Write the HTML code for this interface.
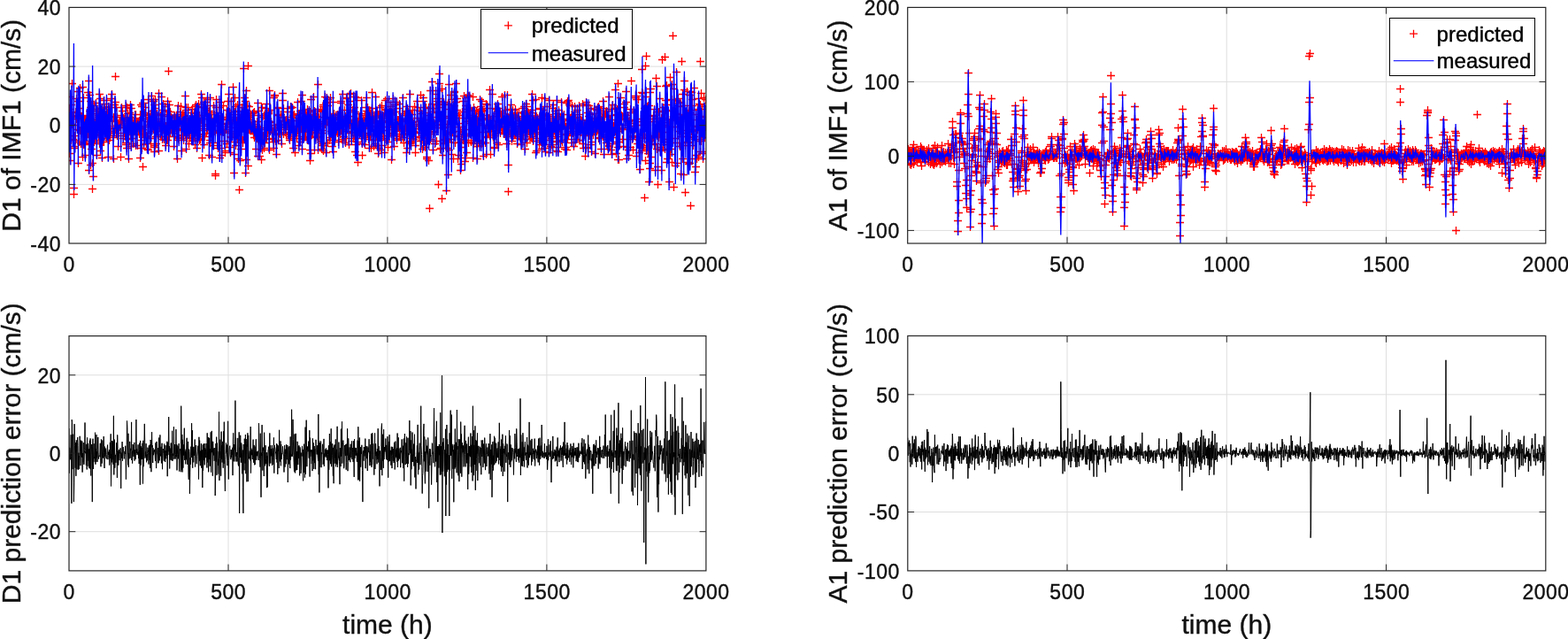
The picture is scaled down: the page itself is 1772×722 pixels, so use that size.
<!DOCTYPE html>
<html><head><meta charset="utf-8"><title>figure</title><style>html,body{margin:0;padding:0;background:#fff;}svg{display:block;}</style></head><body>
<svg width="1772" height="722" viewBox="0 0 1772 722" font-family='"Liberation Sans", Arial, Helvetica, sans-serif'>
<rect width="1772" height="722" fill="#fff"/>
<defs><clipPath id="cTL"><rect x="78" y="8.4" width="719.9" height="266.6"/></clipPath><clipPath id="cTR"><rect x="1025.7" y="8.4" width="721.1" height="266.6"/></clipPath><clipPath id="cBL"><rect x="78" y="379.6" width="719.9" height="265.3"/></clipPath><clipPath id="cBR"><rect x="1025.8" y="379.5" width="721" height="265.4"/></clipPath></defs>
<path d="M258 8.4V275M437.9 8.4V275M617.9 8.4V275M78 208.4H797.9M78 141.7H797.9M78 75.1H797.9" stroke="#dedede" stroke-width="1" fill="none"/>
<g clip-path="url(#cTL)">
<path d="M74 123.5h9m-4.5-4.5v9M74 173.5h9m-4.5-4.5v9M74 127.5h9m-4.5-4.5v9M75 131.5h9m-4.5-4.5v9M75 109.5h9m-4.5-4.5v9M75 181.5h9m-4.5-4.5v9M76 130.5h9m-4.5-4.5v9M76 158.5h9m-4.5-4.5v9M76 118.5h9m-4.5-4.5v9M77 94.5h9m-4.5-4.5v9M77 132.5h9m-4.5-4.5v9M77 140.5h9m-4.5-4.5v9M78 157.5h9m-4.5-4.5v9M78 131.5h9m-4.5-4.5v9M79 131.5h9m-4.5-4.5v9M79 219.5h9m-4.5-4.5v9M79 212.5h9m-4.5-4.5v9M80 153.5h9m-4.5-4.5v9M80 165.5h9m-4.5-4.5v9M80 167.5h9m-4.5-4.5v9M81 158.5h9m-4.5-4.5v9M81 126.5h9m-4.5-4.5v9M81 141.5h9m-4.5-4.5v9M82 111.5h9m-4.5-4.5v9M82 134.5h9m-4.5-4.5v9M82 111.5h9m-4.5-4.5v9M83 146.5h9m-4.5-4.5v9M83 127.5h9m-4.5-4.5v9M84 114.5h9m-4.5-4.5v9M84 184.5h9m-4.5-4.5v9M84 103.5h9m-4.5-4.5v9M85 160.5h9m-4.5-4.5v9M85 130.5h9m-4.5-4.5v9M85 128.5h9m-4.5-4.5v9M86 99.5h9m-4.5-4.5v9M86 122.5h9m-4.5-4.5v9M86 147.5h9m-4.5-4.5v9M87 162.5h9m-4.5-4.5v9M87 133.5h9m-4.5-4.5v9M88 131.5h9m-4.5-4.5v9M88 146.5h9m-4.5-4.5v9M88 147.5h9m-4.5-4.5v9M89 177.5h9m-4.5-4.5v9M89 98.5h9m-4.5-4.5v9M89 162.5h9m-4.5-4.5v9M90 110.5h9m-4.5-4.5v9M90 150.5h9m-4.5-4.5v9M90 163.5h9m-4.5-4.5v9M91 163.5h9m-4.5-4.5v9M91 136.5h9m-4.5-4.5v9M91 161.5h9m-4.5-4.5v9M92 175.5h9m-4.5-4.5v9M92 136.5h9m-4.5-4.5v9M93 135.5h9m-4.5-4.5v9M93 159.5h9m-4.5-4.5v9M93 150.5h9m-4.5-4.5v9M94 130.5h9m-4.5-4.5v9M94 152.5h9m-4.5-4.5v9M94 146.5h9m-4.5-4.5v9M95 136.5h9m-4.5-4.5v9M95 104.5h9m-4.5-4.5v9M95 151.5h9m-4.5-4.5v9M96 91.5h9m-4.5-4.5v9M96 192.5h9m-4.5-4.5v9M97 125.5h9m-4.5-4.5v9M97 107.5h9m-4.5-4.5v9M97 162.5h9m-4.5-4.5v9M98 114.5h9m-4.5-4.5v9M98 186.5h9m-4.5-4.5v9M98 121.5h9m-4.5-4.5v9M99 135.5h9m-4.5-4.5v9M99 118.5h9m-4.5-4.5v9M99 168.5h9m-4.5-4.5v9M100 184.5h9m-4.5-4.5v9M100 213.5h9m-4.5-4.5v9M100 144.5h9m-4.5-4.5v9M101 199.5h9m-4.5-4.5v9M101 134.5h9m-4.5-4.5v9M102 119.5h9m-4.5-4.5v9M102 160.5h9m-4.5-4.5v9M102 151.5h9m-4.5-4.5v9M103 140.5h9m-4.5-4.5v9M103 143.5h9m-4.5-4.5v9M103 158.5h9m-4.5-4.5v9M104 116.5h9m-4.5-4.5v9M104 123.5h9m-4.5-4.5v9M104 128.5h9m-4.5-4.5v9M105 175.5h9m-4.5-4.5v9M105 136.5h9m-4.5-4.5v9M106 125.5h9m-4.5-4.5v9M106 143.5h9m-4.5-4.5v9M106 140.5h9m-4.5-4.5v9M107 153.5h9m-4.5-4.5v9M107 132.5h9m-4.5-4.5v9M107 130.5h9m-4.5-4.5v9M108 106.5h9m-4.5-4.5v9M108 152.5h9m-4.5-4.5v9M108 162.5h9m-4.5-4.5v9M109 111.5h9m-4.5-4.5v9M109 170.5h9m-4.5-4.5v9M109 126.5h9m-4.5-4.5v9M110 160.5h9m-4.5-4.5v9M110 145.5h9m-4.5-4.5v9M111 123.5h9m-4.5-4.5v9M111 178.5h9m-4.5-4.5v9M111 122.5h9m-4.5-4.5v9M112 139.5h9m-4.5-4.5v9M112 160.5h9m-4.5-4.5v9M112 131.5h9m-4.5-4.5v9M113 117.5h9m-4.5-4.5v9M113 113.5h9m-4.5-4.5v9M113 160.5h9m-4.5-4.5v9M114 121.5h9m-4.5-4.5v9M114 143.5h9m-4.5-4.5v9M115 137.5h9m-4.5-4.5v9M115 151.5h9m-4.5-4.5v9M115 129.5h9m-4.5-4.5v9M116 135.5h9m-4.5-4.5v9M116 113.5h9m-4.5-4.5v9M116 156.5h9m-4.5-4.5v9M117 144.5h9m-4.5-4.5v9M117 128.5h9m-4.5-4.5v9M117 134.5h9m-4.5-4.5v9M118 177.5h9m-4.5-4.5v9M118 123.5h9m-4.5-4.5v9M118 120.5h9m-4.5-4.5v9M119 132.5h9m-4.5-4.5v9M119 158.5h9m-4.5-4.5v9M120 155.5h9m-4.5-4.5v9M120 121.5h9m-4.5-4.5v9M120 153.5h9m-4.5-4.5v9M121 111.5h9m-4.5-4.5v9M121 148.5h9m-4.5-4.5v9M121 131.5h9m-4.5-4.5v9M122 111.5h9m-4.5-4.5v9M122 106.5h9m-4.5-4.5v9M122 136.5h9m-4.5-4.5v9M123 142.5h9m-4.5-4.5v9M123 150.5h9m-4.5-4.5v9M124 179.5h9m-4.5-4.5v9M124 132.5h9m-4.5-4.5v9M124 155.5h9m-4.5-4.5v9M125 148.5h9m-4.5-4.5v9M125 144.5h9m-4.5-4.5v9M125 118.5h9m-4.5-4.5v9M126 115.5h9m-4.5-4.5v9M126 145.5h9m-4.5-4.5v9M126 86.5h9m-4.5-4.5v9M127 137.5h9m-4.5-4.5v9M127 150.5h9m-4.5-4.5v9M127 121.5h9m-4.5-4.5v9M128 153.5h9m-4.5-4.5v9M128 132.5h9m-4.5-4.5v9M129 150.5h9m-4.5-4.5v9M129 139.5h9m-4.5-4.5v9M129 165.5h9m-4.5-4.5v9M130 141.5h9m-4.5-4.5v9M130 144.5h9m-4.5-4.5v9M130 143.5h9m-4.5-4.5v9M131 143.5h9m-4.5-4.5v9M131 139.5h9m-4.5-4.5v9M131 143.5h9m-4.5-4.5v9M132 141.5h9m-4.5-4.5v9M132 177.5h9m-4.5-4.5v9M133 121.5h9m-4.5-4.5v9M133 130.5h9m-4.5-4.5v9M133 136.5h9m-4.5-4.5v9M134 125.5h9m-4.5-4.5v9M134 134.5h9m-4.5-4.5v9M134 132.5h9m-4.5-4.5v9M135 156.5h9m-4.5-4.5v9M135 133.5h9m-4.5-4.5v9M135 143.5h9m-4.5-4.5v9M136 135.5h9m-4.5-4.5v9M136 150.5h9m-4.5-4.5v9M136 141.5h9m-4.5-4.5v9M137 143.5h9m-4.5-4.5v9M137 153.5h9m-4.5-4.5v9M138 119.5h9m-4.5-4.5v9M138 161.5h9m-4.5-4.5v9M138 163.5h9m-4.5-4.5v9M139 167.5h9m-4.5-4.5v9M139 139.5h9m-4.5-4.5v9M139 121.5h9m-4.5-4.5v9M140 157.5h9m-4.5-4.5v9M140 137.5h9m-4.5-4.5v9M140 128.5h9m-4.5-4.5v9M141 179.5h9m-4.5-4.5v9M141 144.5h9m-4.5-4.5v9M142 145.5h9m-4.5-4.5v9M142 127.5h9m-4.5-4.5v9M142 132.5h9m-4.5-4.5v9M143 152.5h9m-4.5-4.5v9M143 118.5h9m-4.5-4.5v9M143 149.5h9m-4.5-4.5v9M144 165.5h9m-4.5-4.5v9M144 143.5h9m-4.5-4.5v9M144 122.5h9m-4.5-4.5v9M145 156.5h9m-4.5-4.5v9M145 151.5h9m-4.5-4.5v9M145 135.5h9m-4.5-4.5v9M146 139.5h9m-4.5-4.5v9M146 162.5h9m-4.5-4.5v9M147 144.5h9m-4.5-4.5v9M147 139.5h9m-4.5-4.5v9M147 147.5h9m-4.5-4.5v9M148 133.5h9m-4.5-4.5v9M148 148.5h9m-4.5-4.5v9M148 129.5h9m-4.5-4.5v9M149 164.5h9m-4.5-4.5v9M149 139.5h9m-4.5-4.5v9M149 129.5h9m-4.5-4.5v9M150 152.5h9m-4.5-4.5v9M150 137.5h9m-4.5-4.5v9M151 164.5h9m-4.5-4.5v9M151 138.5h9m-4.5-4.5v9M151 137.5h9m-4.5-4.5v9M152 137.5h9m-4.5-4.5v9M152 147.5h9m-4.5-4.5v9M152 143.5h9m-4.5-4.5v9M153 151.5h9m-4.5-4.5v9M153 136.5h9m-4.5-4.5v9M153 147.5h9m-4.5-4.5v9M154 144.5h9m-4.5-4.5v9M154 129.5h9m-4.5-4.5v9M154 178.5h9m-4.5-4.5v9M155 158.5h9m-4.5-4.5v9M155 118.5h9m-4.5-4.5v9M156 167.5h9m-4.5-4.5v9M156 120.5h9m-4.5-4.5v9M156 144.5h9m-4.5-4.5v9M157 188.5h9m-4.5-4.5v9M157 146.5h9m-4.5-4.5v9M157 116.5h9m-4.5-4.5v9M158 116.5h9m-4.5-4.5v9M158 163.5h9m-4.5-4.5v9M158 152.5h9m-4.5-4.5v9M159 127.5h9m-4.5-4.5v9M159 155.5h9m-4.5-4.5v9M160 129.5h9m-4.5-4.5v9M160 150.5h9m-4.5-4.5v9M160 121.5h9m-4.5-4.5v9M161 153.5h9m-4.5-4.5v9M161 162.5h9m-4.5-4.5v9M161 154.5h9m-4.5-4.5v9M162 155.5h9m-4.5-4.5v9M162 168.5h9m-4.5-4.5v9M162 137.5h9m-4.5-4.5v9M163 134.5h9m-4.5-4.5v9M163 169.5h9m-4.5-4.5v9M163 112.5h9m-4.5-4.5v9M164 132.5h9m-4.5-4.5v9M164 130.5h9m-4.5-4.5v9M165 143.5h9m-4.5-4.5v9M165 156.5h9m-4.5-4.5v9M165 141.5h9m-4.5-4.5v9M166 128.5h9m-4.5-4.5v9M166 134.5h9m-4.5-4.5v9M166 162.5h9m-4.5-4.5v9M167 108.5h9m-4.5-4.5v9M167 125.5h9m-4.5-4.5v9M167 148.5h9m-4.5-4.5v9M168 142.5h9m-4.5-4.5v9M168 129.5h9m-4.5-4.5v9M169 114.5h9m-4.5-4.5v9M169 131.5h9m-4.5-4.5v9M169 146.5h9m-4.5-4.5v9M170 118.5h9m-4.5-4.5v9M170 171.5h9m-4.5-4.5v9M170 166.5h9m-4.5-4.5v9M171 122.5h9m-4.5-4.5v9M171 164.5h9m-4.5-4.5v9M171 112.5h9m-4.5-4.5v9M172 154.5h9m-4.5-4.5v9M172 162.5h9m-4.5-4.5v9M172 129.5h9m-4.5-4.5v9M173 136.5h9m-4.5-4.5v9M173 128.5h9m-4.5-4.5v9M174 152.5h9m-4.5-4.5v9M174 141.5h9m-4.5-4.5v9M174 148.5h9m-4.5-4.5v9M175 170.5h9m-4.5-4.5v9M175 105.5h9m-4.5-4.5v9M175 130.5h9m-4.5-4.5v9M176 143.5h9m-4.5-4.5v9M176 140.5h9m-4.5-4.5v9M176 141.5h9m-4.5-4.5v9M177 154.5h9m-4.5-4.5v9M177 130.5h9m-4.5-4.5v9M178 134.5h9m-4.5-4.5v9M178 154.5h9m-4.5-4.5v9M178 109.5h9m-4.5-4.5v9M179 140.5h9m-4.5-4.5v9M179 145.5h9m-4.5-4.5v9M179 157.5h9m-4.5-4.5v9M180 117.5h9m-4.5-4.5v9M180 124.5h9m-4.5-4.5v9M180 143.5h9m-4.5-4.5v9M181 148.5h9m-4.5-4.5v9M181 149.5h9m-4.5-4.5v9M181 157.5h9m-4.5-4.5v9M182 120.5h9m-4.5-4.5v9M182 143.5h9m-4.5-4.5v9M183 164.5h9m-4.5-4.5v9M183 150.5h9m-4.5-4.5v9M183 142.5h9m-4.5-4.5v9M184 158.5h9m-4.5-4.5v9M184 131.5h9m-4.5-4.5v9M184 129.5h9m-4.5-4.5v9M185 158.5h9m-4.5-4.5v9M185 114.5h9m-4.5-4.5v9M185 125.5h9m-4.5-4.5v9M186 126.5h9m-4.5-4.5v9M186 80.5h9m-4.5-4.5v9M187 154.5h9m-4.5-4.5v9M187 118.5h9m-4.5-4.5v9M187 141.5h9m-4.5-4.5v9M188 126.5h9m-4.5-4.5v9M188 149.5h9m-4.5-4.5v9M188 142.5h9m-4.5-4.5v9M189 142.5h9m-4.5-4.5v9M189 132.5h9m-4.5-4.5v9M189 144.5h9m-4.5-4.5v9M190 136.5h9m-4.5-4.5v9M190 145.5h9m-4.5-4.5v9M190 133.5h9m-4.5-4.5v9M191 150.5h9m-4.5-4.5v9M191 146.5h9m-4.5-4.5v9M192 136.5h9m-4.5-4.5v9M192 140.5h9m-4.5-4.5v9M192 165.5h9m-4.5-4.5v9M193 130.5h9m-4.5-4.5v9M193 139.5h9m-4.5-4.5v9M193 154.5h9m-4.5-4.5v9M194 144.5h9m-4.5-4.5v9M194 136.5h9m-4.5-4.5v9M194 138.5h9m-4.5-4.5v9M195 131.5h9m-4.5-4.5v9M195 147.5h9m-4.5-4.5v9M196 179.5h9m-4.5-4.5v9M196 138.5h9m-4.5-4.5v9M196 129.5h9m-4.5-4.5v9M197 119.5h9m-4.5-4.5v9M197 155.5h9m-4.5-4.5v9M197 156.5h9m-4.5-4.5v9M198 158.5h9m-4.5-4.5v9M198 138.5h9m-4.5-4.5v9M198 145.5h9m-4.5-4.5v9M199 138.5h9m-4.5-4.5v9M199 126.5h9m-4.5-4.5v9M199 126.5h9m-4.5-4.5v9M200 146.5h9m-4.5-4.5v9M200 120.5h9m-4.5-4.5v9M201 170.5h9m-4.5-4.5v9M201 145.5h9m-4.5-4.5v9M201 131.5h9m-4.5-4.5v9M202 153.5h9m-4.5-4.5v9M202 129.5h9m-4.5-4.5v9M202 152.5h9m-4.5-4.5v9M203 137.5h9m-4.5-4.5v9M203 158.5h9m-4.5-4.5v9M203 131.5h9m-4.5-4.5v9M204 130.5h9m-4.5-4.5v9M204 135.5h9m-4.5-4.5v9M205 151.5h9m-4.5-4.5v9M205 108.5h9m-4.5-4.5v9M205 143.5h9m-4.5-4.5v9M206 121.5h9m-4.5-4.5v9M206 168.5h9m-4.5-4.5v9M206 124.5h9m-4.5-4.5v9M207 138.5h9m-4.5-4.5v9M207 156.5h9m-4.5-4.5v9M207 150.5h9m-4.5-4.5v9M208 149.5h9m-4.5-4.5v9M208 121.5h9m-4.5-4.5v9M208 144.5h9m-4.5-4.5v9M209 162.5h9m-4.5-4.5v9M209 150.5h9m-4.5-4.5v9M210 138.5h9m-4.5-4.5v9M210 143.5h9m-4.5-4.5v9M210 155.5h9m-4.5-4.5v9M211 133.5h9m-4.5-4.5v9M211 136.5h9m-4.5-4.5v9M211 147.5h9m-4.5-4.5v9M212 127.5h9m-4.5-4.5v9M212 151.5h9m-4.5-4.5v9M212 151.5h9m-4.5-4.5v9M213 123.5h9m-4.5-4.5v9M213 139.5h9m-4.5-4.5v9M214 158.5h9m-4.5-4.5v9M214 159.5h9m-4.5-4.5v9M214 134.5h9m-4.5-4.5v9M215 151.5h9m-4.5-4.5v9M215 128.5h9m-4.5-4.5v9M215 153.5h9m-4.5-4.5v9M216 120.5h9m-4.5-4.5v9M216 163.5h9m-4.5-4.5v9M216 143.5h9m-4.5-4.5v9M217 137.5h9m-4.5-4.5v9M217 118.5h9m-4.5-4.5v9M217 149.5h9m-4.5-4.5v9M218 158.5h9m-4.5-4.5v9M218 167.5h9m-4.5-4.5v9M219 120.5h9m-4.5-4.5v9M219 120.5h9m-4.5-4.5v9M219 156.5h9m-4.5-4.5v9M220 147.5h9m-4.5-4.5v9M220 130.5h9m-4.5-4.5v9M220 117.5h9m-4.5-4.5v9M221 158.5h9m-4.5-4.5v9M221 130.5h9m-4.5-4.5v9M221 151.5h9m-4.5-4.5v9M222 157.5h9m-4.5-4.5v9M222 139.5h9m-4.5-4.5v9M223 133.5h9m-4.5-4.5v9M223 106.5h9m-4.5-4.5v9M223 135.5h9m-4.5-4.5v9M224 110.5h9m-4.5-4.5v9M224 142.5h9m-4.5-4.5v9M224 178.5h9m-4.5-4.5v9M225 142.5h9m-4.5-4.5v9M225 152.5h9m-4.5-4.5v9M225 121.5h9m-4.5-4.5v9M226 145.5h9m-4.5-4.5v9M226 163.5h9m-4.5-4.5v9M226 115.5h9m-4.5-4.5v9M227 154.5h9m-4.5-4.5v9M227 134.5h9m-4.5-4.5v9M228 122.5h9m-4.5-4.5v9M228 115.5h9m-4.5-4.5v9M228 127.5h9m-4.5-4.5v9M229 124.5h9m-4.5-4.5v9M229 150.5h9m-4.5-4.5v9M229 127.5h9m-4.5-4.5v9M230 119.5h9m-4.5-4.5v9M230 112.5h9m-4.5-4.5v9M230 147.5h9m-4.5-4.5v9M231 140.5h9m-4.5-4.5v9M231 140.5h9m-4.5-4.5v9M232 127.5h9m-4.5-4.5v9M232 175.5h9m-4.5-4.5v9M232 125.5h9m-4.5-4.5v9M233 158.5h9m-4.5-4.5v9M233 110.5h9m-4.5-4.5v9M233 161.5h9m-4.5-4.5v9M234 129.5h9m-4.5-4.5v9M234 136.5h9m-4.5-4.5v9M234 142.5h9m-4.5-4.5v9M235 147.5h9m-4.5-4.5v9M235 177.5h9m-4.5-4.5v9M235 133.5h9m-4.5-4.5v9M236 150.5h9m-4.5-4.5v9M236 161.5h9m-4.5-4.5v9M237 135.5h9m-4.5-4.5v9M237 164.5h9m-4.5-4.5v9M237 119.5h9m-4.5-4.5v9M238 148.5h9m-4.5-4.5v9M238 147.5h9m-4.5-4.5v9M238 129.5h9m-4.5-4.5v9M239 198.5h9m-4.5-4.5v9M239 149.5h9m-4.5-4.5v9M239 196.5h9m-4.5-4.5v9M240 121.5h9m-4.5-4.5v9M240 112.5h9m-4.5-4.5v9M241 127.5h9m-4.5-4.5v9M241 137.5h9m-4.5-4.5v9M241 164.5h9m-4.5-4.5v9M242 134.5h9m-4.5-4.5v9M242 132.5h9m-4.5-4.5v9M242 167.5h9m-4.5-4.5v9M243 142.5h9m-4.5-4.5v9M243 138.5h9m-4.5-4.5v9M243 121.5h9m-4.5-4.5v9M244 178.5h9m-4.5-4.5v9M244 167.5h9m-4.5-4.5v9M244 134.5h9m-4.5-4.5v9M245 148.5h9m-4.5-4.5v9M245 115.5h9m-4.5-4.5v9M246 95.5h9m-4.5-4.5v9M246 134.5h9m-4.5-4.5v9M246 175.5h9m-4.5-4.5v9M247 132.5h9m-4.5-4.5v9M247 147.5h9m-4.5-4.5v9M247 147.5h9m-4.5-4.5v9M248 134.5h9m-4.5-4.5v9M248 119.5h9m-4.5-4.5v9M248 149.5h9m-4.5-4.5v9M249 149.5h9m-4.5-4.5v9M249 159.5h9m-4.5-4.5v9M250 170.5h9m-4.5-4.5v9M250 172.5h9m-4.5-4.5v9M250 143.5h9m-4.5-4.5v9M251 139.5h9m-4.5-4.5v9M251 132.5h9m-4.5-4.5v9M251 146.5h9m-4.5-4.5v9M252 140.5h9m-4.5-4.5v9M252 124.5h9m-4.5-4.5v9M252 162.5h9m-4.5-4.5v9M253 135.5h9m-4.5-4.5v9M253 114.5h9m-4.5-4.5v9M253 140.5h9m-4.5-4.5v9M254 134.5h9m-4.5-4.5v9M254 106.5h9m-4.5-4.5v9M255 166.5h9m-4.5-4.5v9M255 148.5h9m-4.5-4.5v9M255 126.5h9m-4.5-4.5v9M256 154.5h9m-4.5-4.5v9M256 172.5h9m-4.5-4.5v9M256 160.5h9m-4.5-4.5v9M257 114.5h9m-4.5-4.5v9M257 150.5h9m-4.5-4.5v9M257 155.5h9m-4.5-4.5v9M258 139.5h9m-4.5-4.5v9M258 154.5h9m-4.5-4.5v9M259 129.5h9m-4.5-4.5v9M259 132.5h9m-4.5-4.5v9M259 98.5h9m-4.5-4.5v9M260 126.5h9m-4.5-4.5v9M260 174.5h9m-4.5-4.5v9M260 195.5h9m-4.5-4.5v9M261 126.5h9m-4.5-4.5v9M261 160.5h9m-4.5-4.5v9M261 110.5h9m-4.5-4.5v9M262 152.5h9m-4.5-4.5v9M262 120.5h9m-4.5-4.5v9M262 164.5h9m-4.5-4.5v9M263 144.5h9m-4.5-4.5v9M263 137.5h9m-4.5-4.5v9M264 157.5h9m-4.5-4.5v9M264 135.5h9m-4.5-4.5v9M264 118.5h9m-4.5-4.5v9M265 134.5h9m-4.5-4.5v9M265 179.5h9m-4.5-4.5v9M265 141.5h9m-4.5-4.5v9M266 214.5h9m-4.5-4.5v9M266 118.5h9m-4.5-4.5v9M266 125.5h9m-4.5-4.5v9M267 181.5h9m-4.5-4.5v9M267 133.5h9m-4.5-4.5v9M268 147.5h9m-4.5-4.5v9M268 130.5h9m-4.5-4.5v9M268 168.5h9m-4.5-4.5v9M269 121.5h9m-4.5-4.5v9M269 135.5h9m-4.5-4.5v9M269 157.5h9m-4.5-4.5v9M270 125.5h9m-4.5-4.5v9M270 158.5h9m-4.5-4.5v9M270 161.5h9m-4.5-4.5v9M271 77.5h9m-4.5-4.5v9M271 157.5h9m-4.5-4.5v9M271 140.5h9m-4.5-4.5v9M272 110.5h9m-4.5-4.5v9M272 157.5h9m-4.5-4.5v9M273 114.5h9m-4.5-4.5v9M273 131.5h9m-4.5-4.5v9M273 195.5h9m-4.5-4.5v9M274 102.5h9m-4.5-4.5v9M274 124.5h9m-4.5-4.5v9M274 180.5h9m-4.5-4.5v9M275 134.5h9m-4.5-4.5v9M275 125.5h9m-4.5-4.5v9M275 119.5h9m-4.5-4.5v9M276 187.5h9m-4.5-4.5v9M276 74.5h9m-4.5-4.5v9M277 135.5h9m-4.5-4.5v9M277 146.5h9m-4.5-4.5v9M277 120.5h9m-4.5-4.5v9M278 132.5h9m-4.5-4.5v9M278 145.5h9m-4.5-4.5v9M278 138.5h9m-4.5-4.5v9M279 130.5h9m-4.5-4.5v9M279 145.5h9m-4.5-4.5v9M279 147.5h9m-4.5-4.5v9M280 144.5h9m-4.5-4.5v9M280 141.5h9m-4.5-4.5v9M280 146.5h9m-4.5-4.5v9M281 128.5h9m-4.5-4.5v9M281 145.5h9m-4.5-4.5v9M282 127.5h9m-4.5-4.5v9M282 150.5h9m-4.5-4.5v9M282 151.5h9m-4.5-4.5v9M283 126.5h9m-4.5-4.5v9M283 155.5h9m-4.5-4.5v9M283 137.5h9m-4.5-4.5v9M284 140.5h9m-4.5-4.5v9M284 143.5h9m-4.5-4.5v9M284 150.5h9m-4.5-4.5v9M285 168.5h9m-4.5-4.5v9M285 146.5h9m-4.5-4.5v9M286 144.5h9m-4.5-4.5v9M286 156.5h9m-4.5-4.5v9M286 137.5h9m-4.5-4.5v9M287 157.5h9m-4.5-4.5v9M287 116.5h9m-4.5-4.5v9M287 176.5h9m-4.5-4.5v9M288 130.5h9m-4.5-4.5v9M288 148.5h9m-4.5-4.5v9M288 125.5h9m-4.5-4.5v9M289 144.5h9m-4.5-4.5v9M289 176.5h9m-4.5-4.5v9M289 159.5h9m-4.5-4.5v9M290 152.5h9m-4.5-4.5v9M290 146.5h9m-4.5-4.5v9M291 180.5h9m-4.5-4.5v9M291 121.5h9m-4.5-4.5v9M291 161.5h9m-4.5-4.5v9M292 121.5h9m-4.5-4.5v9M292 132.5h9m-4.5-4.5v9M292 169.5h9m-4.5-4.5v9M293 158.5h9m-4.5-4.5v9M293 155.5h9m-4.5-4.5v9M293 153.5h9m-4.5-4.5v9M294 167.5h9m-4.5-4.5v9M294 130.5h9m-4.5-4.5v9M295 161.5h9m-4.5-4.5v9M295 156.5h9m-4.5-4.5v9M295 128.5h9m-4.5-4.5v9M296 149.5h9m-4.5-4.5v9M296 122.5h9m-4.5-4.5v9M296 157.5h9m-4.5-4.5v9M297 157.5h9m-4.5-4.5v9M297 117.5h9m-4.5-4.5v9M297 134.5h9m-4.5-4.5v9M298 150.5h9m-4.5-4.5v9M298 148.5h9m-4.5-4.5v9M298 138.5h9m-4.5-4.5v9M299 128.5h9m-4.5-4.5v9M299 126.5h9m-4.5-4.5v9M300 169.5h9m-4.5-4.5v9M300 169.5h9m-4.5-4.5v9M300 102.5h9m-4.5-4.5v9M301 141.5h9m-4.5-4.5v9M301 148.5h9m-4.5-4.5v9M301 124.5h9m-4.5-4.5v9M302 145.5h9m-4.5-4.5v9M302 138.5h9m-4.5-4.5v9M302 137.5h9m-4.5-4.5v9M303 146.5h9m-4.5-4.5v9M303 156.5h9m-4.5-4.5v9M304 148.5h9m-4.5-4.5v9M304 157.5h9m-4.5-4.5v9M304 150.5h9m-4.5-4.5v9M305 167.5h9m-4.5-4.5v9M305 110.5h9m-4.5-4.5v9M305 160.5h9m-4.5-4.5v9M306 107.5h9m-4.5-4.5v9M306 108.5h9m-4.5-4.5v9M306 147.5h9m-4.5-4.5v9M307 144.5h9m-4.5-4.5v9M307 159.5h9m-4.5-4.5v9M307 147.5h9m-4.5-4.5v9M308 174.5h9m-4.5-4.5v9M308 152.5h9m-4.5-4.5v9M309 121.5h9m-4.5-4.5v9M309 140.5h9m-4.5-4.5v9M309 122.5h9m-4.5-4.5v9M310 144.5h9m-4.5-4.5v9M310 130.5h9m-4.5-4.5v9M310 158.5h9m-4.5-4.5v9M311 129.5h9m-4.5-4.5v9M311 129.5h9m-4.5-4.5v9M311 150.5h9m-4.5-4.5v9M312 141.5h9m-4.5-4.5v9M312 151.5h9m-4.5-4.5v9M313 129.5h9m-4.5-4.5v9M313 143.5h9m-4.5-4.5v9M313 141.5h9m-4.5-4.5v9M314 162.5h9m-4.5-4.5v9M314 140.5h9m-4.5-4.5v9M314 144.5h9m-4.5-4.5v9M315 113.5h9m-4.5-4.5v9M315 105.5h9m-4.5-4.5v9M315 132.5h9m-4.5-4.5v9M316 122.5h9m-4.5-4.5v9M316 151.5h9m-4.5-4.5v9M316 136.5h9m-4.5-4.5v9M317 143.5h9m-4.5-4.5v9M317 141.5h9m-4.5-4.5v9M318 137.5h9m-4.5-4.5v9M318 149.5h9m-4.5-4.5v9M318 137.5h9m-4.5-4.5v9M319 152.5h9m-4.5-4.5v9M319 135.5h9m-4.5-4.5v9M319 146.5h9m-4.5-4.5v9M320 141.5h9m-4.5-4.5v9M320 137.5h9m-4.5-4.5v9M320 126.5h9m-4.5-4.5v9M321 126.5h9m-4.5-4.5v9M321 140.5h9m-4.5-4.5v9M322 152.5h9m-4.5-4.5v9M322 138.5h9m-4.5-4.5v9M322 150.5h9m-4.5-4.5v9M323 156.5h9m-4.5-4.5v9M323 140.5h9m-4.5-4.5v9M323 158.5h9m-4.5-4.5v9M324 122.5h9m-4.5-4.5v9M324 154.5h9m-4.5-4.5v9M324 120.5h9m-4.5-4.5v9M325 121.5h9m-4.5-4.5v9M325 136.5h9m-4.5-4.5v9M325 136.5h9m-4.5-4.5v9M326 132.5h9m-4.5-4.5v9M326 121.5h9m-4.5-4.5v9M327 154.5h9m-4.5-4.5v9M327 130.5h9m-4.5-4.5v9M327 167.5h9m-4.5-4.5v9M328 147.5h9m-4.5-4.5v9M328 146.5h9m-4.5-4.5v9M328 129.5h9m-4.5-4.5v9M329 147.5h9m-4.5-4.5v9M329 172.5h9m-4.5-4.5v9M329 146.5h9m-4.5-4.5v9M330 145.5h9m-4.5-4.5v9M330 136.5h9m-4.5-4.5v9M331 156.5h9m-4.5-4.5v9M331 145.5h9m-4.5-4.5v9M331 153.5h9m-4.5-4.5v9M332 133.5h9m-4.5-4.5v9M332 115.5h9m-4.5-4.5v9M332 147.5h9m-4.5-4.5v9M333 128.5h9m-4.5-4.5v9M333 143.5h9m-4.5-4.5v9M333 164.5h9m-4.5-4.5v9M334 146.5h9m-4.5-4.5v9M334 134.5h9m-4.5-4.5v9M334 128.5h9m-4.5-4.5v9M335 160.5h9m-4.5-4.5v9M335 125.5h9m-4.5-4.5v9M336 114.5h9m-4.5-4.5v9M336 145.5h9m-4.5-4.5v9M336 141.5h9m-4.5-4.5v9M337 140.5h9m-4.5-4.5v9M337 168.5h9m-4.5-4.5v9M337 107.5h9m-4.5-4.5v9M338 156.5h9m-4.5-4.5v9M338 132.5h9m-4.5-4.5v9M338 157.5h9m-4.5-4.5v9M339 124.5h9m-4.5-4.5v9M339 154.5h9m-4.5-4.5v9M340 149.5h9m-4.5-4.5v9M340 127.5h9m-4.5-4.5v9M340 146.5h9m-4.5-4.5v9M341 139.5h9m-4.5-4.5v9M341 154.5h9m-4.5-4.5v9M341 127.5h9m-4.5-4.5v9M342 134.5h9m-4.5-4.5v9M342 131.5h9m-4.5-4.5v9M342 145.5h9m-4.5-4.5v9M343 158.5h9m-4.5-4.5v9M343 123.5h9m-4.5-4.5v9M343 155.5h9m-4.5-4.5v9M344 126.5h9m-4.5-4.5v9M344 156.5h9m-4.5-4.5v9M345 154.5h9m-4.5-4.5v9M345 124.5h9m-4.5-4.5v9M345 146.5h9m-4.5-4.5v9M346 181.5h9m-4.5-4.5v9M346 126.5h9m-4.5-4.5v9M346 169.5h9m-4.5-4.5v9M347 173.5h9m-4.5-4.5v9M347 112.5h9m-4.5-4.5v9M347 144.5h9m-4.5-4.5v9M348 135.5h9m-4.5-4.5v9M348 150.5h9m-4.5-4.5v9M349 147.5h9m-4.5-4.5v9M349 131.5h9m-4.5-4.5v9M349 149.5h9m-4.5-4.5v9M350 109.5h9m-4.5-4.5v9M350 130.5h9m-4.5-4.5v9M350 130.5h9m-4.5-4.5v9M351 150.5h9m-4.5-4.5v9M351 169.5h9m-4.5-4.5v9M351 125.5h9m-4.5-4.5v9M352 150.5h9m-4.5-4.5v9M352 129.5h9m-4.5-4.5v9M352 155.5h9m-4.5-4.5v9M353 131.5h9m-4.5-4.5v9M353 135.5h9m-4.5-4.5v9M354 139.5h9m-4.5-4.5v9M354 154.5h9m-4.5-4.5v9M354 131.5h9m-4.5-4.5v9M355 95.5h9m-4.5-4.5v9M355 169.5h9m-4.5-4.5v9M355 123.5h9m-4.5-4.5v9M356 155.5h9m-4.5-4.5v9M356 132.5h9m-4.5-4.5v9M356 147.5h9m-4.5-4.5v9M357 142.5h9m-4.5-4.5v9M357 140.5h9m-4.5-4.5v9M358 160.5h9m-4.5-4.5v9M358 125.5h9m-4.5-4.5v9M358 126.5h9m-4.5-4.5v9M359 168.5h9m-4.5-4.5v9M359 164.5h9m-4.5-4.5v9M359 150.5h9m-4.5-4.5v9M360 147.5h9m-4.5-4.5v9M360 124.5h9m-4.5-4.5v9M360 162.5h9m-4.5-4.5v9M361 170.5h9m-4.5-4.5v9M361 118.5h9m-4.5-4.5v9M361 120.5h9m-4.5-4.5v9M362 164.5h9m-4.5-4.5v9M362 137.5h9m-4.5-4.5v9M363 109.5h9m-4.5-4.5v9M363 140.5h9m-4.5-4.5v9M363 139.5h9m-4.5-4.5v9M364 116.5h9m-4.5-4.5v9M364 141.5h9m-4.5-4.5v9M364 172.5h9m-4.5-4.5v9M365 110.5h9m-4.5-4.5v9M365 116.5h9m-4.5-4.5v9M365 135.5h9m-4.5-4.5v9M366 112.5h9m-4.5-4.5v9M366 119.5h9m-4.5-4.5v9M366 161.5h9m-4.5-4.5v9M367 137.5h9m-4.5-4.5v9M367 138.5h9m-4.5-4.5v9M368 158.5h9m-4.5-4.5v9M368 115.5h9m-4.5-4.5v9M368 155.5h9m-4.5-4.5v9M369 110.5h9m-4.5-4.5v9M369 135.5h9m-4.5-4.5v9M369 155.5h9m-4.5-4.5v9M370 139.5h9m-4.5-4.5v9M370 148.5h9m-4.5-4.5v9M370 133.5h9m-4.5-4.5v9M371 153.5h9m-4.5-4.5v9M371 165.5h9m-4.5-4.5v9M372 145.5h9m-4.5-4.5v9M372 115.5h9m-4.5-4.5v9M372 171.5h9m-4.5-4.5v9M373 147.5h9m-4.5-4.5v9M373 134.5h9m-4.5-4.5v9M373 128.5h9m-4.5-4.5v9M374 158.5h9m-4.5-4.5v9M374 135.5h9m-4.5-4.5v9M374 139.5h9m-4.5-4.5v9M375 152.5h9m-4.5-4.5v9M375 133.5h9m-4.5-4.5v9M375 132.5h9m-4.5-4.5v9M376 148.5h9m-4.5-4.5v9M376 146.5h9m-4.5-4.5v9M377 130.5h9m-4.5-4.5v9M377 150.5h9m-4.5-4.5v9M377 129.5h9m-4.5-4.5v9M378 144.5h9m-4.5-4.5v9M378 130.5h9m-4.5-4.5v9M378 160.5h9m-4.5-4.5v9M379 130.5h9m-4.5-4.5v9M379 126.5h9m-4.5-4.5v9M379 147.5h9m-4.5-4.5v9M380 149.5h9m-4.5-4.5v9M380 151.5h9m-4.5-4.5v9M381 116.5h9m-4.5-4.5v9M381 114.5h9m-4.5-4.5v9M381 146.5h9m-4.5-4.5v9M382 139.5h9m-4.5-4.5v9M382 131.5h9m-4.5-4.5v9M382 157.5h9m-4.5-4.5v9M383 106.5h9m-4.5-4.5v9M383 159.5h9m-4.5-4.5v9M383 138.5h9m-4.5-4.5v9M384 154.5h9m-4.5-4.5v9M384 142.5h9m-4.5-4.5v9M384 136.5h9m-4.5-4.5v9M385 124.5h9m-4.5-4.5v9M385 131.5h9m-4.5-4.5v9M386 161.5h9m-4.5-4.5v9M386 131.5h9m-4.5-4.5v9M386 133.5h9m-4.5-4.5v9M387 148.5h9m-4.5-4.5v9M387 156.5h9m-4.5-4.5v9M387 110.5h9m-4.5-4.5v9M388 111.5h9m-4.5-4.5v9M388 141.5h9m-4.5-4.5v9M388 141.5h9m-4.5-4.5v9M389 118.5h9m-4.5-4.5v9M389 131.5h9m-4.5-4.5v9M390 136.5h9m-4.5-4.5v9M390 163.5h9m-4.5-4.5v9M390 135.5h9m-4.5-4.5v9M391 106.5h9m-4.5-4.5v9M391 141.5h9m-4.5-4.5v9M391 114.5h9m-4.5-4.5v9M392 105.5h9m-4.5-4.5v9M392 136.5h9m-4.5-4.5v9M392 150.5h9m-4.5-4.5v9M393 159.5h9m-4.5-4.5v9M393 140.5h9m-4.5-4.5v9M393 141.5h9m-4.5-4.5v9M394 149.5h9m-4.5-4.5v9M394 124.5h9m-4.5-4.5v9M395 156.5h9m-4.5-4.5v9M395 124.5h9m-4.5-4.5v9M395 109.5h9m-4.5-4.5v9M396 121.5h9m-4.5-4.5v9M396 141.5h9m-4.5-4.5v9M396 153.5h9m-4.5-4.5v9M397 126.5h9m-4.5-4.5v9M397 171.5h9m-4.5-4.5v9M397 109.5h9m-4.5-4.5v9M398 150.5h9m-4.5-4.5v9M398 163.5h9m-4.5-4.5v9M399 175.5h9m-4.5-4.5v9M399 110.5h9m-4.5-4.5v9M399 160.5h9m-4.5-4.5v9M400 146.5h9m-4.5-4.5v9M400 183.5h9m-4.5-4.5v9M400 138.5h9m-4.5-4.5v9M401 146.5h9m-4.5-4.5v9M401 133.5h9m-4.5-4.5v9M401 149.5h9m-4.5-4.5v9M402 149.5h9m-4.5-4.5v9M402 137.5h9m-4.5-4.5v9M402 144.5h9m-4.5-4.5v9M403 150.5h9m-4.5-4.5v9M403 128.5h9m-4.5-4.5v9M404 144.5h9m-4.5-4.5v9M404 156.5h9m-4.5-4.5v9M404 113.5h9m-4.5-4.5v9M405 162.5h9m-4.5-4.5v9M405 139.5h9m-4.5-4.5v9M405 175.5h9m-4.5-4.5v9M406 139.5h9m-4.5-4.5v9M406 135.5h9m-4.5-4.5v9M406 150.5h9m-4.5-4.5v9M407 136.5h9m-4.5-4.5v9M407 153.5h9m-4.5-4.5v9M408 163.5h9m-4.5-4.5v9M408 155.5h9m-4.5-4.5v9M408 130.5h9m-4.5-4.5v9M409 142.5h9m-4.5-4.5v9M409 155.5h9m-4.5-4.5v9M409 121.5h9m-4.5-4.5v9M410 110.5h9m-4.5-4.5v9M410 125.5h9m-4.5-4.5v9M410 141.5h9m-4.5-4.5v9M411 142.5h9m-4.5-4.5v9M411 151.5h9m-4.5-4.5v9M411 121.5h9m-4.5-4.5v9M412 131.5h9m-4.5-4.5v9M412 157.5h9m-4.5-4.5v9M413 124.5h9m-4.5-4.5v9M413 167.5h9m-4.5-4.5v9M413 132.5h9m-4.5-4.5v9M414 130.5h9m-4.5-4.5v9M414 153.5h9m-4.5-4.5v9M414 130.5h9m-4.5-4.5v9M415 151.5h9m-4.5-4.5v9M415 128.5h9m-4.5-4.5v9M415 167.5h9m-4.5-4.5v9M416 122.5h9m-4.5-4.5v9M416 104.5h9m-4.5-4.5v9M417 142.5h9m-4.5-4.5v9M417 130.5h9m-4.5-4.5v9M417 158.5h9m-4.5-4.5v9M418 135.5h9m-4.5-4.5v9M418 165.5h9m-4.5-4.5v9M418 158.5h9m-4.5-4.5v9M419 146.5h9m-4.5-4.5v9M419 142.5h9m-4.5-4.5v9M419 133.5h9m-4.5-4.5v9M420 162.5h9m-4.5-4.5v9M420 109.5h9m-4.5-4.5v9M420 137.5h9m-4.5-4.5v9M421 153.5h9m-4.5-4.5v9M421 143.5h9m-4.5-4.5v9M422 126.5h9m-4.5-4.5v9M422 164.5h9m-4.5-4.5v9M422 149.5h9m-4.5-4.5v9M423 129.5h9m-4.5-4.5v9M423 143.5h9m-4.5-4.5v9M423 173.5h9m-4.5-4.5v9M424 129.5h9m-4.5-4.5v9M424 154.5h9m-4.5-4.5v9M424 167.5h9m-4.5-4.5v9M425 121.5h9m-4.5-4.5v9M425 142.5h9m-4.5-4.5v9M426 131.5h9m-4.5-4.5v9M426 169.5h9m-4.5-4.5v9M426 136.5h9m-4.5-4.5v9M427 119.5h9m-4.5-4.5v9M427 164.5h9m-4.5-4.5v9M427 156.5h9m-4.5-4.5v9M428 138.5h9m-4.5-4.5v9M428 130.5h9m-4.5-4.5v9M428 147.5h9m-4.5-4.5v9M429 153.5h9m-4.5-4.5v9M429 131.5h9m-4.5-4.5v9M429 143.5h9m-4.5-4.5v9M430 127.5h9m-4.5-4.5v9M430 172.5h9m-4.5-4.5v9M431 123.5h9m-4.5-4.5v9M431 124.5h9m-4.5-4.5v9M431 113.5h9m-4.5-4.5v9M432 129.5h9m-4.5-4.5v9M432 133.5h9m-4.5-4.5v9M432 158.5h9m-4.5-4.5v9M433 136.5h9m-4.5-4.5v9M433 111.5h9m-4.5-4.5v9M433 127.5h9m-4.5-4.5v9M434 160.5h9m-4.5-4.5v9M434 166.5h9m-4.5-4.5v9M435 124.5h9m-4.5-4.5v9M435 137.5h9m-4.5-4.5v9M435 115.5h9m-4.5-4.5v9M436 150.5h9m-4.5-4.5v9M436 141.5h9m-4.5-4.5v9M436 126.5h9m-4.5-4.5v9M437 124.5h9m-4.5-4.5v9M437 140.5h9m-4.5-4.5v9M437 120.5h9m-4.5-4.5v9M438 151.5h9m-4.5-4.5v9M438 126.5h9m-4.5-4.5v9M438 180.5h9m-4.5-4.5v9M439 141.5h9m-4.5-4.5v9M439 128.5h9m-4.5-4.5v9M440 111.5h9m-4.5-4.5v9M440 151.5h9m-4.5-4.5v9M440 153.5h9m-4.5-4.5v9M441 165.5h9m-4.5-4.5v9M441 146.5h9m-4.5-4.5v9M441 126.5h9m-4.5-4.5v9M442 118.5h9m-4.5-4.5v9M442 126.5h9m-4.5-4.5v9M442 147.5h9m-4.5-4.5v9M443 153.5h9m-4.5-4.5v9M443 151.5h9m-4.5-4.5v9M444 115.5h9m-4.5-4.5v9M444 156.5h9m-4.5-4.5v9M444 158.5h9m-4.5-4.5v9M445 135.5h9m-4.5-4.5v9M445 141.5h9m-4.5-4.5v9M445 138.5h9m-4.5-4.5v9M446 135.5h9m-4.5-4.5v9M446 142.5h9m-4.5-4.5v9M446 140.5h9m-4.5-4.5v9M447 148.5h9m-4.5-4.5v9M447 122.5h9m-4.5-4.5v9M447 117.5h9m-4.5-4.5v9M448 143.5h9m-4.5-4.5v9M448 134.5h9m-4.5-4.5v9M449 154.5h9m-4.5-4.5v9M449 157.5h9m-4.5-4.5v9M449 144.5h9m-4.5-4.5v9M450 128.5h9m-4.5-4.5v9M450 134.5h9m-4.5-4.5v9M450 151.5h9m-4.5-4.5v9M451 110.5h9m-4.5-4.5v9M451 152.5h9m-4.5-4.5v9M451 155.5h9m-4.5-4.5v9M452 147.5h9m-4.5-4.5v9M452 161.5h9m-4.5-4.5v9M453 130.5h9m-4.5-4.5v9M453 150.5h9m-4.5-4.5v9M453 136.5h9m-4.5-4.5v9M454 135.5h9m-4.5-4.5v9M454 142.5h9m-4.5-4.5v9M454 126.5h9m-4.5-4.5v9M455 120.5h9m-4.5-4.5v9M455 172.5h9m-4.5-4.5v9M455 137.5h9m-4.5-4.5v9M456 167.5h9m-4.5-4.5v9M456 125.5h9m-4.5-4.5v9M456 148.5h9m-4.5-4.5v9M457 143.5h9m-4.5-4.5v9M457 126.5h9m-4.5-4.5v9M458 151.5h9m-4.5-4.5v9M458 135.5h9m-4.5-4.5v9M458 160.5h9m-4.5-4.5v9M459 106.5h9m-4.5-4.5v9M459 162.5h9m-4.5-4.5v9M459 135.5h9m-4.5-4.5v9M460 138.5h9m-4.5-4.5v9M460 161.5h9m-4.5-4.5v9M460 159.5h9m-4.5-4.5v9M461 129.5h9m-4.5-4.5v9M461 156.5h9m-4.5-4.5v9M462 124.5h9m-4.5-4.5v9M462 142.5h9m-4.5-4.5v9M462 138.5h9m-4.5-4.5v9M463 157.5h9m-4.5-4.5v9M463 148.5h9m-4.5-4.5v9M463 140.5h9m-4.5-4.5v9M464 149.5h9m-4.5-4.5v9M464 120.5h9m-4.5-4.5v9M464 150.5h9m-4.5-4.5v9M465 154.5h9m-4.5-4.5v9M465 164.5h9m-4.5-4.5v9M465 172.5h9m-4.5-4.5v9M466 145.5h9m-4.5-4.5v9M466 145.5h9m-4.5-4.5v9M467 133.5h9m-4.5-4.5v9M467 114.5h9m-4.5-4.5v9M467 114.5h9m-4.5-4.5v9M468 121.5h9m-4.5-4.5v9M468 142.5h9m-4.5-4.5v9M468 137.5h9m-4.5-4.5v9M469 150.5h9m-4.5-4.5v9M469 155.5h9m-4.5-4.5v9M469 145.5h9m-4.5-4.5v9M470 125.5h9m-4.5-4.5v9M470 133.5h9m-4.5-4.5v9M471 135.5h9m-4.5-4.5v9M471 159.5h9m-4.5-4.5v9M471 107.5h9m-4.5-4.5v9M472 159.5h9m-4.5-4.5v9M472 128.5h9m-4.5-4.5v9M472 142.5h9m-4.5-4.5v9M473 168.5h9m-4.5-4.5v9M473 153.5h9m-4.5-4.5v9M473 155.5h9m-4.5-4.5v9M474 114.5h9m-4.5-4.5v9M474 159.5h9m-4.5-4.5v9M474 110.5h9m-4.5-4.5v9M475 152.5h9m-4.5-4.5v9M475 156.5h9m-4.5-4.5v9M476 166.5h9m-4.5-4.5v9M476 127.5h9m-4.5-4.5v9M476 152.5h9m-4.5-4.5v9M477 149.5h9m-4.5-4.5v9M477 121.5h9m-4.5-4.5v9M477 161.5h9m-4.5-4.5v9M478 179.5h9m-4.5-4.5v9M478 177.5h9m-4.5-4.5v9M478 142.5h9m-4.5-4.5v9M479 135.5h9m-4.5-4.5v9M479 155.5h9m-4.5-4.5v9M480 122.5h9m-4.5-4.5v9M480 140.5h9m-4.5-4.5v9M480 181.5h9m-4.5-4.5v9M481 235.5h9m-4.5-4.5v9M481 159.5h9m-4.5-4.5v9M481 130.5h9m-4.5-4.5v9M482 102.5h9m-4.5-4.5v9M482 145.5h9m-4.5-4.5v9M482 157.5h9m-4.5-4.5v9M483 132.5h9m-4.5-4.5v9M483 151.5h9m-4.5-4.5v9M483 148.5h9m-4.5-4.5v9M484 92.5h9m-4.5-4.5v9M484 117.5h9m-4.5-4.5v9M485 102.5h9m-4.5-4.5v9M485 169.5h9m-4.5-4.5v9M485 126.5h9m-4.5-4.5v9M486 148.5h9m-4.5-4.5v9M486 122.5h9m-4.5-4.5v9M486 138.5h9m-4.5-4.5v9M487 149.5h9m-4.5-4.5v9M487 142.5h9m-4.5-4.5v9M487 162.5h9m-4.5-4.5v9M488 127.5h9m-4.5-4.5v9M488 106.5h9m-4.5-4.5v9M489 137.5h9m-4.5-4.5v9M489 118.5h9m-4.5-4.5v9M489 159.5h9m-4.5-4.5v9M490 144.5h9m-4.5-4.5v9M490 114.5h9m-4.5-4.5v9M490 111.5h9m-4.5-4.5v9M491 208.5h9m-4.5-4.5v9M491 136.5h9m-4.5-4.5v9M491 141.5h9m-4.5-4.5v9M492 102.5h9m-4.5-4.5v9M492 94.5h9m-4.5-4.5v9M492 83.5h9m-4.5-4.5v9M493 168.5h9m-4.5-4.5v9M493 121.5h9m-4.5-4.5v9M494 134.5h9m-4.5-4.5v9M494 167.5h9m-4.5-4.5v9M494 140.5h9m-4.5-4.5v9M495 224.5h9m-4.5-4.5v9M495 100.5h9m-4.5-4.5v9M495 133.5h9m-4.5-4.5v9M496 175.5h9m-4.5-4.5v9M496 117.5h9m-4.5-4.5v9M496 131.5h9m-4.5-4.5v9M497 162.5h9m-4.5-4.5v9M497 115.5h9m-4.5-4.5v9M498 144.5h9m-4.5-4.5v9M498 158.5h9m-4.5-4.5v9M498 118.5h9m-4.5-4.5v9M499 161.5h9m-4.5-4.5v9M499 157.5h9m-4.5-4.5v9M499 123.5h9m-4.5-4.5v9M500 158.5h9m-4.5-4.5v9M500 215.5h9m-4.5-4.5v9M500 151.5h9m-4.5-4.5v9M501 167.5h9m-4.5-4.5v9M501 143.5h9m-4.5-4.5v9M501 140.5h9m-4.5-4.5v9M502 117.5h9m-4.5-4.5v9M502 197.5h9m-4.5-4.5v9M503 169.5h9m-4.5-4.5v9M503 95.5h9m-4.5-4.5v9M503 160.5h9m-4.5-4.5v9M504 118.5h9m-4.5-4.5v9M504 133.5h9m-4.5-4.5v9M504 149.5h9m-4.5-4.5v9M505 107.5h9m-4.5-4.5v9M505 157.5h9m-4.5-4.5v9M505 131.5h9m-4.5-4.5v9M506 174.5h9m-4.5-4.5v9M506 112.5h9m-4.5-4.5v9M507 133.5h9m-4.5-4.5v9M507 149.5h9m-4.5-4.5v9M507 134.5h9m-4.5-4.5v9M508 128.5h9m-4.5-4.5v9M508 118.5h9m-4.5-4.5v9M508 179.5h9m-4.5-4.5v9M509 104.5h9m-4.5-4.5v9M509 119.5h9m-4.5-4.5v9M509 103.5h9m-4.5-4.5v9M510 148.5h9m-4.5-4.5v9M510 161.5h9m-4.5-4.5v9M510 153.5h9m-4.5-4.5v9M511 115.5h9m-4.5-4.5v9M511 94.5h9m-4.5-4.5v9M512 124.5h9m-4.5-4.5v9M512 128.5h9m-4.5-4.5v9M512 111.5h9m-4.5-4.5v9M513 154.5h9m-4.5-4.5v9M513 154.5h9m-4.5-4.5v9M513 179.5h9m-4.5-4.5v9M514 139.5h9m-4.5-4.5v9M514 130.5h9m-4.5-4.5v9M514 175.5h9m-4.5-4.5v9M515 133.5h9m-4.5-4.5v9M515 143.5h9m-4.5-4.5v9M516 160.5h9m-4.5-4.5v9M516 192.5h9m-4.5-4.5v9M516 148.5h9m-4.5-4.5v9M517 185.5h9m-4.5-4.5v9M517 166.5h9m-4.5-4.5v9M517 157.5h9m-4.5-4.5v9M518 151.5h9m-4.5-4.5v9M518 126.5h9m-4.5-4.5v9M518 149.5h9m-4.5-4.5v9M519 114.5h9m-4.5-4.5v9M519 152.5h9m-4.5-4.5v9M519 158.5h9m-4.5-4.5v9M520 158.5h9m-4.5-4.5v9M520 108.5h9m-4.5-4.5v9M521 161.5h9m-4.5-4.5v9M521 182.5h9m-4.5-4.5v9M521 146.5h9m-4.5-4.5v9M522 178.5h9m-4.5-4.5v9M522 110.5h9m-4.5-4.5v9M522 119.5h9m-4.5-4.5v9M523 172.5h9m-4.5-4.5v9M523 153.5h9m-4.5-4.5v9M523 137.5h9m-4.5-4.5v9M524 123.5h9m-4.5-4.5v9M524 107.5h9m-4.5-4.5v9M525 133.5h9m-4.5-4.5v9M525 108.5h9m-4.5-4.5v9M525 161.5h9m-4.5-4.5v9M526 139.5h9m-4.5-4.5v9M526 137.5h9m-4.5-4.5v9M526 109.5h9m-4.5-4.5v9M527 151.5h9m-4.5-4.5v9M527 122.5h9m-4.5-4.5v9M527 130.5h9m-4.5-4.5v9M528 158.5h9m-4.5-4.5v9M528 136.5h9m-4.5-4.5v9M528 160.5h9m-4.5-4.5v9M529 125.5h9m-4.5-4.5v9M529 147.5h9m-4.5-4.5v9M530 136.5h9m-4.5-4.5v9M530 109.5h9m-4.5-4.5v9M530 178.5h9m-4.5-4.5v9M531 141.5h9m-4.5-4.5v9M531 162.5h9m-4.5-4.5v9M531 121.5h9m-4.5-4.5v9M532 124.5h9m-4.5-4.5v9M532 158.5h9m-4.5-4.5v9M532 151.5h9m-4.5-4.5v9M533 142.5h9m-4.5-4.5v9M533 128.5h9m-4.5-4.5v9M534 162.5h9m-4.5-4.5v9M534 138.5h9m-4.5-4.5v9M534 125.5h9m-4.5-4.5v9M535 179.5h9m-4.5-4.5v9M535 136.5h9m-4.5-4.5v9M535 165.5h9m-4.5-4.5v9M536 158.5h9m-4.5-4.5v9M536 131.5h9m-4.5-4.5v9M536 139.5h9m-4.5-4.5v9M537 159.5h9m-4.5-4.5v9M537 149.5h9m-4.5-4.5v9M537 126.5h9m-4.5-4.5v9M538 164.5h9m-4.5-4.5v9M538 112.5h9m-4.5-4.5v9M539 123.5h9m-4.5-4.5v9M539 120.5h9m-4.5-4.5v9M539 126.5h9m-4.5-4.5v9M540 162.5h9m-4.5-4.5v9M540 114.5h9m-4.5-4.5v9M540 125.5h9m-4.5-4.5v9M541 161.5h9m-4.5-4.5v9M541 124.5h9m-4.5-4.5v9M541 160.5h9m-4.5-4.5v9M542 176.5h9m-4.5-4.5v9M542 134.5h9m-4.5-4.5v9M543 130.5h9m-4.5-4.5v9M543 141.5h9m-4.5-4.5v9M543 135.5h9m-4.5-4.5v9M544 145.5h9m-4.5-4.5v9M544 155.5h9m-4.5-4.5v9M544 161.5h9m-4.5-4.5v9M545 154.5h9m-4.5-4.5v9M545 117.5h9m-4.5-4.5v9M545 174.5h9m-4.5-4.5v9M546 122.5h9m-4.5-4.5v9M546 141.5h9m-4.5-4.5v9M546 118.5h9m-4.5-4.5v9M547 122.5h9m-4.5-4.5v9M547 149.5h9m-4.5-4.5v9M548 133.5h9m-4.5-4.5v9M548 142.5h9m-4.5-4.5v9M548 148.5h9m-4.5-4.5v9M549 153.5h9m-4.5-4.5v9M549 153.5h9m-4.5-4.5v9M549 101.5h9m-4.5-4.5v9M550 174.5h9m-4.5-4.5v9M550 135.5h9m-4.5-4.5v9M550 141.5h9m-4.5-4.5v9M551 144.5h9m-4.5-4.5v9M551 143.5h9m-4.5-4.5v9M552 142.5h9m-4.5-4.5v9M552 106.5h9m-4.5-4.5v9M552 142.5h9m-4.5-4.5v9M553 151.5h9m-4.5-4.5v9M553 136.5h9m-4.5-4.5v9M553 155.5h9m-4.5-4.5v9M554 131.5h9m-4.5-4.5v9M554 166.5h9m-4.5-4.5v9M554 167.5h9m-4.5-4.5v9M555 141.5h9m-4.5-4.5v9M555 153.5h9m-4.5-4.5v9M555 122.5h9m-4.5-4.5v9M556 123.5h9m-4.5-4.5v9M556 128.5h9m-4.5-4.5v9M557 161.5h9m-4.5-4.5v9M557 142.5h9m-4.5-4.5v9M557 123.5h9m-4.5-4.5v9M558 117.5h9m-4.5-4.5v9M558 125.5h9m-4.5-4.5v9M558 147.5h9m-4.5-4.5v9M559 163.5h9m-4.5-4.5v9M559 122.5h9m-4.5-4.5v9M559 141.5h9m-4.5-4.5v9M560 140.5h9m-4.5-4.5v9M560 142.5h9m-4.5-4.5v9M561 126.5h9m-4.5-4.5v9M561 150.5h9m-4.5-4.5v9M561 142.5h9m-4.5-4.5v9M562 142.5h9m-4.5-4.5v9M562 140.5h9m-4.5-4.5v9M562 131.5h9m-4.5-4.5v9M563 143.5h9m-4.5-4.5v9M563 144.5h9m-4.5-4.5v9M563 109.5h9m-4.5-4.5v9M564 146.5h9m-4.5-4.5v9M564 128.5h9m-4.5-4.5v9M564 135.5h9m-4.5-4.5v9M565 151.5h9m-4.5-4.5v9M565 149.5h9m-4.5-4.5v9M566 133.5h9m-4.5-4.5v9M566 107.5h9m-4.5-4.5v9M566 151.5h9m-4.5-4.5v9M567 124.5h9m-4.5-4.5v9M567 150.5h9m-4.5-4.5v9M567 140.5h9m-4.5-4.5v9M568 138.5h9m-4.5-4.5v9M568 132.5h9m-4.5-4.5v9M568 162.5h9m-4.5-4.5v9M569 107.5h9m-4.5-4.5v9M569 154.5h9m-4.5-4.5v9M570 216.5h9m-4.5-4.5v9M570 132.5h9m-4.5-4.5v9M570 186.5h9m-4.5-4.5v9M571 148.5h9m-4.5-4.5v9M571 135.5h9m-4.5-4.5v9M571 140.5h9m-4.5-4.5v9M572 129.5h9m-4.5-4.5v9M572 123.5h9m-4.5-4.5v9M572 150.5h9m-4.5-4.5v9M573 152.5h9m-4.5-4.5v9M573 118.5h9m-4.5-4.5v9M573 151.5h9m-4.5-4.5v9M574 159.5h9m-4.5-4.5v9M574 144.5h9m-4.5-4.5v9M575 124.5h9m-4.5-4.5v9M575 130.5h9m-4.5-4.5v9M575 154.5h9m-4.5-4.5v9M576 132.5h9m-4.5-4.5v9M576 142.5h9m-4.5-4.5v9M576 149.5h9m-4.5-4.5v9M577 149.5h9m-4.5-4.5v9M577 151.5h9m-4.5-4.5v9M577 130.5h9m-4.5-4.5v9M578 123.5h9m-4.5-4.5v9M578 152.5h9m-4.5-4.5v9M579 150.5h9m-4.5-4.5v9M579 139.5h9m-4.5-4.5v9M579 132.5h9m-4.5-4.5v9M580 127.5h9m-4.5-4.5v9M580 156.5h9m-4.5-4.5v9M580 162.5h9m-4.5-4.5v9M581 154.5h9m-4.5-4.5v9M581 151.5h9m-4.5-4.5v9M581 133.5h9m-4.5-4.5v9M582 127.5h9m-4.5-4.5v9M582 145.5h9m-4.5-4.5v9M582 136.5h9m-4.5-4.5v9M583 154.5h9m-4.5-4.5v9M583 135.5h9m-4.5-4.5v9M584 142.5h9m-4.5-4.5v9M584 143.5h9m-4.5-4.5v9M584 152.5h9m-4.5-4.5v9M585 163.5h9m-4.5-4.5v9M585 152.5h9m-4.5-4.5v9M585 131.5h9m-4.5-4.5v9M586 147.5h9m-4.5-4.5v9M586 122.5h9m-4.5-4.5v9M586 157.5h9m-4.5-4.5v9M587 133.5h9m-4.5-4.5v9M587 152.5h9m-4.5-4.5v9M588 128.5h9m-4.5-4.5v9M588 126.5h9m-4.5-4.5v9M588 120.5h9m-4.5-4.5v9M589 168.5h9m-4.5-4.5v9M589 128.5h9m-4.5-4.5v9M589 157.5h9m-4.5-4.5v9M590 157.5h9m-4.5-4.5v9M590 138.5h9m-4.5-4.5v9M590 117.5h9m-4.5-4.5v9M591 149.5h9m-4.5-4.5v9M591 120.5h9m-4.5-4.5v9M591 161.5h9m-4.5-4.5v9M592 126.5h9m-4.5-4.5v9M592 143.5h9m-4.5-4.5v9M593 127.5h9m-4.5-4.5v9M593 148.5h9m-4.5-4.5v9M593 130.5h9m-4.5-4.5v9M594 131.5h9m-4.5-4.5v9M594 151.5h9m-4.5-4.5v9M594 151.5h9m-4.5-4.5v9M595 127.5h9m-4.5-4.5v9M595 154.5h9m-4.5-4.5v9M595 134.5h9m-4.5-4.5v9M596 139.5h9m-4.5-4.5v9M596 154.5h9m-4.5-4.5v9M597 106.5h9m-4.5-4.5v9M597 156.5h9m-4.5-4.5v9M597 124.5h9m-4.5-4.5v9M598 113.5h9m-4.5-4.5v9M598 137.5h9m-4.5-4.5v9M598 159.5h9m-4.5-4.5v9M599 134.5h9m-4.5-4.5v9M599 147.5h9m-4.5-4.5v9M599 143.5h9m-4.5-4.5v9M600 131.5h9m-4.5-4.5v9M600 145.5h9m-4.5-4.5v9M600 149.5h9m-4.5-4.5v9M601 112.5h9m-4.5-4.5v9M601 172.5h9m-4.5-4.5v9M602 131.5h9m-4.5-4.5v9M602 140.5h9m-4.5-4.5v9M602 170.5h9m-4.5-4.5v9M603 151.5h9m-4.5-4.5v9M603 133.5h9m-4.5-4.5v9M603 133.5h9m-4.5-4.5v9M604 139.5h9m-4.5-4.5v9M604 137.5h9m-4.5-4.5v9M604 142.5h9m-4.5-4.5v9M605 133.5h9m-4.5-4.5v9M605 163.5h9m-4.5-4.5v9M606 123.5h9m-4.5-4.5v9M606 158.5h9m-4.5-4.5v9M606 122.5h9m-4.5-4.5v9M607 146.5h9m-4.5-4.5v9M607 156.5h9m-4.5-4.5v9M607 160.5h9m-4.5-4.5v9M608 110.5h9m-4.5-4.5v9M608 168.5h9m-4.5-4.5v9M608 133.5h9m-4.5-4.5v9M609 151.5h9m-4.5-4.5v9M609 128.5h9m-4.5-4.5v9M609 161.5h9m-4.5-4.5v9M610 124.5h9m-4.5-4.5v9M610 163.5h9m-4.5-4.5v9M611 167.5h9m-4.5-4.5v9M611 120.5h9m-4.5-4.5v9M611 111.5h9m-4.5-4.5v9M612 154.5h9m-4.5-4.5v9M612 171.5h9m-4.5-4.5v9M612 151.5h9m-4.5-4.5v9M613 152.5h9m-4.5-4.5v9M613 130.5h9m-4.5-4.5v9M613 158.5h9m-4.5-4.5v9M614 120.5h9m-4.5-4.5v9M614 135.5h9m-4.5-4.5v9M615 131.5h9m-4.5-4.5v9M615 148.5h9m-4.5-4.5v9M615 150.5h9m-4.5-4.5v9M616 129.5h9m-4.5-4.5v9M616 172.5h9m-4.5-4.5v9M616 113.5h9m-4.5-4.5v9M617 150.5h9m-4.5-4.5v9M617 133.5h9m-4.5-4.5v9M617 137.5h9m-4.5-4.5v9M618 165.5h9m-4.5-4.5v9M618 145.5h9m-4.5-4.5v9M618 147.5h9m-4.5-4.5v9M619 163.5h9m-4.5-4.5v9M619 156.5h9m-4.5-4.5v9M620 160.5h9m-4.5-4.5v9M620 122.5h9m-4.5-4.5v9M620 166.5h9m-4.5-4.5v9M621 118.5h9m-4.5-4.5v9M621 150.5h9m-4.5-4.5v9M621 145.5h9m-4.5-4.5v9M622 144.5h9m-4.5-4.5v9M622 135.5h9m-4.5-4.5v9M622 147.5h9m-4.5-4.5v9M623 151.5h9m-4.5-4.5v9M623 125.5h9m-4.5-4.5v9M624 151.5h9m-4.5-4.5v9M624 132.5h9m-4.5-4.5v9M624 170.5h9m-4.5-4.5v9M625 128.5h9m-4.5-4.5v9M625 113.5h9m-4.5-4.5v9M625 159.5h9m-4.5-4.5v9M626 131.5h9m-4.5-4.5v9M626 154.5h9m-4.5-4.5v9M626 171.5h9m-4.5-4.5v9M627 166.5h9m-4.5-4.5v9M627 124.5h9m-4.5-4.5v9M627 132.5h9m-4.5-4.5v9M628 145.5h9m-4.5-4.5v9M628 144.5h9m-4.5-4.5v9M629 140.5h9m-4.5-4.5v9M629 160.5h9m-4.5-4.5v9M629 132.5h9m-4.5-4.5v9M630 143.5h9m-4.5-4.5v9M630 158.5h9m-4.5-4.5v9M630 115.5h9m-4.5-4.5v9M631 158.5h9m-4.5-4.5v9M631 129.5h9m-4.5-4.5v9M631 160.5h9m-4.5-4.5v9M632 134.5h9m-4.5-4.5v9M632 142.5h9m-4.5-4.5v9M633 129.5h9m-4.5-4.5v9M633 139.5h9m-4.5-4.5v9M633 134.5h9m-4.5-4.5v9M634 152.5h9m-4.5-4.5v9M634 141.5h9m-4.5-4.5v9M634 168.5h9m-4.5-4.5v9M635 143.5h9m-4.5-4.5v9M635 151.5h9m-4.5-4.5v9M635 166.5h9m-4.5-4.5v9M636 169.5h9m-4.5-4.5v9M636 152.5h9m-4.5-4.5v9M636 116.5h9m-4.5-4.5v9M637 157.5h9m-4.5-4.5v9M637 114.5h9m-4.5-4.5v9M638 136.5h9m-4.5-4.5v9M638 153.5h9m-4.5-4.5v9M638 113.5h9m-4.5-4.5v9M639 118.5h9m-4.5-4.5v9M639 141.5h9m-4.5-4.5v9M639 135.5h9m-4.5-4.5v9M640 148.5h9m-4.5-4.5v9M640 145.5h9m-4.5-4.5v9M640 133.5h9m-4.5-4.5v9M641 132.5h9m-4.5-4.5v9M641 145.5h9m-4.5-4.5v9M642 161.5h9m-4.5-4.5v9M642 145.5h9m-4.5-4.5v9M642 119.5h9m-4.5-4.5v9M643 150.5h9m-4.5-4.5v9M643 141.5h9m-4.5-4.5v9M643 133.5h9m-4.5-4.5v9M644 143.5h9m-4.5-4.5v9M644 165.5h9m-4.5-4.5v9M644 133.5h9m-4.5-4.5v9M645 126.5h9m-4.5-4.5v9M645 140.5h9m-4.5-4.5v9M645 120.5h9m-4.5-4.5v9M646 160.5h9m-4.5-4.5v9M646 133.5h9m-4.5-4.5v9M647 150.5h9m-4.5-4.5v9M647 144.5h9m-4.5-4.5v9M647 157.5h9m-4.5-4.5v9M648 140.5h9m-4.5-4.5v9M648 124.5h9m-4.5-4.5v9M648 132.5h9m-4.5-4.5v9M649 152.5h9m-4.5-4.5v9M649 145.5h9m-4.5-4.5v9M649 148.5h9m-4.5-4.5v9M650 138.5h9m-4.5-4.5v9M650 129.5h9m-4.5-4.5v9M650 119.5h9m-4.5-4.5v9M651 158.5h9m-4.5-4.5v9M651 144.5h9m-4.5-4.5v9M652 135.5h9m-4.5-4.5v9M652 149.5h9m-4.5-4.5v9M652 149.5h9m-4.5-4.5v9M653 139.5h9m-4.5-4.5v9M653 136.5h9m-4.5-4.5v9M653 138.5h9m-4.5-4.5v9M654 162.5h9m-4.5-4.5v9M654 135.5h9m-4.5-4.5v9M654 117.5h9m-4.5-4.5v9M655 167.5h9m-4.5-4.5v9M655 145.5h9m-4.5-4.5v9M656 152.5h9m-4.5-4.5v9M656 145.5h9m-4.5-4.5v9M656 139.5h9m-4.5-4.5v9M657 140.5h9m-4.5-4.5v9M657 145.5h9m-4.5-4.5v9M657 176.5h9m-4.5-4.5v9M658 167.5h9m-4.5-4.5v9M658 118.5h9m-4.5-4.5v9M658 115.5h9m-4.5-4.5v9M659 119.5h9m-4.5-4.5v9M659 149.5h9m-4.5-4.5v9M659 136.5h9m-4.5-4.5v9M660 127.5h9m-4.5-4.5v9M660 166.5h9m-4.5-4.5v9M661 119.5h9m-4.5-4.5v9M661 152.5h9m-4.5-4.5v9M661 131.5h9m-4.5-4.5v9M662 143.5h9m-4.5-4.5v9M662 129.5h9m-4.5-4.5v9M662 153.5h9m-4.5-4.5v9M663 144.5h9m-4.5-4.5v9M663 163.5h9m-4.5-4.5v9M663 122.5h9m-4.5-4.5v9M664 160.5h9m-4.5-4.5v9M664 171.5h9m-4.5-4.5v9M665 137.5h9m-4.5-4.5v9M665 143.5h9m-4.5-4.5v9M665 140.5h9m-4.5-4.5v9M666 152.5h9m-4.5-4.5v9M666 142.5h9m-4.5-4.5v9M666 141.5h9m-4.5-4.5v9M667 147.5h9m-4.5-4.5v9M667 128.5h9m-4.5-4.5v9M667 123.5h9m-4.5-4.5v9M668 134.5h9m-4.5-4.5v9M668 136.5h9m-4.5-4.5v9M668 173.5h9m-4.5-4.5v9M669 144.5h9m-4.5-4.5v9M669 133.5h9m-4.5-4.5v9M670 124.5h9m-4.5-4.5v9M670 146.5h9m-4.5-4.5v9M670 148.5h9m-4.5-4.5v9M671 134.5h9m-4.5-4.5v9M671 141.5h9m-4.5-4.5v9M671 121.5h9m-4.5-4.5v9M672 150.5h9m-4.5-4.5v9M672 120.5h9m-4.5-4.5v9M672 156.5h9m-4.5-4.5v9M673 124.5h9m-4.5-4.5v9M673 155.5h9m-4.5-4.5v9M674 132.5h9m-4.5-4.5v9M674 149.5h9m-4.5-4.5v9M674 126.5h9m-4.5-4.5v9M675 141.5h9m-4.5-4.5v9M675 168.5h9m-4.5-4.5v9M675 137.5h9m-4.5-4.5v9M676 152.5h9m-4.5-4.5v9M676 132.5h9m-4.5-4.5v9M676 141.5h9m-4.5-4.5v9M677 154.5h9m-4.5-4.5v9M677 128.5h9m-4.5-4.5v9M677 114.5h9m-4.5-4.5v9M678 122.5h9m-4.5-4.5v9M678 174.5h9m-4.5-4.5v9M679 141.5h9m-4.5-4.5v9M679 131.5h9m-4.5-4.5v9M679 145.5h9m-4.5-4.5v9M680 126.5h9m-4.5-4.5v9M680 155.5h9m-4.5-4.5v9M680 155.5h9m-4.5-4.5v9M681 157.5h9m-4.5-4.5v9M681 125.5h9m-4.5-4.5v9M681 161.5h9m-4.5-4.5v9M682 132.5h9m-4.5-4.5v9M682 131.5h9m-4.5-4.5v9M683 141.5h9m-4.5-4.5v9M683 168.5h9m-4.5-4.5v9M683 145.5h9m-4.5-4.5v9M684 109.5h9m-4.5-4.5v9M684 165.5h9m-4.5-4.5v9M684 164.5h9m-4.5-4.5v9M685 140.5h9m-4.5-4.5v9M685 135.5h9m-4.5-4.5v9M685 139.5h9m-4.5-4.5v9M686 169.5h9m-4.5-4.5v9M686 123.5h9m-4.5-4.5v9M686 130.5h9m-4.5-4.5v9M687 155.5h9m-4.5-4.5v9M687 174.5h9m-4.5-4.5v9M688 118.5h9m-4.5-4.5v9M688 146.5h9m-4.5-4.5v9M688 162.5h9m-4.5-4.5v9M689 151.5h9m-4.5-4.5v9M689 148.5h9m-4.5-4.5v9M689 142.5h9m-4.5-4.5v9M690 139.5h9m-4.5-4.5v9M690 145.5h9m-4.5-4.5v9M690 122.5h9m-4.5-4.5v9M691 148.5h9m-4.5-4.5v9M691 101.5h9m-4.5-4.5v9M692 138.5h9m-4.5-4.5v9M692 173.5h9m-4.5-4.5v9M692 160.5h9m-4.5-4.5v9M693 129.5h9m-4.5-4.5v9M693 123.5h9m-4.5-4.5v9M693 140.5h9m-4.5-4.5v9M694 166.5h9m-4.5-4.5v9M694 180.5h9m-4.5-4.5v9M694 94.5h9m-4.5-4.5v9M695 180.5h9m-4.5-4.5v9M695 141.5h9m-4.5-4.5v9M695 121.5h9m-4.5-4.5v9M696 160.5h9m-4.5-4.5v9M696 148.5h9m-4.5-4.5v9M697 110.5h9m-4.5-4.5v9M697 128.5h9m-4.5-4.5v9M697 135.5h9m-4.5-4.5v9M698 134.5h9m-4.5-4.5v9M698 130.5h9m-4.5-4.5v9M698 145.5h9m-4.5-4.5v9M699 157.5h9m-4.5-4.5v9M699 131.5h9m-4.5-4.5v9M699 146.5h9m-4.5-4.5v9M700 144.5h9m-4.5-4.5v9M700 165.5h9m-4.5-4.5v9M701 121.5h9m-4.5-4.5v9M701 117.5h9m-4.5-4.5v9M701 133.5h9m-4.5-4.5v9M702 129.5h9m-4.5-4.5v9M702 141.5h9m-4.5-4.5v9M702 134.5h9m-4.5-4.5v9M703 115.5h9m-4.5-4.5v9M703 133.5h9m-4.5-4.5v9M703 103.5h9m-4.5-4.5v9M704 179.5h9m-4.5-4.5v9M704 166.5h9m-4.5-4.5v9M704 134.5h9m-4.5-4.5v9M705 166.5h9m-4.5-4.5v9M705 130.5h9m-4.5-4.5v9M706 137.5h9m-4.5-4.5v9M706 175.5h9m-4.5-4.5v9M706 169.5h9m-4.5-4.5v9M707 139.5h9m-4.5-4.5v9M707 139.5h9m-4.5-4.5v9M707 136.5h9m-4.5-4.5v9M708 127.5h9m-4.5-4.5v9M708 166.5h9m-4.5-4.5v9M708 123.5h9m-4.5-4.5v9M709 91.5h9m-4.5-4.5v9M709 145.5h9m-4.5-4.5v9M710 153.5h9m-4.5-4.5v9M710 157.5h9m-4.5-4.5v9M710 154.5h9m-4.5-4.5v9M711 169.5h9m-4.5-4.5v9M711 155.5h9m-4.5-4.5v9M711 148.5h9m-4.5-4.5v9M712 125.5h9m-4.5-4.5v9M712 148.5h9m-4.5-4.5v9M712 142.5h9m-4.5-4.5v9M713 146.5h9m-4.5-4.5v9M713 135.5h9m-4.5-4.5v9M713 142.5h9m-4.5-4.5v9M714 108.5h9m-4.5-4.5v9M714 110.5h9m-4.5-4.5v9M715 108.5h9m-4.5-4.5v9M715 176.5h9m-4.5-4.5v9M715 112.5h9m-4.5-4.5v9M716 162.5h9m-4.5-4.5v9M716 162.5h9m-4.5-4.5v9M716 162.5h9m-4.5-4.5v9M717 112.5h9m-4.5-4.5v9M717 141.5h9m-4.5-4.5v9M717 155.5h9m-4.5-4.5v9M718 172.5h9m-4.5-4.5v9M718 158.5h9m-4.5-4.5v9M719 191.5h9m-4.5-4.5v9M719 151.5h9m-4.5-4.5v9M719 165.5h9m-4.5-4.5v9M720 134.5h9m-4.5-4.5v9M720 137.5h9m-4.5-4.5v9M720 163.5h9m-4.5-4.5v9M721 104.5h9m-4.5-4.5v9M721 170.5h9m-4.5-4.5v9M721 78.5h9m-4.5-4.5v9M722 155.5h9m-4.5-4.5v9M722 166.5h9m-4.5-4.5v9M722 105.5h9m-4.5-4.5v9M723 151.5h9m-4.5-4.5v9M723 166.5h9m-4.5-4.5v9M724 122.5h9m-4.5-4.5v9M724 223.5h9m-4.5-4.5v9M724 156.5h9m-4.5-4.5v9M725 109.5h9m-4.5-4.5v9M725 74.5h9m-4.5-4.5v9M725 181.5h9m-4.5-4.5v9M726 63.5h9m-4.5-4.5v9M726 168.5h9m-4.5-4.5v9M726 170.5h9m-4.5-4.5v9M727 120.5h9m-4.5-4.5v9M727 153.5h9m-4.5-4.5v9M728 173.5h9m-4.5-4.5v9M728 119.5h9m-4.5-4.5v9M728 164.5h9m-4.5-4.5v9M729 160.5h9m-4.5-4.5v9M729 119.5h9m-4.5-4.5v9M729 205.5h9m-4.5-4.5v9M730 184.5h9m-4.5-4.5v9M730 104.5h9m-4.5-4.5v9M730 190.5h9m-4.5-4.5v9M731 100.5h9m-4.5-4.5v9M731 156.5h9m-4.5-4.5v9M731 177.5h9m-4.5-4.5v9M732 158.5h9m-4.5-4.5v9M732 157.5h9m-4.5-4.5v9M733 153.5h9m-4.5-4.5v9M733 137.5h9m-4.5-4.5v9M733 155.5h9m-4.5-4.5v9M734 134.5h9m-4.5-4.5v9M734 155.5h9m-4.5-4.5v9M734 130.5h9m-4.5-4.5v9M735 163.5h9m-4.5-4.5v9M735 123.5h9m-4.5-4.5v9M735 131.5h9m-4.5-4.5v9M736 162.5h9m-4.5-4.5v9M736 192.5h9m-4.5-4.5v9M737 133.5h9m-4.5-4.5v9M737 147.5h9m-4.5-4.5v9M737 88.5h9m-4.5-4.5v9M738 97.5h9m-4.5-4.5v9M738 168.5h9m-4.5-4.5v9M738 144.5h9m-4.5-4.5v9M739 208.5h9m-4.5-4.5v9M739 188.5h9m-4.5-4.5v9M739 154.5h9m-4.5-4.5v9M740 145.5h9m-4.5-4.5v9M740 155.5h9m-4.5-4.5v9M740 126.5h9m-4.5-4.5v9M741 150.5h9m-4.5-4.5v9M741 111.5h9m-4.5-4.5v9M742 166.5h9m-4.5-4.5v9M742 170.5h9m-4.5-4.5v9M742 169.5h9m-4.5-4.5v9M743 133.5h9m-4.5-4.5v9M743 135.5h9m-4.5-4.5v9M743 192.5h9m-4.5-4.5v9M744 125.5h9m-4.5-4.5v9M744 67.5h9m-4.5-4.5v9M744 141.5h9m-4.5-4.5v9M745 121.5h9m-4.5-4.5v9M745 163.5h9m-4.5-4.5v9M746 125.5h9m-4.5-4.5v9M746 133.5h9m-4.5-4.5v9M746 141.5h9m-4.5-4.5v9M747 168.5h9m-4.5-4.5v9M747 160.5h9m-4.5-4.5v9M747 64.5h9m-4.5-4.5v9M748 97.5h9m-4.5-4.5v9M748 113.5h9m-4.5-4.5v9M748 124.5h9m-4.5-4.5v9M749 157.5h9m-4.5-4.5v9M749 183.5h9m-4.5-4.5v9M749 96.5h9m-4.5-4.5v9M750 118.5h9m-4.5-4.5v9M750 179.5h9m-4.5-4.5v9M751 143.5h9m-4.5-4.5v9M751 135.5h9m-4.5-4.5v9M751 169.5h9m-4.5-4.5v9M752 205.5h9m-4.5-4.5v9M752 138.5h9m-4.5-4.5v9M752 149.5h9m-4.5-4.5v9M753 135.5h9m-4.5-4.5v9M753 174.5h9m-4.5-4.5v9M753 87.5h9m-4.5-4.5v9M754 168.5h9m-4.5-4.5v9M754 161.5h9m-4.5-4.5v9M755 95.5h9m-4.5-4.5v9M755 183.5h9m-4.5-4.5v9M755 112.5h9m-4.5-4.5v9M756 125.5h9m-4.5-4.5v9M756 40.5h9m-4.5-4.5v9M756 135.5h9m-4.5-4.5v9M757 132.5h9m-4.5-4.5v9M757 211.5h9m-4.5-4.5v9M757 100.5h9m-4.5-4.5v9M758 132.5h9m-4.5-4.5v9M758 156.5h9m-4.5-4.5v9M758 143.5h9m-4.5-4.5v9M759 187.5h9m-4.5-4.5v9M759 128.5h9m-4.5-4.5v9M760 129.5h9m-4.5-4.5v9M760 134.5h9m-4.5-4.5v9M760 81.5h9m-4.5-4.5v9M761 113.5h9m-4.5-4.5v9M761 184.5h9m-4.5-4.5v9M761 114.5h9m-4.5-4.5v9M762 111.5h9m-4.5-4.5v9M762 116.5h9m-4.5-4.5v9M762 132.5h9m-4.5-4.5v9M763 161.5h9m-4.5-4.5v9M763 137.5h9m-4.5-4.5v9M764 165.5h9m-4.5-4.5v9M764 115.5h9m-4.5-4.5v9M764 148.5h9m-4.5-4.5v9M765 150.5h9m-4.5-4.5v9M765 120.5h9m-4.5-4.5v9M765 196.5h9m-4.5-4.5v9M766 69.5h9m-4.5-4.5v9M766 133.5h9m-4.5-4.5v9M766 154.5h9m-4.5-4.5v9M767 147.5h9m-4.5-4.5v9M767 106.5h9m-4.5-4.5v9M767 179.5h9m-4.5-4.5v9M768 129.5h9m-4.5-4.5v9M768 197.5h9m-4.5-4.5v9M769 101.5h9m-4.5-4.5v9M769 91.5h9m-4.5-4.5v9M769 119.5h9m-4.5-4.5v9M770 133.5h9m-4.5-4.5v9M770 217.5h9m-4.5-4.5v9M770 164.5h9m-4.5-4.5v9M771 131.5h9m-4.5-4.5v9M771 154.5h9m-4.5-4.5v9M771 126.5h9m-4.5-4.5v9M772 132.5h9m-4.5-4.5v9M772 103.5h9m-4.5-4.5v9M773 183.5h9m-4.5-4.5v9M773 161.5h9m-4.5-4.5v9M773 160.5h9m-4.5-4.5v9M774 125.5h9m-4.5-4.5v9M774 185.5h9m-4.5-4.5v9M774 142.5h9m-4.5-4.5v9M775 124.5h9m-4.5-4.5v9M775 107.5h9m-4.5-4.5v9M775 184.5h9m-4.5-4.5v9M776 232.5h9m-4.5-4.5v9M776 103.5h9m-4.5-4.5v9M776 127.5h9m-4.5-4.5v9M777 104.5h9m-4.5-4.5v9M777 148.5h9m-4.5-4.5v9M778 112.5h9m-4.5-4.5v9M778 179.5h9m-4.5-4.5v9M778 119.5h9m-4.5-4.5v9M779 155.5h9m-4.5-4.5v9M779 164.5h9m-4.5-4.5v9M779 142.5h9m-4.5-4.5v9M780 154.5h9m-4.5-4.5v9M780 99.5h9m-4.5-4.5v9M780 146.5h9m-4.5-4.5v9M781 157.5h9m-4.5-4.5v9M781 194.5h9m-4.5-4.5v9M782 188.5h9m-4.5-4.5v9M782 175.5h9m-4.5-4.5v9M782 129.5h9m-4.5-4.5v9M783 135.5h9m-4.5-4.5v9M783 179.5h9m-4.5-4.5v9M783 147.5h9m-4.5-4.5v9M784 146.5h9m-4.5-4.5v9M784 123.5h9m-4.5-4.5v9M784 124.5h9m-4.5-4.5v9M785 143.5h9m-4.5-4.5v9M785 111.5h9m-4.5-4.5v9M785 177.5h9m-4.5-4.5v9M786 117.5h9m-4.5-4.5v9M786 157.5h9m-4.5-4.5v9M787 69.5h9m-4.5-4.5v9M787 118.5h9m-4.5-4.5v9M787 171.5h9m-4.5-4.5v9M788 105.5h9m-4.5-4.5v9M788 131.5h9m-4.5-4.5v9M788 159.5h9m-4.5-4.5v9M789 142.5h9m-4.5-4.5v9M789 123.5h9m-4.5-4.5v9M789 138.5h9m-4.5-4.5v9M790 173.5h9m-4.5-4.5v9M790 179.5h9m-4.5-4.5v9M791 132.5h9m-4.5-4.5v9M791 171.5h9m-4.5-4.5v9M791 110.5h9m-4.5-4.5v9M792 137.5h9m-4.5-4.5v9M792 120.5h9m-4.5-4.5v9M792 155.5h9m-4.5-4.5v9M793 143.5h9m-4.5-4.5v9M793 112.5h9m-4.5-4.5v9" stroke="#f00" stroke-width="1.3" fill="none"/>
<polyline points="78,129.4 78.4,172.2 78.7,126.8 79.1,130.6 79.4,101.5 79.8,186.4 80.2,134.5 80.5,161.1 80.9,96.6 81.2,98.1 81.6,142 82,135.3 82.3,166 82.7,136.9 83,131 83.4,49.1 83.8,215 84.1,166.2 84.5,172.5 84.8,172.1 85.2,156.5 85.6,127.1 85.9,133 86.3,110.8 86.6,134.7 87,100.1 87.4,150.8 87.7,130.7 88.1,112 88.4,185.9 88.8,96.8 89.2,158.6 89.5,127.8 89.9,126 90.2,98.3 90.6,119.7 91,144.8 91.3,164.5 91.7,136.3 92,129.5 92.4,146.5 92.8,152.3 93.1,177.3 93.5,90.9 93.8,163 94.2,108.5 94.6,155.6 94.9,163 95.3,166.8 95.6,137.3 96,176.1 96.4,182.8 96.7,135.5 97.1,134.8 97.4,158.6 97.8,155.6 98.2,122.8 98.5,159.6 98.9,142.5 99.2,139.3 99.6,99.9 100,150.1 100.3,84.6 100.7,196.6 101,124.5 101.4,106.4 101.8,160.9 102.1,114.6 102.5,188.5 102.8,110.1 103.2,134.4 103.6,118.1 103.9,174.3 104.3,174.7 104.6,74.1 105,150.5 105.4,204.4 105.7,131.3 106.1,118.5 106.4,161.7 106.8,151.6 107.2,136.9 107.5,151.1 107.9,157.7 108.2,113.3 108.6,117.6 109,133.3 109.3,179.4 109.7,135.6 110,119.4 110.4,145.7 110.8,146.4 111.1,156.4 111.5,129.1 111.8,127.2 112.2,99.7 112.6,153.6 112.9,165.7 113.3,110.2 113.6,173.8 114,119.1 114.4,169.1 114.7,149.6 115.1,117.3 115.4,181.8 115.8,123.3 116.2,141.7 116.5,162 116.9,128 117.2,119.1 117.6,109.2 118,159 118.3,120.4 118.7,143 119,137.5 119.4,155.5 119.8,125.8 120.1,132.2 120.5,106.8 120.8,158.8 121.2,146.7 121.6,129.1 121.9,131.6 122.3,182.7 122.6,121.1 123,115.7 123.4,131.7 123.7,157.2 124.1,155.4 124.4,122.2 124.8,153.3 125.2,112.7 125.5,137.6 125.9,128.9 126.2,102.7 126.6,104.6 127,133.5 127.3,147.4 127.7,151.3 128,182.4 128.4,144 128.8,150.4 129.1,154.7 129.5,149.6 129.8,109 130.2,109 130.6,145.9 130.9,139.8 131.3,136.6 131.6,155.9 132,121.5 132.4,146.6 132.7,137.4 133.1,151.5 133.4,140.4 133.8,166.1 134.2,142 134.5,146.9 134.9,141.1 135.2,143.7 135.6,140.1 136,145.5 136.3,142.2 136.7,171.4 137,118.1 137.4,126.5 137.8,136.1 138.1,127.1 138.5,130.5 138.8,131 139.2,161.1 139.6,133 139.9,144 140.3,132.5 140.6,151 141,141.9 141.4,143 141.7,158.6 142.1,112.8 142.4,155.7 142.8,166 143.2,175.6 143.5,150.1 143.9,127.5 144.2,161 144.6,132.2 145,133.1 145.3,181.5 145.7,145 146,144.1 146.4,129.4 146.8,134.5 147.1,152.3 147.5,116.4 147.8,152.2 148.2,171.1 148.6,154.7 148.9,117.1 149.3,159.4 149.6,150.2 150,137.5 150.3,141.7 150.7,166.2 151.1,143.9 151.4,138.1 151.8,152.5 152.1,129.2 152.5,151.2 152.9,125.8 153.2,166.7 153.6,143.6 153.9,139.2 154.3,154.4 154.7,138.8 155,168.3 155.4,138.8 155.7,136.4 156.1,139.7 156.5,146.7 156.8,144.9 157.2,149.5 157.5,137.1 157.9,151.9 158.3,133.9 158.6,131.3 159,181.1 159.3,163.5 159.7,112.2 160.1,174.2 160.4,115.3 160.8,146.6 161.1,87.7 161.5,136.6 161.9,116.3 162.2,107.6 162.6,166.5 162.9,156.4 163.3,135.9 163.7,162.4 164,125.1 164.4,152.8 164.7,116.6 165.1,158.5 165.5,163.3 165.8,156.7 166.2,155.3 166.5,173.5 166.9,139.4 167.3,135.3 167.6,174.3 168,104 168.3,133.6 168.7,128.4 169.1,141.3 169.4,162.2 169.8,136.4 170.1,130.6 170.5,137.2 170.9,159.9 171.2,104.2 171.6,130.1 171.9,152 172.3,145.2 172.7,123.4 173,111.4 173.4,129.1 173.7,147.5 174.1,115 174.5,177.7 174.8,172 175.2,118.9 175.5,165.7 175.9,111.5 176.3,156.4 176.6,160.9 177,131.8 177.3,136 177.7,125.9 178.1,153.6 178.4,138.4 178.8,152 179.1,172.7 179.5,104.3 179.9,132.2 180.2,140.7 180.6,140 180.9,148.5 181.3,156.2 181.7,128.1 182,135.7 182.4,153.5 182.7,104.2 183.1,144.3 183.5,140 183.8,160.6 184.2,115.3 184.5,121.9 184.9,143.6 185.3,147.5 185.6,153.9 186,159.1 186.3,117.4 186.7,140.3 187.1,171 187.4,152.5 187.8,141.3 188.1,162 188.5,129.4 188.9,131.4 189.2,153.8 189.6,113 189.9,122.3 190.3,126.5 190.7,172.1 191,157.1 191.4,117 191.7,136.6 192.1,125.7 192.5,152 192.8,139.9 193.2,146.3 193.5,130.4 193.9,143 194.3,133.1 194.6,154.5 195,129 195.3,152.1 195.7,146.1 196.1,135.5 196.4,149.3 196.8,168 197.1,127.3 197.5,142.1 197.9,155.1 198.2,142.8 198.6,135.4 198.9,146.7 199.3,128.5 199.7,151.2 200,180.8 200.4,137.6 200.7,130.2 201.1,118.2 201.5,155.8 201.8,158.9 202.2,165.2 202.5,131.9 202.9,144.8 203.3,138.8 203.6,124.7 204,125.5 204.3,141.2 204.7,133.2 205.1,178.3 205.4,140.1 205.8,136.1 206.1,149.5 206.5,131.8 206.9,149.8 207.2,139.9 207.6,161.1 207.9,131.1 208.3,137.3 208.7,132.1 209,153.7 209.4,102.8 209.7,139.7 210.1,118.8 210.5,171.5 210.8,125.7 211.2,143.4 211.5,155.4 211.9,148.6 212.3,151.2 212.6,122 213,137.5 213.3,157.1 213.7,154 214.1,137.3 214.4,130 214.8,151.8 215.1,130.9 215.5,132.3 215.9,150.4 216.2,123.1 216.6,163.6 216.9,152 217.3,128.3 217.7,134.2 218,164.2 218.4,162.8 218.7,130.4 219.1,155.4 219.5,126.4 219.8,154.8 220.2,122.1 220.5,163.1 220.9,142.4 221.3,139.1 221.6,117.6 222,148.9 222.3,157.4 222.7,170.8 223.1,116.2 223.4,117.1 223.8,161.8 224.1,149.7 224.5,119.6 224.9,119.5 225.2,159.3 225.6,132.8 225.9,153.5 226.3,156.2 226.7,140.5 227,131 227.4,103.5 227.7,129.2 228.1,106.3 228.5,143.9 228.8,172.4 229.2,145.5 229.5,148 229.9,114.4 230.3,149.5 230.6,165.2 231,113.8 231.3,152.9 231.7,135.2 232.1,120.2 232.4,112.6 232.8,122.9 233.1,125.3 233.5,148.9 233.9,120.2 234.2,122.3 234.6,103.9 234.9,147 235.3,145.8 235.7,133.9 236,127.7 236.4,178.8 236.7,128 237.1,157.3 237.5,106.2 237.8,161.3 238.2,134.3 238.5,128.9 238.9,147.5 239.3,156.4 239.6,184.4 240,133.6 240.3,144.6 240.7,168.8 241.1,133.7 241.4,169.5 241.8,117.7 242.1,146.5 242.5,146 242.9,128.9 243.2,161.2 243.6,143.9 243.9,148.5 244.3,115.4 244.7,112.6 245,117.9 245.4,140.5 245.7,168.6 246.1,133.3 246.5,126.7 246.8,169.9 247.2,135.4 247.5,152.3 247.9,108.1 248.3,183 248.6,173.1 249,138 249.3,151 249.7,102.9 250.1,95.3 250.4,130.8 250.8,184.1 251.1,128 251.5,152.5 251.9,152.7 252.2,127.7 252.6,123.8 252.9,146.9 253.3,161.5 253.7,164.8 254,169 254.4,165 254.7,142 255.1,139.2 255.5,135 255.8,147 256.2,143.2 256.5,122.1 256.9,161.3 257.3,132 257.6,121.3 258,137.1 258.3,123.9 258.7,98 259.1,172.5 259.4,152.3 259.8,126.8 260.1,156.2 260.5,175.8 260.9,161.3 261.2,111.3 261.6,150.1 261.9,159.3 262.3,138.6 262.7,158.7 263,119.7 263.4,136 263.7,97.9 264.1,121.3 264.5,183.6 264.8,202.4 265.2,125 265.5,165.1 265.9,123.9 266.3,153.1 266.6,122.3 267,165.6 267.3,145.6 267.7,136.9 268.1,157.2 268.4,134 268.8,119.3 269.1,129.1 269.5,181.2 269.9,140.6 270.2,106.9 270.6,93 270.9,125.1 271.3,187.5 271.7,138.3 272,149.2 272.4,125.3 272.7,176.5 273.1,120.5 273.5,133.4 273.8,153.7 274.2,123.4 274.5,149.8 274.9,143.6 275.3,69.4 275.6,158.9 276,134.3 276.3,110.3 276.7,162.2 277.1,106.4 277.4,135.8 277.8,198.4 278.1,100.4 278.5,124.4 278.9,177 279.2,136.2 279.6,124.9 279.9,122.7 280.3,186.3 280.7,124.1 281,133.7 281.4,145.7 281.7,115.3 282.1,131.3 282.5,147.3 282.8,135.7 283.2,138.2 283.5,139 283.9,150.4 284.3,144.1 284.6,141.7 285,149.2 285.3,124.5 285.7,147.4 286.1,129.6 286.4,149.9 286.8,150.5 287.1,127 287.5,154.2 287.9,139.3 288.2,135.9 288.6,144.2 288.9,152.5 289.3,177.8 289.7,145 290,146.1 290.4,158.1 290.7,137.1 291.1,160.1 291.5,112.3 291.8,180.7 292.2,126.4 292.5,160.4 292.9,127.6 293.3,145.4 293.6,180.8 294,157.9 294.3,161.1 294.7,144.8 295,172.3 295.4,118.4 295.8,163.6 296.1,127.6 296.5,130.5 296.8,168.6 297.2,163.6 297.6,159.2 297.9,157.6 298.3,163.8 298.6,136.1 299,166.4 299.4,155.1 299.7,127.1 300.1,153.4 300.4,117.7 300.8,156.4 301.2,160.4 301.5,101.1 301.9,132.5 302.2,140.4 302.6,148.3 303,139.5 303.3,127.2 303.7,126.3 304,170.6 304.4,170 304.8,102.5 305.1,137.9 305.5,152.6 305.8,118 306.2,147.9 306.6,136.9 306.9,136.7 307.3,150.6 307.6,154.8 308,151.6 308.4,160.2 308.7,150.5 309.1,168 309.4,110.3 309.8,156.8 310.2,104.5 310.5,105.1 310.9,150.3 311.2,145.7 311.6,162 312,148.1 312.3,178 312.7,157.9 313,114.4 313.4,143.1 313.8,112 314.1,147.5 314.5,129 314.8,163 315.2,122.7 315.6,135.2 315.9,152.9 316.3,140.8 316.6,150.3 317,131.4 317.4,139.9 317.7,144.4 318.1,164.5 318.4,140 318.8,144.9 319.2,108.7 319.5,101.1 319.9,131.5 320.2,119 320.6,152.6 321,128.6 321.3,143.5 321.7,144.1 322,131.4 322.4,150.7 322.8,138.1 323.1,151.1 323.5,137.2 323.8,147.3 324.2,139.7 324.6,137.3 324.9,126.4 325.3,113.7 325.6,134.8 326,156.9 326.4,134.3 326.7,150.5 327.1,161.4 327.4,141.4 327.8,156.4 328.2,125 328.5,154.2 328.9,117 329.2,117 329.6,151 330,138 330.3,130 330.7,118.5 331,168.6 331.4,133 331.8,171.7 332.1,145.2 332.5,140.6 332.8,134.2 333.2,155.6 333.6,170.5 333.9,145.5 334.3,153.3 334.6,130.2 335,154.1 335.4,147.1 335.7,149.4 336.1,136.5 336.4,113.1 336.8,144.2 337.2,129.1 337.5,142.1 337.9,171.3 338.2,149.3 338.6,125.3 339,127.8 339.3,165.2 339.7,120.5 340,102.6 340.4,140.7 340.8,141.6 341.1,139.7 341.5,175.3 341.8,103.1 342.2,159 342.6,121.4 342.9,161.9 343.3,114.2 343.6,160.3 344,151.4 344.4,115.9 344.7,142.2 345.1,148.5 345.4,149.5 345.8,128.4 346.2,145.4 346.5,130.4 346.9,141 347.2,162.1 347.6,122.3 348,158.9 348.3,124.4 348.7,163.3 349,155.1 349.4,120.3 349.8,156 350.1,180.4 350.5,128.8 350.8,172.9 351.2,180.5 351.6,107.7 351.9,146.3 352.3,130.8 352.6,152.9 353,142.5 353.4,135.2 353.7,148 354.1,105.9 354.4,132.5 354.8,123.1 355.2,154.5 355.5,171.1 355.9,124.1 356.2,150.3 356.6,122.3 357,162.8 357.3,131.1 357.7,135.7 358,138.4 358.4,156.5 358.8,132.7 359.1,87.1 359.5,171.6 359.8,134.5 360.2,151 360.6,134.8 360.9,134.7 361.3,146.2 361.6,135.5 362,161.6 362.4,127.1 362.7,127.8 363.1,167.9 363.4,168.4 363.8,151.9 364.2,149 364.5,124.6 364.9,167.9 365.2,171.5 365.6,112.7 366,121.6 366.3,163.4 366.7,136.2 367,102.3 367.4,140.5 367.8,140.5 368.1,110.6 368.5,143.2 368.8,177.4 369.2,106.4 369.6,110.1 369.9,134.7 370.3,108.2 370.6,115 371,152.4 371.4,139 371.7,131.7 372.1,159 372.4,118 372.8,154.9 373.2,108.9 373.5,130.2 373.9,155.5 374.2,148.3 374.6,145 375,129.3 375.3,154.5 375.7,173.3 376,142.6 376.4,102.8 376.8,179.2 377.1,137.9 377.5,136.3 377.8,128.9 378.2,164.7 378.6,132.3 378.9,135.4 379.3,159.3 379.6,127.4 380,130.9 380.4,150.8 380.7,143.3 381.1,137.5 381.4,147.7 381.8,125.4 382.2,142.7 382.5,127.2 382.9,168 383.2,129.1 383.6,120.6 384,137.5 384.3,153.3 384.7,151.8 385,107.5 385.4,118.3 385.8,146.2 386.1,140.1 386.5,140.9 386.8,157.3 387.2,102 387.6,167 387.9,142.6 388.3,157 388.6,137.8 389,130.6 389.4,124.9 389.7,131.1 390.1,164.4 390.4,129 390.8,135.1 391.2,144.1 391.5,155.9 391.9,108.5 392.2,105.2 392.6,150.2 393,135.7 393.3,111.1 393.7,134.8 394,136.5 394.4,164.7 394.8,135 395.1,102.7 395.5,140 395.8,107 396.2,102 396.6,136.3 396.9,151 397.3,164 397.6,145.1 398,139 398.4,151 398.7,122.9 399.1,155.7 399.4,125.3 399.8,103.6 400.2,109.7 400.5,147 400.9,154.1 401.2,124.5 401.6,179.2 402,102.6 402.3,153.9 402.7,166.9 403,182.1 403.4,102.6 403.8,164.6 404.1,152 404.5,181.7 404.8,147.7 405.2,141.5 405.6,136.3 405.9,141.9 406.3,156.2 406.6,127.2 407,142.7 407.4,154.5 407.7,121 408.1,146.2 408.4,158.3 408.8,111.6 409.2,166.4 409.5,132.9 409.9,164.4 410.2,138.9 410.6,135.2 411,149.2 411.3,137.9 411.7,154.8 412,166.3 412.4,158 412.8,133.3 413.1,137.2 413.5,160.8 413.8,119.9 414.2,103.1 414.6,120.8 414.9,143.5 415.3,136.4 415.6,153.6 416,120 416.4,130 416.7,160.4 417.1,126.5 417.4,171.4 417.8,126.4 418.2,129.5 418.5,153.2 418.9,131.2 419.2,149.2 419.6,133.6 420,166.7 420.3,121.3 420.7,104.5 421,149.6 421.4,126.4 421.8,165.4 422.1,131.3 422.5,165.2 422.8,154 423.2,146.5 423.6,149.8 423.9,126.8 424.3,166.2 424.6,106.8 425,135.7 425.4,155.8 425.7,141.5 426.1,120.5 426.4,170.4 426.8,149.1 427.2,135.8 427.5,142.9 427.9,176.5 428.2,129.9 428.6,156.8 429,160.3 429.3,118.1 429.7,143.1 430,127.9 430.4,168.9 430.8,133.8 431.1,124.8 431.5,178.5 431.8,151.6 432.2,144.4 432.6,125.7 432.9,149.5 433.3,150.2 433.6,137.6 434,141.3 434.4,127.5 434.7,178.9 435.1,120.8 435.4,122.6 435.8,113.4 436.2,126.8 436.5,129.8 436.9,164.8 437.2,133.5 437.6,103.3 437.9,130.7 438.3,162.2 438.7,162.6 439,123.1 439.4,140.4 439.7,108.1 440.1,158.1 440.5,139.3 440.8,124.7 441.2,122.9 441.5,141.4 441.9,113.1 442.3,156.1 442.6,123.3 443,182 443.3,140.5 443.7,128.7 444.1,104.3 444.4,150.3 444.8,156.7 445.1,166.9 445.5,151.3 445.9,127.6 446.2,109.2 446.6,120.8 446.9,152.9 447.3,154.5 447.7,154.5 448,109.9 448.4,160.6 448.7,158.4 449.1,141 449.5,137.1 449.8,140.1 450.2,139.8 450.5,140 450.9,141.5 451.3,148.1 451.6,118.8 452,114.4 452.3,146 452.7,128.2 453.1,157.8 453.4,160.2 453.8,145.1 454.1,131.6 454.5,129.6 454.9,152.3 455.2,106.7 455.6,157.2 455.9,153.1 456.3,153.3 456.7,155.3 457,132.5 457.4,159.2 457.7,139.5 458.1,130.3 458.5,140.4 458.8,127.4 459.2,113.3 459.5,184.1 459.9,135.6 460.3,170.7 460.6,118.1 461,155.6 461.3,140.1 461.7,123.9 462.1,153.2 462.4,135.7 462.8,175.1 463.1,101.4 463.5,165.7 463.9,142 464.2,126.4 464.6,169.7 464.9,156.6 465.3,128.4 465.7,156.6 466,128.7 466.4,139.7 466.7,137.7 467.1,159 467.5,153.4 467.8,135.8 468.2,153.3 468.5,123 468.9,143.6 469.3,154.7 469.6,167.1 470,165.2 470.3,143.9 470.7,143.4 471.1,132 471.4,112.6 471.8,106.9 472.1,128.4 472.5,134.9 472.9,136.6 473.2,152.4 473.6,151.9 473.9,146.9 474.3,126 474.7,133 475,129.9 475.4,172.6 475.7,117.6 476.1,165.9 476.5,125.4 476.8,137.9 477.2,159 477.5,147.5 477.9,151.2 478.3,108.6 478.6,170.6 479,115.2 479.3,151.4 479.7,164.8 480.1,164 480.4,114.2 480.8,154.6 481.1,144.8 481.5,122.7 481.9,164.9 482.2,188.3 482.6,183.9 482.9,142.2 483.3,128.3 483.7,163.4 484,119.8 484.4,135.9 484.7,169.4 485.1,128.3 485.5,164 485.8,124.8 486.2,97.4 486.5,145.6 486.9,160.3 487.3,128.1 487.6,142.8 488,147 488.3,87.9 488.7,116.4 489.1,95.6 489.4,174.6 489.8,120.7 490.1,156.1 490.5,135.1 490.9,142.3 491.2,149.4 491.6,138.2 491.9,166.1 492.3,130.9 492.7,97.9 493,138.1 493.4,125.5 493.7,153 494.1,143.8 494.5,111.6 494.8,89.1 495.2,152.9 495.5,138 495.9,136.7 496.3,99.1 496.6,86.1 497,74.1 497.3,165.2 497.7,132.1 498.1,125.3 498.4,174.3 498.8,134.3 499.1,146.8 499.5,120.8 499.9,104 500.2,185.5 500.6,107 500.9,124.7 501.3,172 501.7,112.6 502,145.4 502.4,153.9 502.7,115.1 503.1,160.3 503.5,168.8 503.8,97.9 504.2,161.7 504.5,217 504.9,162.7 505.3,165.7 505.6,148.3 506,139.7 506.3,115.8 506.7,201.7 507.1,173.4 507.4,84.4 507.8,141.4 508.1,121.6 508.5,126.6 508.9,157.4 509.2,116.5 509.6,160 509.9,135.3 510.3,194.4 510.7,98.9 511,134.9 511.4,151.3 511.7,135.9 512.1,120.7 512.5,115.8 512.8,169.1 513.2,100.7 513.5,116.7 513.9,91.2 514.3,158.9 514.6,159.6 515,150.9 515.3,108.6 515.7,90.1 516.1,115.1 516.4,141.7 516.8,107.8 517.1,158.8 517.5,153.9 517.9,178.7 518.2,143.6 518.6,132.3 518.9,171.3 519.3,136.7 519.7,149.1 520,161.6 520.4,195 520.7,160.6 521.1,194.5 521.5,177.2 521.8,151.8 522.2,152 522.5,127.3 522.9,151 523.3,110.7 523.6,157.4 524,156.7 524.3,157.3 524.7,107.5 525.1,174.6 525.4,193.1 525.8,146.4 526.1,179.7 526.5,109 526.9,116.8 527.2,174.9 527.6,159.4 527.9,134.7 528.3,120.7 528.7,89.2 529,134.7 529.4,108.4 529.7,157.3 530.1,135.2 530.5,139.1 530.8,103.4 531.2,155.6 531.5,117.8 531.9,136 532.3,157.1 532.6,138.1 533,157.2 533.3,124.3 533.7,154.3 534.1,125.8 534.4,120.8 534.8,180.7 535.1,149.2 535.5,158.5 535.9,121.4 536.2,121.9 536.6,157.7 536.9,163.1 537.3,129.8 537.7,130.9 538,160 538.4,136.2 538.7,127.2 539.1,186 539.5,142.2 539.8,160 540.2,160.3 540.5,132.4 540.9,141.8 541.3,163.2 541.6,147.7 542,125.3 542.3,170.7 542.7,109.2 543.1,115.6 543.4,118.9 543.8,116.4 544.1,171 544.5,113 544.9,121.8 545.2,164.3 545.6,126.3 545.9,159.2 546.3,180.4 546.7,136.4 547,127.9 547.4,138 547.7,140.2 548.1,147.7 548.5,151.9 548.8,163.7 549.2,158.6 549.5,116.7 549.9,176.2 550.3,118.7 550.6,142.3 551,116.4 551.3,119.5 551.7,149.9 552.1,135.3 552.4,145.1 552.8,142.9 553.1,149.5 553.5,153.5 553.9,101.2 554.2,170.5 554.6,135.2 554.9,143 555.3,140.8 555.7,146.6 556,127.6 556.4,95.1 556.7,146.9 557.1,157.7 557.5,129.8 557.8,157 558.2,126.1 558.5,176.9 558.9,168.3 559.3,147.1 559.6,157.7 560,116.1 560.3,116.4 560.7,129.9 561.1,162.1 561.4,140.6 561.8,121.4 562.1,114.6 562.5,121.1 562.9,150.2 563.2,171.3 563.6,115.5 563.9,141.9 564.3,150.9 564.7,147.6 565,121.2 565.4,153.2 565.7,138.1 566.1,144.6 566.5,134.4 566.8,134 567.2,138.6 567.5,144.7 567.9,110.2 568.3,139.7 568.6,129.9 569,134.8 569.3,155.5 569.7,152.5 570.1,125.5 570.4,104.2 570.8,152.9 571.1,124.8 571.5,158.7 571.9,136.9 572.2,138 572.6,129.2 572.9,170 573.3,104.9 573.7,139.3 574,150.8 574.4,130.2 574.7,195 575.1,146.9 575.5,142.5 575.8,136.2 576.2,126.9 576.5,125.9 576.9,146.6 577.3,157 577.6,111.6 578,155 578.3,160.6 578.7,143.7 579.1,122.7 579.4,128.9 579.8,158.2 580.1,129.1 580.5,135.2 580.9,150.6 581.2,152 581.6,151.4 581.9,135.4 582.3,122.2 582.6,154.5 583,151.7 583.4,136 583.7,139.7 584.1,128.7 584.4,158.5 584.8,165.4 585.2,157.9 585.5,154.4 585.9,130 586.2,126.7 586.6,143.1 587,137.2 587.3,155.8 587.7,132.6 588,161.5 588.4,136.5 588.8,161.4 589.1,169.2 589.5,153.3 589.8,125.3 590.2,152.3 590.6,114.1 590.9,166.9 591.3,135.5 591.6,151.3 592,127.8 592.4,119 592.7,115.2 593.1,175.7 593.4,130.2 593.8,160 594.2,160.2 594.5,135.7 594.9,112.7 595.2,150.7 595.6,122 596,160.3 596.3,126.2 596.7,140.2 597,127.7 597.4,146 597.8,130 598.1,140.1 598.5,152 598.8,153 599.2,125.1 599.6,156 599.9,137.7 600.3,138.2 600.6,152.1 601,105.1 601.4,155.8 601.7,121.3 602.1,108.4 602.4,138.3 602.8,162.8 603.2,131.7 603.5,149.8 603.9,141.2 604.2,134.7 604.6,141.2 605,150.7 605.3,107.6 605.7,179.6 606,131.2 606.4,138.6 606.8,175.6 607.1,152.2 607.5,134.2 607.8,130.3 608.2,136.1 608.6,141.9 608.9,141.1 609.3,134.6 609.6,163.1 610,126.2 610.4,161.6 610.7,116.7 611.1,149.3 611.4,161.2 611.8,163.5 612.2,114.9 612.5,177.7 612.9,130.5 613.2,154.5 613.6,124.6 614,165.4 614.3,121.1 614.7,166.8 615,170.8 615.4,120.4 615.8,105.2 616.1,156.6 616.5,176.8 616.8,151.8 617.2,155 617.6,126.4 617.9,164.3 618.3,116.3 618.6,128.4 619,127.4 619.4,154.6 619.7,149.8 620.1,127.2 620.4,177.6 620.8,108.5 621.2,155.6 621.5,130.6 621.9,137.3 622.2,173.5 622.6,145.1 623,137.9 623.3,163.4 623.7,157.5 624,164.6 624.4,117 624.8,176.3 625.1,115 625.5,150.3 625.8,146.5 626.2,145.3 626.6,133.6 626.9,149.5 627.3,149.8 627.6,123.9 628,154.1 628.4,128.6 628.7,177 629.1,128 629.4,107.9 629.8,157.8 630.2,135.7 630.5,156.2 630.9,177 631.2,169 631.6,122.3 632,128.3 632.3,147.4 632.7,143.1 633,140.7 633.4,166.8 633.8,131.2 634.1,141.4 634.5,161 634.8,112.5 635.2,160.9 635.6,130.3 635.9,161.9 636.3,128 636.6,146.6 637,126.5 637.4,138.7 637.7,134.5 638.1,165.3 638.4,140.9 638.8,175.9 639.2,142.4 639.5,152.8 639.9,170.7 640.2,175.8 640.6,151 641,116.4 641.3,157.6 641.7,112.7 642,135.9 642.4,153.7 642.8,106.5 643.1,116 643.5,142.1 643.8,131.5 644.2,151.5 644.6,145.1 644.9,135.8 645.3,131.1 645.6,141.7 646,165.3 646.4,144.3 646.7,118.7 647.1,153.3 647.4,143.2 647.8,126.7 648.2,147.7 648.5,167.8 648.9,130.6 649.2,124.8 649.6,139.5 650,118.2 650.3,162.6 650.7,133.9 651,149.7 651.4,142.3 651.8,161.7 652.1,142 652.5,118 652.8,132.4 653.2,156.7 653.6,142.7 653.9,152.8 654.3,136.9 654.6,126.2 655,116.7 655.4,160.5 655.7,144.6 656.1,134.7 656.4,151.2 656.8,150.6 657.2,142.9 657.5,135.7 657.9,143 658.2,161.2 658.6,136.1 659,116 659.3,171.9 659.7,143.2 660,159.1 660.4,146.1 660.8,135.5 661.1,138.1 661.5,149.7 661.8,173.8 662.2,172.3 662.6,113.2 662.9,111.7 663.3,116.9 663.6,152.4 664,129.7 664.4,127.5 664.7,177.6 665.1,112.2 665.4,157.7 665.8,122.9 666.2,146 666.5,126.6 666.9,152.7 667.2,145.1 667.6,168.8 668,120.4 668.3,161.5 668.7,175.3 669,131.7 669.4,143.9 669.8,126.6 670.1,153.1 670.5,146.1 670.8,136.9 671.2,150.5 671.6,130 671.9,116 672.3,135.5 672.6,135.1 673,179 673.4,141.4 673.7,136.2 674.1,119.5 674.4,147.8 674.8,149.4 675.2,132.4 675.5,143.1 675.9,118.1 676.2,146.6 676.6,118.8 677,160.2 677.3,118.1 677.7,163.6 678,127.1 678.4,153.2 678.8,122.8 679.1,140.7 679.5,171.9 679.8,137.8 680.2,154.9 680.6,132.3 680.9,139.8 681.3,156.3 681.6,127 682,111.8 682.4,117.4 682.7,179.2 683.1,139.9 683.4,136.3 683.8,145.4 684.2,137.1 684.5,161.4 684.9,157.3 685.2,159.9 685.6,122.5 686,167.9 686.3,126.1 686.7,132.4 687,140.2 687.4,173.6 687.8,146.6 688.1,103.2 688.5,171.6 688.8,163 689.2,145.2 689.6,134.9 689.9,136.4 690.3,160.2 690.6,133.3 691,122.5 691.4,158.4 691.7,179 692.1,114.5 692.4,146.8 692.8,163.5 693.2,161.5 693.5,143.3 693.9,145 694.2,154.3 694.6,149.5 695,117.1 695.3,150.2 695.7,94.9 696,137.5 696.4,172.7 696.8,173.1 697.1,121.6 697.5,126.7 697.8,139.6 698.2,170.4 698.6,183.2 698.9,104 699.3,170 699.6,144.8 700,111.1 700.4,168.8 700.7,148.1 701.1,104.7 701.4,126.5 701.8,141.4 702.2,128.3 702.5,129.2 702.9,151.3 703.2,149.1 703.6,139.2 704,141.6 704.3,143.6 704.7,169.8 705,113.2 705.4,113.5 705.8,133.1 706.1,129.4 706.5,145.3 706.8,134.8 707.2,106.4 707.6,134.4 707.9,96.7 708.3,184.4 708.6,172.9 709,130.7 709.4,175.1 709.7,125.9 710.1,138 710.4,182 710.8,173.7 711.2,136.7 711.5,136.8 711.9,140.2 712.2,123.3 712.6,170.5 713,121.8 713.3,97.9 713.7,150.8 714,142.4 714.4,156.2 714.8,160.7 715.1,160.6 715.5,143.6 715.8,149.5 716.2,119.9 716.6,157.4 716.9,142.9 717.3,145.2 717.6,122.7 718,149.7 718.4,102.4 718.7,107.2 719.1,95.4 719.4,190.1 719.8,113.5 720.2,166.7 720.5,147.8 720.9,167.9 721.2,117.8 721.6,139.5 722,152.4 722.3,184.8 722.7,156.2 723,196.3 723.4,145.6 723.8,186 724.1,125.3 724.5,139.5 724.8,154.6 725.2,105.5 725.6,181.2 725.9,63.8 726.3,154.8 726.6,168.2 727,107.3 727.3,149.9 727.7,139.8 728.1,118.9 728.4,160.9 728.8,161.4 729.1,102.3 729.5,89.9 729.9,149.5 730.2,98.2 730.6,166.9 730.9,174.5 731.3,119.3 731.7,167.8 732,170.6 732.4,117.8 732.7,150.9 733.1,160.4 733.5,110.7 733.8,209.7 734.2,195.5 734.5,91.9 734.9,206.6 735.3,90.7 735.6,163.4 736,189.9 736.3,159.4 736.7,167.9 737.1,156 737.4,137.6 737.8,156.7 738.1,130.2 738.5,153.7 738.9,123.6 739.2,164.3 739.6,120.1 739.9,132.2 740.3,159.8 740.7,199.4 741,140.3 741.4,155 741.7,92.9 742.1,101 742.5,157.8 742.8,148.1 743.2,116.3 743.5,202.9 743.9,136.6 744.3,144.9 744.6,147.1 745,127.2 745.3,149.7 745.7,103.8 746.1,175.3 746.4,175.1 746.8,176.6 747.1,132.4 747.5,135.7 747.9,204.4 748.2,116.4 748.6,162.3 748.9,142.9 749.3,119.7 749.7,165.1 750,119.4 750.4,134.5 750.7,146.2 751.1,165.9 751.5,171.4 751.8,75.5 752.2,97.7 752.5,98.4 752.9,117.8 753.3,160.7 753.6,189.7 754,96.7 754.3,105.9 754.7,185.2 755.1,148.4 755.4,120.3 755.8,171.2 756.1,215 756.5,142.2 756.9,144.1 757.2,133.9 757.6,170.8 757.9,91.7 758.3,159.5 758.7,169 759,93.7 759.4,176.9 759.7,112.6 760.1,135.5 760.5,166 760.8,142.2 761.2,129.9 761.5,71.8 761.9,93.4 762.3,115.9 762.6,182.7 763,121.9 763.3,208.1 763.7,118.9 764.1,119.5 764.4,140.8 764.8,78.9 765.1,106.3 765.5,190.1 765.9,100.9 766.2,116.1 766.6,110.9 766.9,138.3 767.3,157.7 767.7,136.7 768,168.6 768.4,112.6 768.7,150.8 769.1,149.4 769.5,115.3 769.8,204.2 770.2,166.6 770.5,130.4 770.9,176.8 771.3,127.6 771.6,103.4 772,181.3 772.3,138.5 772.7,208.4 773.1,91.2 773.4,80.5 773.8,118.4 774.1,124 774.5,148.6 774.9,178.6 775.2,121.3 775.6,160.5 775.9,121.4 776.3,123.5 776.7,103.8 777,197.2 777.4,167.4 777.7,149.4 778.1,126.4 778.5,197.5 778.8,149 779.2,102.4 779.5,103.3 779.9,192.8 780.3,145.5 780.6,94.2 781,132.5 781.3,92.8 781.7,150.5 782.1,105.8 782.4,185.7 782.8,120.6 783.1,150.6 783.5,165.5 783.9,146.4 784.2,159.3 784.6,90.7 784.9,147.6 785.3,153.6 785.7,208.4 786,184.4 786.4,176.5 786.7,125.1 787.1,142 787.5,179.1 787.8,154 788.2,145.1 788.5,120.5 788.9,124.4 789.3,148.1 789.6,102.5 790,175 790.3,112.5 790.7,163.5 791.1,161.5 791.4,118.3 791.8,173.9 792.1,121.6 792.5,122.7 792.9,154.9 793.2,144.4 793.6,124.4 793.9,134.7 794.3,176.3 794.7,181.5 795,134.9 795.4,176.7 795.7,115.6 796.1,137.5 796.5,117.6 796.8,157.3 797.2,150.2 797.5,118.8" stroke="#00f" stroke-width="1.3" fill="none" stroke-linejoin="miter"/>
</g>
<path d="M258 275v-7.3M258 8.4v7.3M437.9 275v-7.3M437.9 8.4v7.3M617.9 275v-7.3M617.9 8.4v7.3M78 208.4h7.3M797.9 208.4h-7.3M78 141.7h7.3M797.9 141.7h-7.3M78 75.1h7.3M797.9 75.1h-7.3" stroke="#262626" stroke-width="1" fill="none"/>
<rect x="78" y="8.4" width="719.9" height="266.6" stroke="#262626" stroke-width="1.2" fill="none"/>
<g font-size="23" fill="#111" stroke="#111" stroke-width="0.4" letter-spacing="0.5"><text x="78.2" y="307.2" text-anchor="middle">0</text><text x="258.2" y="307.2" text-anchor="middle">500</text><text x="438.2" y="307.2" text-anchor="middle">1000</text><text x="618.2" y="307.2" text-anchor="middle">1500</text><text x="798.1" y="307.2" text-anchor="middle">2000</text><text x="69" y="283.7" text-anchor="end">-40</text><text x="69" y="217.1" text-anchor="end">-20</text><text x="69" y="150.4" text-anchor="end">0</text><text x="69" y="83.8" text-anchor="end">20</text><text x="69" y="17.1" text-anchor="end">40</text></g>
<path d="M1206 8.4V275M1386.2 8.4V275M1566.5 8.4V275M1025.7 260.4H1746.8M1025.7 176.4H1746.8M1025.7 92.4H1746.8" stroke="#dedede" stroke-width="1" fill="none"/>
<g clip-path="url(#cTR)">
<path d="M1021 166.5h9m-4.5-4.5v9M1022 177.5h9m-4.5-4.5v9M1022 179.5h9m-4.5-4.5v9M1022 168.5h9m-4.5-4.5v9M1023 170.5h9m-4.5-4.5v9M1023 174.5h9m-4.5-4.5v9M1023 172.5h9m-4.5-4.5v9M1024 185.5h9m-4.5-4.5v9M1024 171.5h9m-4.5-4.5v9M1024 180.5h9m-4.5-4.5v9M1025 186.5h9m-4.5-4.5v9M1025 173.5h9m-4.5-4.5v9M1026 176.5h9m-4.5-4.5v9M1026 171.5h9m-4.5-4.5v9M1026 184.5h9m-4.5-4.5v9M1027 168.5h9m-4.5-4.5v9M1027 177.5h9m-4.5-4.5v9M1027 177.5h9m-4.5-4.5v9M1028 163.5h9m-4.5-4.5v9M1028 166.5h9m-4.5-4.5v9M1028 185.5h9m-4.5-4.5v9M1029 170.5h9m-4.5-4.5v9M1029 176.5h9m-4.5-4.5v9M1029 181.5h9m-4.5-4.5v9M1030 175.5h9m-4.5-4.5v9M1030 171.5h9m-4.5-4.5v9M1031 171.5h9m-4.5-4.5v9M1031 179.5h9m-4.5-4.5v9M1031 169.5h9m-4.5-4.5v9M1032 180.5h9m-4.5-4.5v9M1032 174.5h9m-4.5-4.5v9M1032 183.5h9m-4.5-4.5v9M1033 174.5h9m-4.5-4.5v9M1033 177.5h9m-4.5-4.5v9M1033 170.5h9m-4.5-4.5v9M1034 176.5h9m-4.5-4.5v9M1034 178.5h9m-4.5-4.5v9M1035 175.5h9m-4.5-4.5v9M1035 177.5h9m-4.5-4.5v9M1035 176.5h9m-4.5-4.5v9M1036 165.5h9m-4.5-4.5v9M1036 182.5h9m-4.5-4.5v9M1036 171.5h9m-4.5-4.5v9M1037 167.5h9m-4.5-4.5v9M1037 187.5h9m-4.5-4.5v9M1037 174.5h9m-4.5-4.5v9M1038 170.5h9m-4.5-4.5v9M1038 177.5h9m-4.5-4.5v9M1039 170.5h9m-4.5-4.5v9M1039 176.5h9m-4.5-4.5v9M1039 176.5h9m-4.5-4.5v9M1040 179.5h9m-4.5-4.5v9M1040 177.5h9m-4.5-4.5v9M1040 170.5h9m-4.5-4.5v9M1041 183.5h9m-4.5-4.5v9M1041 183.5h9m-4.5-4.5v9M1041 182.5h9m-4.5-4.5v9M1042 174.5h9m-4.5-4.5v9M1042 174.5h9m-4.5-4.5v9M1042 178.5h9m-4.5-4.5v9M1043 174.5h9m-4.5-4.5v9M1043 169.5h9m-4.5-4.5v9M1044 176.5h9m-4.5-4.5v9M1044 176.5h9m-4.5-4.5v9M1044 172.5h9m-4.5-4.5v9M1045 183.5h9m-4.5-4.5v9M1045 167.5h9m-4.5-4.5v9M1045 179.5h9m-4.5-4.5v9M1046 173.5h9m-4.5-4.5v9M1046 172.5h9m-4.5-4.5v9M1046 177.5h9m-4.5-4.5v9M1047 177.5h9m-4.5-4.5v9M1047 185.5h9m-4.5-4.5v9M1048 183.5h9m-4.5-4.5v9M1048 172.5h9m-4.5-4.5v9M1048 174.5h9m-4.5-4.5v9M1049 173.5h9m-4.5-4.5v9M1049 183.5h9m-4.5-4.5v9M1049 180.5h9m-4.5-4.5v9M1050 167.5h9m-4.5-4.5v9M1050 185.5h9m-4.5-4.5v9M1050 173.5h9m-4.5-4.5v9M1051 180.5h9m-4.5-4.5v9M1051 181.5h9m-4.5-4.5v9M1051 186.5h9m-4.5-4.5v9M1052 164.5h9m-4.5-4.5v9M1052 184.5h9m-4.5-4.5v9M1053 170.5h9m-4.5-4.5v9M1053 170.5h9m-4.5-4.5v9M1053 176.5h9m-4.5-4.5v9M1054 174.5h9m-4.5-4.5v9M1054 172.5h9m-4.5-4.5v9M1054 184.5h9m-4.5-4.5v9M1055 166.5h9m-4.5-4.5v9M1055 173.5h9m-4.5-4.5v9M1055 178.5h9m-4.5-4.5v9M1056 178.5h9m-4.5-4.5v9M1056 179.5h9m-4.5-4.5v9M1057 176.5h9m-4.5-4.5v9M1057 178.5h9m-4.5-4.5v9M1057 174.5h9m-4.5-4.5v9M1058 181.5h9m-4.5-4.5v9M1058 179.5h9m-4.5-4.5v9M1058 185.5h9m-4.5-4.5v9M1059 171.5h9m-4.5-4.5v9M1059 172.5h9m-4.5-4.5v9M1059 173.5h9m-4.5-4.5v9M1060 174.5h9m-4.5-4.5v9M1060 183.5h9m-4.5-4.5v9M1060 164.5h9m-4.5-4.5v9M1061 176.5h9m-4.5-4.5v9M1061 178.5h9m-4.5-4.5v9M1062 171.5h9m-4.5-4.5v9M1062 181.5h9m-4.5-4.5v9M1062 179.5h9m-4.5-4.5v9M1063 181.5h9m-4.5-4.5v9M1063 176.5h9m-4.5-4.5v9M1063 181.5h9m-4.5-4.5v9M1064 172.5h9m-4.5-4.5v9M1064 177.5h9m-4.5-4.5v9M1064 182.5h9m-4.5-4.5v9M1065 174.5h9m-4.5-4.5v9M1065 177.5h9m-4.5-4.5v9M1066 172.5h9m-4.5-4.5v9M1066 172.5h9m-4.5-4.5v9M1066 176.5h9m-4.5-4.5v9M1067 180.5h9m-4.5-4.5v9M1067 162.5h9m-4.5-4.5v9M1067 175.5h9m-4.5-4.5v9M1068 171.5h9m-4.5-4.5v9M1068 184.5h9m-4.5-4.5v9M1068 175.5h9m-4.5-4.5v9M1069 176.5h9m-4.5-4.5v9M1069 172.5h9m-4.5-4.5v9M1070 175.5h9m-4.5-4.5v9M1070 172.5h9m-4.5-4.5v9M1070 184.5h9m-4.5-4.5v9M1071 163.5h9m-4.5-4.5v9M1071 166.5h9m-4.5-4.5v9M1071 164.5h9m-4.5-4.5v9M1072 144.5h9m-4.5-4.5v9M1072 137.5h9m-4.5-4.5v9M1072 163.5h9m-4.5-4.5v9M1073 152.5h9m-4.5-4.5v9M1073 178.5h9m-4.5-4.5v9M1073 170.5h9m-4.5-4.5v9M1074 172.5h9m-4.5-4.5v9M1074 185.5h9m-4.5-4.5v9M1075 161.5h9m-4.5-4.5v9M1075 168.5h9m-4.5-4.5v9M1075 151.5h9m-4.5-4.5v9M1076 151.5h9m-4.5-4.5v9M1076 155.5h9m-4.5-4.5v9M1076 161.5h9m-4.5-4.5v9M1077 171.5h9m-4.5-4.5v9M1077 205.5h9m-4.5-4.5v9M1077 210.5h9m-4.5-4.5v9M1078 249.5h9m-4.5-4.5v9M1078 261.5h9m-4.5-4.5v9M1079 240.5h9m-4.5-4.5v9M1079 226.5h9m-4.5-4.5v9M1079 192.5h9m-4.5-4.5v9M1080 177.5h9m-4.5-4.5v9M1080 168.5h9m-4.5-4.5v9M1080 150.5h9m-4.5-4.5v9M1081 127.5h9m-4.5-4.5v9M1081 129.5h9m-4.5-4.5v9M1081 139.5h9m-4.5-4.5v9M1082 156.5h9m-4.5-4.5v9M1082 159.5h9m-4.5-4.5v9M1082 161.5h9m-4.5-4.5v9M1083 156.5h9m-4.5-4.5v9M1083 160.5h9m-4.5-4.5v9M1084 163.5h9m-4.5-4.5v9M1084 167.5h9m-4.5-4.5v9M1084 168.5h9m-4.5-4.5v9M1085 174.5h9m-4.5-4.5v9M1085 184.5h9m-4.5-4.5v9M1085 171.5h9m-4.5-4.5v9M1086 175.5h9m-4.5-4.5v9M1086 173.5h9m-4.5-4.5v9M1086 190.5h9m-4.5-4.5v9M1087 209.5h9m-4.5-4.5v9M1087 218.5h9m-4.5-4.5v9M1088 234.5h9m-4.5-4.5v9M1088 224.5h9m-4.5-4.5v9M1088 203.5h9m-4.5-4.5v9M1089 162.5h9m-4.5-4.5v9M1089 128.5h9m-4.5-4.5v9M1089 118.5h9m-4.5-4.5v9M1090 82.5h9m-4.5-4.5v9M1090 106.5h9m-4.5-4.5v9M1090 131.5h9m-4.5-4.5v9M1091 150.5h9m-4.5-4.5v9M1091 188.5h9m-4.5-4.5v9M1092 220.5h9m-4.5-4.5v9M1092 239.5h9m-4.5-4.5v9M1092 256.5h9m-4.5-4.5v9M1093 236.5h9m-4.5-4.5v9M1093 215.5h9m-4.5-4.5v9M1093 198.5h9m-4.5-4.5v9M1094 181.5h9m-4.5-4.5v9M1094 167.5h9m-4.5-4.5v9M1094 181.5h9m-4.5-4.5v9M1095 175.5h9m-4.5-4.5v9M1095 177.5h9m-4.5-4.5v9M1095 174.5h9m-4.5-4.5v9M1096 158.5h9m-4.5-4.5v9M1096 156.5h9m-4.5-4.5v9M1097 150.5h9m-4.5-4.5v9M1097 166.5h9m-4.5-4.5v9M1097 154.5h9m-4.5-4.5v9M1098 164.5h9m-4.5-4.5v9M1098 188.5h9m-4.5-4.5v9M1098 193.5h9m-4.5-4.5v9M1099 194.5h9m-4.5-4.5v9M1099 204.5h9m-4.5-4.5v9M1099 195.5h9m-4.5-4.5v9M1100 186.5h9m-4.5-4.5v9M1100 183.5h9m-4.5-4.5v9M1101 187.5h9m-4.5-4.5v9M1101 170.5h9m-4.5-4.5v9M1101 168.5h9m-4.5-4.5v9M1102 156.5h9m-4.5-4.5v9M1102 145.5h9m-4.5-4.5v9M1102 121.5h9m-4.5-4.5v9M1103 107.5h9m-4.5-4.5v9M1103 123.5h9m-4.5-4.5v9M1103 142.5h9m-4.5-4.5v9M1104 157.5h9m-4.5-4.5v9M1104 176.5h9m-4.5-4.5v9M1104 206.5h9m-4.5-4.5v9M1105 225.5h9m-4.5-4.5v9M1105 252.5h9m-4.5-4.5v9M1106 279.5h9m-4.5-4.5v9M1106 242.5h9m-4.5-4.5v9M1106 229.5h9m-4.5-4.5v9M1107 188.5h9m-4.5-4.5v9M1107 146.5h9m-4.5-4.5v9M1107 131.5h9m-4.5-4.5v9M1108 117.5h9m-4.5-4.5v9M1108 124.5h9m-4.5-4.5v9M1108 148.5h9m-4.5-4.5v9M1109 176.5h9m-4.5-4.5v9M1109 206.5h9m-4.5-4.5v9M1110 204.5h9m-4.5-4.5v9M1110 198.5h9m-4.5-4.5v9M1110 201.5h9m-4.5-4.5v9M1111 177.5h9m-4.5-4.5v9M1111 182.5h9m-4.5-4.5v9M1111 170.5h9m-4.5-4.5v9M1112 176.5h9m-4.5-4.5v9M1112 176.5h9m-4.5-4.5v9M1112 163.5h9m-4.5-4.5v9M1113 163.5h9m-4.5-4.5v9M1113 171.5h9m-4.5-4.5v9M1114 161.5h9m-4.5-4.5v9M1114 179.5h9m-4.5-4.5v9M1114 168.5h9m-4.5-4.5v9M1115 159.5h9m-4.5-4.5v9M1115 149.5h9m-4.5-4.5v9M1115 126.5h9m-4.5-4.5v9M1116 111.5h9m-4.5-4.5v9M1116 134.5h9m-4.5-4.5v9M1116 144.5h9m-4.5-4.5v9M1117 161.5h9m-4.5-4.5v9M1117 173.5h9m-4.5-4.5v9M1117 198.5h9m-4.5-4.5v9M1118 214.5h9m-4.5-4.5v9M1118 241.5h9m-4.5-4.5v9M1119 255.5h9m-4.5-4.5v9M1119 235.5h9m-4.5-4.5v9M1119 219.5h9m-4.5-4.5v9M1120 213.5h9m-4.5-4.5v9M1120 162.5h9m-4.5-4.5v9M1120 156.5h9m-4.5-4.5v9M1121 128.5h9m-4.5-4.5v9M1121 139.5h9m-4.5-4.5v9M1121 132.5h9m-4.5-4.5v9M1122 150.5h9m-4.5-4.5v9M1122 163.5h9m-4.5-4.5v9M1123 177.5h9m-4.5-4.5v9M1123 173.5h9m-4.5-4.5v9M1123 191.5h9m-4.5-4.5v9M1124 183.5h9m-4.5-4.5v9M1124 195.5h9m-4.5-4.5v9M1124 188.5h9m-4.5-4.5v9M1125 181.5h9m-4.5-4.5v9M1125 175.5h9m-4.5-4.5v9M1125 171.5h9m-4.5-4.5v9M1126 177.5h9m-4.5-4.5v9M1126 173.5h9m-4.5-4.5v9M1126 176.5h9m-4.5-4.5v9M1127 184.5h9m-4.5-4.5v9M1127 183.5h9m-4.5-4.5v9M1128 176.5h9m-4.5-4.5v9M1128 171.5h9m-4.5-4.5v9M1128 182.5h9m-4.5-4.5v9M1129 177.5h9m-4.5-4.5v9M1129 170.5h9m-4.5-4.5v9M1129 174.5h9m-4.5-4.5v9M1130 178.5h9m-4.5-4.5v9M1130 173.5h9m-4.5-4.5v9M1130 183.5h9m-4.5-4.5v9M1131 184.5h9m-4.5-4.5v9M1131 183.5h9m-4.5-4.5v9M1132 175.5h9m-4.5-4.5v9M1132 181.5h9m-4.5-4.5v9M1132 173.5h9m-4.5-4.5v9M1133 183.5h9m-4.5-4.5v9M1133 169.5h9m-4.5-4.5v9M1133 186.5h9m-4.5-4.5v9M1134 171.5h9m-4.5-4.5v9M1134 173.5h9m-4.5-4.5v9M1134 186.5h9m-4.5-4.5v9M1135 169.5h9m-4.5-4.5v9M1135 175.5h9m-4.5-4.5v9M1135 176.5h9m-4.5-4.5v9M1136 178.5h9m-4.5-4.5v9M1136 179.5h9m-4.5-4.5v9M1137 175.5h9m-4.5-4.5v9M1137 181.5h9m-4.5-4.5v9M1137 173.5h9m-4.5-4.5v9M1138 169.5h9m-4.5-4.5v9M1138 170.5h9m-4.5-4.5v9M1138 157.5h9m-4.5-4.5v9M1139 157.5h9m-4.5-4.5v9M1139 164.5h9m-4.5-4.5v9M1139 185.5h9m-4.5-4.5v9M1140 194.5h9m-4.5-4.5v9M1140 204.5h9m-4.5-4.5v9M1141 211.5h9m-4.5-4.5v9M1141 201.5h9m-4.5-4.5v9M1141 202.5h9m-4.5-4.5v9M1142 185.5h9m-4.5-4.5v9M1142 160.5h9m-4.5-4.5v9M1142 151.5h9m-4.5-4.5v9M1143 125.5h9m-4.5-4.5v9M1143 119.5h9m-4.5-4.5v9M1143 129.5h9m-4.5-4.5v9M1144 144.5h9m-4.5-4.5v9M1144 160.5h9m-4.5-4.5v9M1145 190.5h9m-4.5-4.5v9M1145 191.5h9m-4.5-4.5v9M1145 196.5h9m-4.5-4.5v9M1146 216.5h9m-4.5-4.5v9M1146 190.5h9m-4.5-4.5v9M1146 194.5h9m-4.5-4.5v9M1147 190.5h9m-4.5-4.5v9M1147 177.5h9m-4.5-4.5v9M1147 200.5h9m-4.5-4.5v9M1148 198.5h9m-4.5-4.5v9M1148 210.5h9m-4.5-4.5v9M1148 198.5h9m-4.5-4.5v9M1149 190.5h9m-4.5-4.5v9M1149 187.5h9m-4.5-4.5v9M1150 181.5h9m-4.5-4.5v9M1150 172.5h9m-4.5-4.5v9M1150 170.5h9m-4.5-4.5v9M1151 183.5h9m-4.5-4.5v9M1151 154.5h9m-4.5-4.5v9M1151 145.5h9m-4.5-4.5v9M1152 130.5h9m-4.5-4.5v9M1152 113.5h9m-4.5-4.5v9M1152 124.5h9m-4.5-4.5v9M1153 152.5h9m-4.5-4.5v9M1153 156.5h9m-4.5-4.5v9M1154 188.5h9m-4.5-4.5v9M1154 192.5h9m-4.5-4.5v9M1154 204.5h9m-4.5-4.5v9M1155 215.5h9m-4.5-4.5v9M1155 202.5h9m-4.5-4.5v9M1155 185.5h9m-4.5-4.5v9M1156 191.5h9m-4.5-4.5v9M1156 176.5h9m-4.5-4.5v9M1156 172.5h9m-4.5-4.5v9M1157 174.5h9m-4.5-4.5v9M1157 166.5h9m-4.5-4.5v9M1157 175.5h9m-4.5-4.5v9M1158 184.5h9m-4.5-4.5v9M1158 174.5h9m-4.5-4.5v9M1159 177.5h9m-4.5-4.5v9M1159 176.5h9m-4.5-4.5v9M1159 174.5h9m-4.5-4.5v9M1160 180.5h9m-4.5-4.5v9M1160 178.5h9m-4.5-4.5v9M1160 168.5h9m-4.5-4.5v9M1161 180.5h9m-4.5-4.5v9M1161 173.5h9m-4.5-4.5v9M1161 176.5h9m-4.5-4.5v9M1162 179.5h9m-4.5-4.5v9M1162 180.5h9m-4.5-4.5v9M1163 166.5h9m-4.5-4.5v9M1163 175.5h9m-4.5-4.5v9M1163 180.5h9m-4.5-4.5v9M1164 172.5h9m-4.5-4.5v9M1164 174.5h9m-4.5-4.5v9M1164 183.5h9m-4.5-4.5v9M1165 177.5h9m-4.5-4.5v9M1165 179.5h9m-4.5-4.5v9M1165 173.5h9m-4.5-4.5v9M1166 175.5h9m-4.5-4.5v9M1166 179.5h9m-4.5-4.5v9M1167 176.5h9m-4.5-4.5v9M1167 174.5h9m-4.5-4.5v9M1167 173.5h9m-4.5-4.5v9M1168 170.5h9m-4.5-4.5v9M1168 178.5h9m-4.5-4.5v9M1168 175.5h9m-4.5-4.5v9M1169 174.5h9m-4.5-4.5v9M1169 177.5h9m-4.5-4.5v9M1169 184.5h9m-4.5-4.5v9M1170 175.5h9m-4.5-4.5v9M1170 172.5h9m-4.5-4.5v9M1170 175.5h9m-4.5-4.5v9M1171 181.5h9m-4.5-4.5v9M1171 195.5h9m-4.5-4.5v9M1172 184.5h9m-4.5-4.5v9M1172 194.5h9m-4.5-4.5v9M1172 195.5h9m-4.5-4.5v9M1173 190.5h9m-4.5-4.5v9M1173 177.5h9m-4.5-4.5v9M1173 175.5h9m-4.5-4.5v9M1174 177.5h9m-4.5-4.5v9M1174 173.5h9m-4.5-4.5v9M1174 176.5h9m-4.5-4.5v9M1175 174.5h9m-4.5-4.5v9M1175 176.5h9m-4.5-4.5v9M1176 178.5h9m-4.5-4.5v9M1176 179.5h9m-4.5-4.5v9M1176 173.5h9m-4.5-4.5v9M1177 179.5h9m-4.5-4.5v9M1177 171.5h9m-4.5-4.5v9M1177 181.5h9m-4.5-4.5v9M1178 169.5h9m-4.5-4.5v9M1178 171.5h9m-4.5-4.5v9M1178 177.5h9m-4.5-4.5v9M1179 174.5h9m-4.5-4.5v9M1179 176.5h9m-4.5-4.5v9M1179 174.5h9m-4.5-4.5v9M1180 174.5h9m-4.5-4.5v9M1180 180.5h9m-4.5-4.5v9M1181 179.5h9m-4.5-4.5v9M1181 178.5h9m-4.5-4.5v9M1181 178.5h9m-4.5-4.5v9M1182 171.5h9m-4.5-4.5v9M1182 177.5h9m-4.5-4.5v9M1182 174.5h9m-4.5-4.5v9M1183 170.5h9m-4.5-4.5v9M1183 163.5h9m-4.5-4.5v9M1183 165.5h9m-4.5-4.5v9M1184 154.5h9m-4.5-4.5v9M1184 156.5h9m-4.5-4.5v9M1185 170.5h9m-4.5-4.5v9M1185 176.5h9m-4.5-4.5v9M1185 175.5h9m-4.5-4.5v9M1186 178.5h9m-4.5-4.5v9M1186 174.5h9m-4.5-4.5v9M1186 176.5h9m-4.5-4.5v9M1187 176.5h9m-4.5-4.5v9M1187 177.5h9m-4.5-4.5v9M1187 178.5h9m-4.5-4.5v9M1188 173.5h9m-4.5-4.5v9M1188 173.5h9m-4.5-4.5v9M1188 176.5h9m-4.5-4.5v9M1189 174.5h9m-4.5-4.5v9M1189 178.5h9m-4.5-4.5v9M1190 173.5h9m-4.5-4.5v9M1190 178.5h9m-4.5-4.5v9M1190 168.5h9m-4.5-4.5v9M1191 163.5h9m-4.5-4.5v9M1191 154.5h9m-4.5-4.5v9M1191 154.5h9m-4.5-4.5v9M1192 158.5h9m-4.5-4.5v9M1192 158.5h9m-4.5-4.5v9M1192 170.5h9m-4.5-4.5v9M1193 164.5h9m-4.5-4.5v9M1193 198.5h9m-4.5-4.5v9M1194 222.5h9m-4.5-4.5v9M1194 239.5h9m-4.5-4.5v9M1194 234.5h9m-4.5-4.5v9M1195 234.5h9m-4.5-4.5v9M1195 222.5h9m-4.5-4.5v9M1195 196.5h9m-4.5-4.5v9M1196 184.5h9m-4.5-4.5v9M1196 157.5h9m-4.5-4.5v9M1196 156.5h9m-4.5-4.5v9M1197 140.5h9m-4.5-4.5v9M1197 135.5h9m-4.5-4.5v9M1198 138.5h9m-4.5-4.5v9M1198 151.5h9m-4.5-4.5v9M1198 167.5h9m-4.5-4.5v9M1199 184.5h9m-4.5-4.5v9M1199 177.5h9m-4.5-4.5v9M1199 174.5h9m-4.5-4.5v9M1200 178.5h9m-4.5-4.5v9M1200 177.5h9m-4.5-4.5v9M1200 175.5h9m-4.5-4.5v9M1201 178.5h9m-4.5-4.5v9M1201 181.5h9m-4.5-4.5v9M1201 183.5h9m-4.5-4.5v9M1202 176.5h9m-4.5-4.5v9M1202 174.5h9m-4.5-4.5v9M1203 200.5h9m-4.5-4.5v9M1203 206.5h9m-4.5-4.5v9M1203 203.5h9m-4.5-4.5v9M1204 194.5h9m-4.5-4.5v9M1204 185.5h9m-4.5-4.5v9M1204 191.5h9m-4.5-4.5v9M1205 180.5h9m-4.5-4.5v9M1205 165.5h9m-4.5-4.5v9M1205 174.5h9m-4.5-4.5v9M1206 174.5h9m-4.5-4.5v9M1206 176.5h9m-4.5-4.5v9M1207 179.5h9m-4.5-4.5v9M1207 175.5h9m-4.5-4.5v9M1207 169.5h9m-4.5-4.5v9M1208 188.5h9m-4.5-4.5v9M1208 189.5h9m-4.5-4.5v9M1208 208.5h9m-4.5-4.5v9M1209 215.5h9m-4.5-4.5v9M1209 198.5h9m-4.5-4.5v9M1209 181.5h9m-4.5-4.5v9M1210 162.5h9m-4.5-4.5v9M1210 162.5h9m-4.5-4.5v9M1210 171.5h9m-4.5-4.5v9M1211 165.5h9m-4.5-4.5v9M1211 179.5h9m-4.5-4.5v9M1212 169.5h9m-4.5-4.5v9M1212 175.5h9m-4.5-4.5v9M1212 179.5h9m-4.5-4.5v9M1213 178.5h9m-4.5-4.5v9M1213 177.5h9m-4.5-4.5v9M1213 181.5h9m-4.5-4.5v9M1214 174.5h9m-4.5-4.5v9M1214 175.5h9m-4.5-4.5v9M1214 178.5h9m-4.5-4.5v9M1215 186.5h9m-4.5-4.5v9M1215 172.5h9m-4.5-4.5v9M1216 167.5h9m-4.5-4.5v9M1216 174.5h9m-4.5-4.5v9M1216 178.5h9m-4.5-4.5v9M1217 170.5h9m-4.5-4.5v9M1217 176.5h9m-4.5-4.5v9M1217 176.5h9m-4.5-4.5v9M1218 175.5h9m-4.5-4.5v9M1218 176.5h9m-4.5-4.5v9M1218 173.5h9m-4.5-4.5v9M1219 160.5h9m-4.5-4.5v9M1219 158.5h9m-4.5-4.5v9M1220 152.5h9m-4.5-4.5v9M1220 159.5h9m-4.5-4.5v9M1220 167.5h9m-4.5-4.5v9M1221 157.5h9m-4.5-4.5v9M1221 169.5h9m-4.5-4.5v9M1221 165.5h9m-4.5-4.5v9M1222 176.5h9m-4.5-4.5v9M1222 169.5h9m-4.5-4.5v9M1222 185.5h9m-4.5-4.5v9M1223 176.5h9m-4.5-4.5v9M1223 173.5h9m-4.5-4.5v9M1223 173.5h9m-4.5-4.5v9M1224 175.5h9m-4.5-4.5v9M1224 176.5h9m-4.5-4.5v9M1225 175.5h9m-4.5-4.5v9M1225 178.5h9m-4.5-4.5v9M1225 177.5h9m-4.5-4.5v9M1226 179.5h9m-4.5-4.5v9M1226 173.5h9m-4.5-4.5v9M1226 172.5h9m-4.5-4.5v9M1227 195.5h9m-4.5-4.5v9M1227 177.5h9m-4.5-4.5v9M1227 174.5h9m-4.5-4.5v9M1228 178.5h9m-4.5-4.5v9M1228 170.5h9m-4.5-4.5v9M1229 179.5h9m-4.5-4.5v9M1229 179.5h9m-4.5-4.5v9M1229 169.5h9m-4.5-4.5v9M1230 178.5h9m-4.5-4.5v9M1230 171.5h9m-4.5-4.5v9M1230 177.5h9m-4.5-4.5v9M1231 168.5h9m-4.5-4.5v9M1231 178.5h9m-4.5-4.5v9M1231 187.5h9m-4.5-4.5v9M1232 171.5h9m-4.5-4.5v9M1232 181.5h9m-4.5-4.5v9M1232 176.5h9m-4.5-4.5v9M1233 169.5h9m-4.5-4.5v9M1233 177.5h9m-4.5-4.5v9M1234 175.5h9m-4.5-4.5v9M1234 178.5h9m-4.5-4.5v9M1234 173.5h9m-4.5-4.5v9M1235 182.5h9m-4.5-4.5v9M1235 187.5h9m-4.5-4.5v9M1235 175.5h9m-4.5-4.5v9M1236 178.5h9m-4.5-4.5v9M1236 172.5h9m-4.5-4.5v9M1236 184.5h9m-4.5-4.5v9M1237 179.5h9m-4.5-4.5v9M1237 172.5h9m-4.5-4.5v9M1238 180.5h9m-4.5-4.5v9M1238 175.5h9m-4.5-4.5v9M1238 179.5h9m-4.5-4.5v9M1239 187.5h9m-4.5-4.5v9M1239 187.5h9m-4.5-4.5v9M1239 192.5h9m-4.5-4.5v9M1240 199.5h9m-4.5-4.5v9M1240 199.5h9m-4.5-4.5v9M1240 186.5h9m-4.5-4.5v9M1241 161.5h9m-4.5-4.5v9M1241 141.5h9m-4.5-4.5v9M1241 127.5h9m-4.5-4.5v9M1242 109.5h9m-4.5-4.5v9M1242 126.5h9m-4.5-4.5v9M1243 143.5h9m-4.5-4.5v9M1243 159.5h9m-4.5-4.5v9M1243 186.5h9m-4.5-4.5v9M1244 206.5h9m-4.5-4.5v9M1244 212.5h9m-4.5-4.5v9M1244 230.5h9m-4.5-4.5v9M1245 220.5h9m-4.5-4.5v9M1245 199.5h9m-4.5-4.5v9M1245 186.5h9m-4.5-4.5v9M1246 176.5h9m-4.5-4.5v9M1246 181.5h9m-4.5-4.5v9M1247 177.5h9m-4.5-4.5v9M1247 174.5h9m-4.5-4.5v9M1247 172.5h9m-4.5-4.5v9M1248 173.5h9m-4.5-4.5v9M1248 176.5h9m-4.5-4.5v9M1248 178.5h9m-4.5-4.5v9M1249 178.5h9m-4.5-4.5v9M1249 179.5h9m-4.5-4.5v9M1249 174.5h9m-4.5-4.5v9M1250 146.5h9m-4.5-4.5v9M1250 133.5h9m-4.5-4.5v9M1251 128.5h9m-4.5-4.5v9M1251 85.5h9m-4.5-4.5v9M1251 117.5h9m-4.5-4.5v9M1252 138.5h9m-4.5-4.5v9M1252 170.5h9m-4.5-4.5v9M1252 209.5h9m-4.5-4.5v9M1253 221.5h9m-4.5-4.5v9M1253 239.5h9m-4.5-4.5v9M1253 227.5h9m-4.5-4.5v9M1254 203.5h9m-4.5-4.5v9M1254 197.5h9m-4.5-4.5v9M1254 171.5h9m-4.5-4.5v9M1255 184.5h9m-4.5-4.5v9M1255 165.5h9m-4.5-4.5v9M1256 184.5h9m-4.5-4.5v9M1256 169.5h9m-4.5-4.5v9M1256 183.5h9m-4.5-4.5v9M1257 172.5h9m-4.5-4.5v9M1257 176.5h9m-4.5-4.5v9M1257 189.5h9m-4.5-4.5v9M1258 196.5h9m-4.5-4.5v9M1258 198.5h9m-4.5-4.5v9M1258 192.5h9m-4.5-4.5v9M1259 186.5h9m-4.5-4.5v9M1259 183.5h9m-4.5-4.5v9M1260 173.5h9m-4.5-4.5v9M1260 180.5h9m-4.5-4.5v9M1260 175.5h9m-4.5-4.5v9M1261 181.5h9m-4.5-4.5v9M1261 167.5h9m-4.5-4.5v9M1261 181.5h9m-4.5-4.5v9M1262 176.5h9m-4.5-4.5v9M1262 170.5h9m-4.5-4.5v9M1262 183.5h9m-4.5-4.5v9M1263 174.5h9m-4.5-4.5v9M1263 155.5h9m-4.5-4.5v9M1263 134.5h9m-4.5-4.5v9M1264 125.5h9m-4.5-4.5v9M1264 107.5h9m-4.5-4.5v9M1265 132.5h9m-4.5-4.5v9M1265 137.5h9m-4.5-4.5v9M1265 173.5h9m-4.5-4.5v9M1266 211.5h9m-4.5-4.5v9M1266 234.5h9m-4.5-4.5v9M1266 255.5h9m-4.5-4.5v9M1267 228.5h9m-4.5-4.5v9M1267 219.5h9m-4.5-4.5v9M1267 198.5h9m-4.5-4.5v9M1268 173.5h9m-4.5-4.5v9M1268 177.5h9m-4.5-4.5v9M1269 166.5h9m-4.5-4.5v9M1269 165.5h9m-4.5-4.5v9M1269 157.5h9m-4.5-4.5v9M1270 150.5h9m-4.5-4.5v9M1270 156.5h9m-4.5-4.5v9M1270 164.5h9m-4.5-4.5v9M1271 171.5h9m-4.5-4.5v9M1271 182.5h9m-4.5-4.5v9M1271 176.5h9m-4.5-4.5v9M1272 178.5h9m-4.5-4.5v9M1272 168.5h9m-4.5-4.5v9M1273 184.5h9m-4.5-4.5v9M1273 174.5h9m-4.5-4.5v9M1273 198.5h9m-4.5-4.5v9M1274 199.5h9m-4.5-4.5v9M1274 195.5h9m-4.5-4.5v9M1274 190.5h9m-4.5-4.5v9M1275 186.5h9m-4.5-4.5v9M1275 176.5h9m-4.5-4.5v9M1275 170.5h9m-4.5-4.5v9M1276 177.5h9m-4.5-4.5v9M1276 179.5h9m-4.5-4.5v9M1276 179.5h9m-4.5-4.5v9M1277 162.5h9m-4.5-4.5v9M1277 152.5h9m-4.5-4.5v9M1278 135.5h9m-4.5-4.5v9M1278 120.5h9m-4.5-4.5v9M1278 134.5h9m-4.5-4.5v9M1279 144.5h9m-4.5-4.5v9M1279 163.5h9m-4.5-4.5v9M1279 182.5h9m-4.5-4.5v9M1280 201.5h9m-4.5-4.5v9M1280 212.5h9m-4.5-4.5v9M1280 214.5h9m-4.5-4.5v9M1281 205.5h9m-4.5-4.5v9M1281 195.5h9m-4.5-4.5v9M1282 189.5h9m-4.5-4.5v9M1282 175.5h9m-4.5-4.5v9M1282 175.5h9m-4.5-4.5v9M1283 174.5h9m-4.5-4.5v9M1283 177.5h9m-4.5-4.5v9M1283 177.5h9m-4.5-4.5v9M1284 181.5h9m-4.5-4.5v9M1284 176.5h9m-4.5-4.5v9M1284 168.5h9m-4.5-4.5v9M1285 173.5h9m-4.5-4.5v9M1285 175.5h9m-4.5-4.5v9M1285 176.5h9m-4.5-4.5v9M1286 178.5h9m-4.5-4.5v9M1286 176.5h9m-4.5-4.5v9M1287 186.5h9m-4.5-4.5v9M1287 197.5h9m-4.5-4.5v9M1287 206.5h9m-4.5-4.5v9M1288 199.5h9m-4.5-4.5v9M1288 191.5h9m-4.5-4.5v9M1288 184.5h9m-4.5-4.5v9M1289 175.5h9m-4.5-4.5v9M1289 173.5h9m-4.5-4.5v9M1289 174.5h9m-4.5-4.5v9M1290 176.5h9m-4.5-4.5v9M1290 161.5h9m-4.5-4.5v9M1291 160.5h9m-4.5-4.5v9M1291 157.5h9m-4.5-4.5v9M1291 161.5h9m-4.5-4.5v9M1292 166.5h9m-4.5-4.5v9M1292 176.5h9m-4.5-4.5v9M1292 189.5h9m-4.5-4.5v9M1293 190.5h9m-4.5-4.5v9M1293 191.5h9m-4.5-4.5v9M1293 180.5h9m-4.5-4.5v9M1294 184.5h9m-4.5-4.5v9M1294 172.5h9m-4.5-4.5v9M1294 181.5h9m-4.5-4.5v9M1295 180.5h9m-4.5-4.5v9M1295 174.5h9m-4.5-4.5v9M1296 165.5h9m-4.5-4.5v9M1296 152.5h9m-4.5-4.5v9M1296 148.5h9m-4.5-4.5v9M1297 156.5h9m-4.5-4.5v9M1297 168.5h9m-4.5-4.5v9M1297 180.5h9m-4.5-4.5v9M1298 191.5h9m-4.5-4.5v9M1298 201.5h9m-4.5-4.5v9M1298 201.5h9m-4.5-4.5v9M1299 187.5h9m-4.5-4.5v9M1299 183.5h9m-4.5-4.5v9M1300 179.5h9m-4.5-4.5v9M1300 173.5h9m-4.5-4.5v9M1300 174.5h9m-4.5-4.5v9M1301 178.5h9m-4.5-4.5v9M1301 173.5h9m-4.5-4.5v9M1301 180.5h9m-4.5-4.5v9M1302 183.5h9m-4.5-4.5v9M1302 189.5h9m-4.5-4.5v9M1302 187.5h9m-4.5-4.5v9M1303 195.5h9m-4.5-4.5v9M1303 196.5h9m-4.5-4.5v9M1304 180.5h9m-4.5-4.5v9M1304 183.5h9m-4.5-4.5v9M1304 175.5h9m-4.5-4.5v9M1305 176.5h9m-4.5-4.5v9M1305 152.5h9m-4.5-4.5v9M1305 146.5h9m-4.5-4.5v9M1306 150.5h9m-4.5-4.5v9M1306 162.5h9m-4.5-4.5v9M1306 162.5h9m-4.5-4.5v9M1307 165.5h9m-4.5-4.5v9M1307 177.5h9m-4.5-4.5v9M1307 170.5h9m-4.5-4.5v9M1308 185.5h9m-4.5-4.5v9M1308 170.5h9m-4.5-4.5v9M1309 176.5h9m-4.5-4.5v9M1309 171.5h9m-4.5-4.5v9M1309 174.5h9m-4.5-4.5v9M1310 179.5h9m-4.5-4.5v9M1310 178.5h9m-4.5-4.5v9M1310 188.5h9m-4.5-4.5v9M1311 174.5h9m-4.5-4.5v9M1311 180.5h9m-4.5-4.5v9M1311 168.5h9m-4.5-4.5v9M1312 182.5h9m-4.5-4.5v9M1312 172.5h9m-4.5-4.5v9M1313 179.5h9m-4.5-4.5v9M1313 170.5h9m-4.5-4.5v9M1313 173.5h9m-4.5-4.5v9M1314 174.5h9m-4.5-4.5v9M1314 170.5h9m-4.5-4.5v9M1314 174.5h9m-4.5-4.5v9M1315 178.5h9m-4.5-4.5v9M1315 171.5h9m-4.5-4.5v9M1315 170.5h9m-4.5-4.5v9M1316 170.5h9m-4.5-4.5v9M1316 178.5h9m-4.5-4.5v9M1316 170.5h9m-4.5-4.5v9M1317 182.5h9m-4.5-4.5v9M1317 173.5h9m-4.5-4.5v9M1318 178.5h9m-4.5-4.5v9M1318 173.5h9m-4.5-4.5v9M1318 178.5h9m-4.5-4.5v9M1319 176.5h9m-4.5-4.5v9M1319 173.5h9m-4.5-4.5v9M1319 172.5h9m-4.5-4.5v9M1320 176.5h9m-4.5-4.5v9M1320 174.5h9m-4.5-4.5v9M1320 180.5h9m-4.5-4.5v9M1321 176.5h9m-4.5-4.5v9M1321 169.5h9m-4.5-4.5v9M1322 180.5h9m-4.5-4.5v9M1322 175.5h9m-4.5-4.5v9M1322 173.5h9m-4.5-4.5v9M1323 173.5h9m-4.5-4.5v9M1323 176.5h9m-4.5-4.5v9M1323 179.5h9m-4.5-4.5v9M1324 177.5h9m-4.5-4.5v9M1324 175.5h9m-4.5-4.5v9M1324 172.5h9m-4.5-4.5v9M1325 170.5h9m-4.5-4.5v9M1325 180.5h9m-4.5-4.5v9M1326 177.5h9m-4.5-4.5v9M1326 177.5h9m-4.5-4.5v9M1326 161.5h9m-4.5-4.5v9M1327 159.5h9m-4.5-4.5v9M1327 157.5h9m-4.5-4.5v9M1327 144.5h9m-4.5-4.5v9M1328 158.5h9m-4.5-4.5v9M1328 169.5h9m-4.5-4.5v9M1328 198.5h9m-4.5-4.5v9M1329 220.5h9m-4.5-4.5v9M1329 251.5h9m-4.5-4.5v9M1329 266.5h9m-4.5-4.5v9M1330 243.5h9m-4.5-4.5v9M1330 231.5h9m-4.5-4.5v9M1331 187.5h9m-4.5-4.5v9M1331 185.5h9m-4.5-4.5v9M1331 174.5h9m-4.5-4.5v9M1332 153.5h9m-4.5-4.5v9M1332 134.5h9m-4.5-4.5v9M1332 123.5h9m-4.5-4.5v9M1333 143.5h9m-4.5-4.5v9M1333 143.5h9m-4.5-4.5v9M1333 166.5h9m-4.5-4.5v9M1334 173.5h9m-4.5-4.5v9M1334 173.5h9m-4.5-4.5v9M1335 179.5h9m-4.5-4.5v9M1335 169.5h9m-4.5-4.5v9M1335 178.5h9m-4.5-4.5v9M1336 187.5h9m-4.5-4.5v9M1336 197.5h9m-4.5-4.5v9M1336 193.5h9m-4.5-4.5v9M1337 196.5h9m-4.5-4.5v9M1337 180.5h9m-4.5-4.5v9M1337 188.5h9m-4.5-4.5v9M1338 180.5h9m-4.5-4.5v9M1338 165.5h9m-4.5-4.5v9M1338 170.5h9m-4.5-4.5v9M1339 178.5h9m-4.5-4.5v9M1339 176.5h9m-4.5-4.5v9M1340 174.5h9m-4.5-4.5v9M1340 182.5h9m-4.5-4.5v9M1340 172.5h9m-4.5-4.5v9M1341 181.5h9m-4.5-4.5v9M1341 178.5h9m-4.5-4.5v9M1341 169.5h9m-4.5-4.5v9M1342 180.5h9m-4.5-4.5v9M1342 178.5h9m-4.5-4.5v9M1342 177.5h9m-4.5-4.5v9M1343 168.5h9m-4.5-4.5v9M1343 175.5h9m-4.5-4.5v9M1344 166.5h9m-4.5-4.5v9M1344 175.5h9m-4.5-4.5v9M1344 188.5h9m-4.5-4.5v9M1345 175.5h9m-4.5-4.5v9M1345 178.5h9m-4.5-4.5v9M1345 171.5h9m-4.5-4.5v9M1346 177.5h9m-4.5-4.5v9M1346 170.5h9m-4.5-4.5v9M1346 177.5h9m-4.5-4.5v9M1347 183.5h9m-4.5-4.5v9M1347 179.5h9m-4.5-4.5v9M1347 182.5h9m-4.5-4.5v9M1348 168.5h9m-4.5-4.5v9M1348 168.5h9m-4.5-4.5v9M1349 178.5h9m-4.5-4.5v9M1349 172.5h9m-4.5-4.5v9M1349 180.5h9m-4.5-4.5v9M1350 172.5h9m-4.5-4.5v9M1350 179.5h9m-4.5-4.5v9M1350 178.5h9m-4.5-4.5v9M1351 186.5h9m-4.5-4.5v9M1351 179.5h9m-4.5-4.5v9M1351 173.5h9m-4.5-4.5v9M1352 181.5h9m-4.5-4.5v9M1352 165.5h9m-4.5-4.5v9M1353 182.5h9m-4.5-4.5v9M1353 170.5h9m-4.5-4.5v9M1353 154.5h9m-4.5-4.5v9M1354 148.5h9m-4.5-4.5v9M1354 138.5h9m-4.5-4.5v9M1354 133.5h9m-4.5-4.5v9M1355 141.5h9m-4.5-4.5v9M1355 153.5h9m-4.5-4.5v9M1355 154.5h9m-4.5-4.5v9M1356 182.5h9m-4.5-4.5v9M1356 182.5h9m-4.5-4.5v9M1357 181.5h9m-4.5-4.5v9M1357 205.5h9m-4.5-4.5v9M1357 211.5h9m-4.5-4.5v9M1358 190.5h9m-4.5-4.5v9M1358 190.5h9m-4.5-4.5v9M1358 186.5h9m-4.5-4.5v9M1359 169.5h9m-4.5-4.5v9M1359 179.5h9m-4.5-4.5v9M1359 170.5h9m-4.5-4.5v9M1360 177.5h9m-4.5-4.5v9M1360 173.5h9m-4.5-4.5v9M1360 182.5h9m-4.5-4.5v9M1361 170.5h9m-4.5-4.5v9M1361 181.5h9m-4.5-4.5v9M1362 173.5h9m-4.5-4.5v9M1362 179.5h9m-4.5-4.5v9M1362 177.5h9m-4.5-4.5v9M1363 183.5h9m-4.5-4.5v9M1363 174.5h9m-4.5-4.5v9M1363 178.5h9m-4.5-4.5v9M1364 176.5h9m-4.5-4.5v9M1364 173.5h9m-4.5-4.5v9M1364 179.5h9m-4.5-4.5v9M1365 170.5h9m-4.5-4.5v9M1365 184.5h9m-4.5-4.5v9M1366 162.5h9m-4.5-4.5v9M1366 166.5h9m-4.5-4.5v9M1366 152.5h9m-4.5-4.5v9M1367 143.5h9m-4.5-4.5v9M1367 122.5h9m-4.5-4.5v9M1367 146.5h9m-4.5-4.5v9M1368 163.5h9m-4.5-4.5v9M1368 173.5h9m-4.5-4.5v9M1368 164.5h9m-4.5-4.5v9M1369 188.5h9m-4.5-4.5v9M1369 184.5h9m-4.5-4.5v9M1369 192.5h9m-4.5-4.5v9M1370 193.5h9m-4.5-4.5v9M1370 186.5h9m-4.5-4.5v9M1371 176.5h9m-4.5-4.5v9M1371 178.5h9m-4.5-4.5v9M1371 178.5h9m-4.5-4.5v9M1372 173.5h9m-4.5-4.5v9M1372 177.5h9m-4.5-4.5v9M1372 173.5h9m-4.5-4.5v9M1373 180.5h9m-4.5-4.5v9M1373 174.5h9m-4.5-4.5v9M1373 175.5h9m-4.5-4.5v9M1374 177.5h9m-4.5-4.5v9M1374 175.5h9m-4.5-4.5v9M1375 174.5h9m-4.5-4.5v9M1375 173.5h9m-4.5-4.5v9M1375 175.5h9m-4.5-4.5v9M1376 177.5h9m-4.5-4.5v9M1376 176.5h9m-4.5-4.5v9M1376 177.5h9m-4.5-4.5v9M1377 170.5h9m-4.5-4.5v9M1377 173.5h9m-4.5-4.5v9M1377 177.5h9m-4.5-4.5v9M1378 177.5h9m-4.5-4.5v9M1378 181.5h9m-4.5-4.5v9M1379 170.5h9m-4.5-4.5v9M1379 180.5h9m-4.5-4.5v9M1379 173.5h9m-4.5-4.5v9M1380 177.5h9m-4.5-4.5v9M1380 179.5h9m-4.5-4.5v9M1380 175.5h9m-4.5-4.5v9M1381 175.5h9m-4.5-4.5v9M1381 168.5h9m-4.5-4.5v9M1381 176.5h9m-4.5-4.5v9M1382 175.5h9m-4.5-4.5v9M1382 177.5h9m-4.5-4.5v9M1382 177.5h9m-4.5-4.5v9M1383 173.5h9m-4.5-4.5v9M1383 179.5h9m-4.5-4.5v9M1384 175.5h9m-4.5-4.5v9M1384 176.5h9m-4.5-4.5v9M1384 174.5h9m-4.5-4.5v9M1385 175.5h9m-4.5-4.5v9M1385 178.5h9m-4.5-4.5v9M1385 176.5h9m-4.5-4.5v9M1386 180.5h9m-4.5-4.5v9M1386 174.5h9m-4.5-4.5v9M1386 172.5h9m-4.5-4.5v9M1387 180.5h9m-4.5-4.5v9M1387 179.5h9m-4.5-4.5v9M1388 171.5h9m-4.5-4.5v9M1388 178.5h9m-4.5-4.5v9M1388 176.5h9m-4.5-4.5v9M1389 178.5h9m-4.5-4.5v9M1389 172.5h9m-4.5-4.5v9M1389 176.5h9m-4.5-4.5v9M1390 177.5h9m-4.5-4.5v9M1390 179.5h9m-4.5-4.5v9M1390 172.5h9m-4.5-4.5v9M1391 182.5h9m-4.5-4.5v9M1391 173.5h9m-4.5-4.5v9M1391 180.5h9m-4.5-4.5v9M1392 171.5h9m-4.5-4.5v9M1392 178.5h9m-4.5-4.5v9M1393 175.5h9m-4.5-4.5v9M1393 171.5h9m-4.5-4.5v9M1393 181.5h9m-4.5-4.5v9M1394 173.5h9m-4.5-4.5v9M1394 174.5h9m-4.5-4.5v9M1394 184.5h9m-4.5-4.5v9M1395 177.5h9m-4.5-4.5v9M1395 179.5h9m-4.5-4.5v9M1395 176.5h9m-4.5-4.5v9M1396 176.5h9m-4.5-4.5v9M1396 176.5h9m-4.5-4.5v9M1397 173.5h9m-4.5-4.5v9M1397 176.5h9m-4.5-4.5v9M1397 179.5h9m-4.5-4.5v9M1398 182.5h9m-4.5-4.5v9M1398 177.5h9m-4.5-4.5v9M1398 178.5h9m-4.5-4.5v9M1399 165.5h9m-4.5-4.5v9M1399 173.5h9m-4.5-4.5v9M1399 180.5h9m-4.5-4.5v9M1400 180.5h9m-4.5-4.5v9M1400 179.5h9m-4.5-4.5v9M1400 175.5h9m-4.5-4.5v9M1401 169.5h9m-4.5-4.5v9M1401 174.5h9m-4.5-4.5v9M1402 178.5h9m-4.5-4.5v9M1402 173.5h9m-4.5-4.5v9M1402 166.5h9m-4.5-4.5v9M1403 173.5h9m-4.5-4.5v9M1403 155.5h9m-4.5-4.5v9M1403 165.5h9m-4.5-4.5v9M1404 160.5h9m-4.5-4.5v9M1404 162.5h9m-4.5-4.5v9M1404 175.5h9m-4.5-4.5v9M1405 174.5h9m-4.5-4.5v9M1405 181.5h9m-4.5-4.5v9M1406 170.5h9m-4.5-4.5v9M1406 175.5h9m-4.5-4.5v9M1406 169.5h9m-4.5-4.5v9M1407 174.5h9m-4.5-4.5v9M1407 174.5h9m-4.5-4.5v9M1407 178.5h9m-4.5-4.5v9M1408 178.5h9m-4.5-4.5v9M1408 177.5h9m-4.5-4.5v9M1408 171.5h9m-4.5-4.5v9M1409 181.5h9m-4.5-4.5v9M1409 175.5h9m-4.5-4.5v9M1410 173.5h9m-4.5-4.5v9M1410 180.5h9m-4.5-4.5v9M1410 178.5h9m-4.5-4.5v9M1411 170.5h9m-4.5-4.5v9M1411 178.5h9m-4.5-4.5v9M1411 179.5h9m-4.5-4.5v9M1412 186.5h9m-4.5-4.5v9M1412 184.5h9m-4.5-4.5v9M1412 188.5h9m-4.5-4.5v9M1413 188.5h9m-4.5-4.5v9M1413 183.5h9m-4.5-4.5v9M1413 185.5h9m-4.5-4.5v9M1414 179.5h9m-4.5-4.5v9M1414 173.5h9m-4.5-4.5v9M1415 174.5h9m-4.5-4.5v9M1415 173.5h9m-4.5-4.5v9M1415 177.5h9m-4.5-4.5v9M1416 181.5h9m-4.5-4.5v9M1416 175.5h9m-4.5-4.5v9M1416 172.5h9m-4.5-4.5v9M1417 179.5h9m-4.5-4.5v9M1417 180.5h9m-4.5-4.5v9M1417 180.5h9m-4.5-4.5v9M1418 179.5h9m-4.5-4.5v9M1418 175.5h9m-4.5-4.5v9M1419 171.5h9m-4.5-4.5v9M1419 173.5h9m-4.5-4.5v9M1419 174.5h9m-4.5-4.5v9M1420 176.5h9m-4.5-4.5v9M1420 176.5h9m-4.5-4.5v9M1420 168.5h9m-4.5-4.5v9M1421 168.5h9m-4.5-4.5v9M1421 172.5h9m-4.5-4.5v9M1421 155.5h9m-4.5-4.5v9M1422 168.5h9m-4.5-4.5v9M1422 160.5h9m-4.5-4.5v9M1422 176.5h9m-4.5-4.5v9M1423 178.5h9m-4.5-4.5v9M1423 180.5h9m-4.5-4.5v9M1424 175.5h9m-4.5-4.5v9M1424 173.5h9m-4.5-4.5v9M1424 182.5h9m-4.5-4.5v9M1425 175.5h9m-4.5-4.5v9M1425 177.5h9m-4.5-4.5v9M1425 176.5h9m-4.5-4.5v9M1426 173.5h9m-4.5-4.5v9M1426 168.5h9m-4.5-4.5v9M1426 173.5h9m-4.5-4.5v9M1427 177.5h9m-4.5-4.5v9M1427 162.5h9m-4.5-4.5v9M1428 183.5h9m-4.5-4.5v9M1428 180.5h9m-4.5-4.5v9M1428 180.5h9m-4.5-4.5v9M1429 182.5h9m-4.5-4.5v9M1429 182.5h9m-4.5-4.5v9M1429 170.5h9m-4.5-4.5v9M1430 183.5h9m-4.5-4.5v9M1430 180.5h9m-4.5-4.5v9M1430 174.5h9m-4.5-4.5v9M1431 179.5h9m-4.5-4.5v9M1431 169.5h9m-4.5-4.5v9M1432 162.5h9m-4.5-4.5v9M1432 164.5h9m-4.5-4.5v9M1432 147.5h9m-4.5-4.5v9M1433 167.5h9m-4.5-4.5v9M1433 162.5h9m-4.5-4.5v9M1433 170.5h9m-4.5-4.5v9M1434 170.5h9m-4.5-4.5v9M1434 183.5h9m-4.5-4.5v9M1434 189.5h9m-4.5-4.5v9M1435 193.5h9m-4.5-4.5v9M1435 196.5h9m-4.5-4.5v9M1435 186.5h9m-4.5-4.5v9M1436 197.5h9m-4.5-4.5v9M1436 194.5h9m-4.5-4.5v9M1437 179.5h9m-4.5-4.5v9M1437 180.5h9m-4.5-4.5v9M1437 178.5h9m-4.5-4.5v9M1438 182.5h9m-4.5-4.5v9M1438 175.5h9m-4.5-4.5v9M1438 179.5h9m-4.5-4.5v9M1439 176.5h9m-4.5-4.5v9M1439 177.5h9m-4.5-4.5v9M1439 180.5h9m-4.5-4.5v9M1440 173.5h9m-4.5-4.5v9M1440 178.5h9m-4.5-4.5v9M1441 173.5h9m-4.5-4.5v9M1441 173.5h9m-4.5-4.5v9M1441 172.5h9m-4.5-4.5v9M1442 166.5h9m-4.5-4.5v9M1442 179.5h9m-4.5-4.5v9M1442 173.5h9m-4.5-4.5v9M1443 167.5h9m-4.5-4.5v9M1443 169.5h9m-4.5-4.5v9M1443 186.5h9m-4.5-4.5v9M1444 171.5h9m-4.5-4.5v9M1444 185.5h9m-4.5-4.5v9M1444 170.5h9m-4.5-4.5v9M1445 182.5h9m-4.5-4.5v9M1445 168.5h9m-4.5-4.5v9M1446 174.5h9m-4.5-4.5v9M1446 171.5h9m-4.5-4.5v9M1446 160.5h9m-4.5-4.5v9M1447 158.5h9m-4.5-4.5v9M1447 145.5h9m-4.5-4.5v9M1447 164.5h9m-4.5-4.5v9M1448 168.5h9m-4.5-4.5v9M1448 169.5h9m-4.5-4.5v9M1448 173.5h9m-4.5-4.5v9M1449 176.5h9m-4.5-4.5v9M1449 173.5h9m-4.5-4.5v9M1450 181.5h9m-4.5-4.5v9M1450 178.5h9m-4.5-4.5v9M1450 175.5h9m-4.5-4.5v9M1451 180.5h9m-4.5-4.5v9M1451 170.5h9m-4.5-4.5v9M1451 171.5h9m-4.5-4.5v9M1452 172.5h9m-4.5-4.5v9M1452 181.5h9m-4.5-4.5v9M1452 174.5h9m-4.5-4.5v9M1453 173.5h9m-4.5-4.5v9M1453 171.5h9m-4.5-4.5v9M1453 174.5h9m-4.5-4.5v9M1454 175.5h9m-4.5-4.5v9M1454 178.5h9m-4.5-4.5v9M1455 166.5h9m-4.5-4.5v9M1455 175.5h9m-4.5-4.5v9M1455 171.5h9m-4.5-4.5v9M1456 176.5h9m-4.5-4.5v9M1456 175.5h9m-4.5-4.5v9M1456 175.5h9m-4.5-4.5v9M1457 175.5h9m-4.5-4.5v9M1457 180.5h9m-4.5-4.5v9M1457 178.5h9m-4.5-4.5v9M1458 176.5h9m-4.5-4.5v9M1458 172.5h9m-4.5-4.5v9M1459 174.5h9m-4.5-4.5v9M1459 185.5h9m-4.5-4.5v9M1459 168.5h9m-4.5-4.5v9M1460 178.5h9m-4.5-4.5v9M1460 180.5h9m-4.5-4.5v9M1460 172.5h9m-4.5-4.5v9M1461 167.5h9m-4.5-4.5v9M1461 182.5h9m-4.5-4.5v9M1461 172.5h9m-4.5-4.5v9M1462 183.5h9m-4.5-4.5v9M1462 172.5h9m-4.5-4.5v9M1463 178.5h9m-4.5-4.5v9M1463 182.5h9m-4.5-4.5v9M1463 172.5h9m-4.5-4.5v9M1464 181.5h9m-4.5-4.5v9M1464 173.5h9m-4.5-4.5v9M1464 177.5h9m-4.5-4.5v9M1465 175.5h9m-4.5-4.5v9M1465 166.5h9m-4.5-4.5v9M1465 173.5h9m-4.5-4.5v9M1466 165.5h9m-4.5-4.5v9M1466 182.5h9m-4.5-4.5v9M1466 177.5h9m-4.5-4.5v9M1467 174.5h9m-4.5-4.5v9M1467 189.5h9m-4.5-4.5v9M1468 176.5h9m-4.5-4.5v9M1468 180.5h9m-4.5-4.5v9M1468 178.5h9m-4.5-4.5v9M1469 178.5h9m-4.5-4.5v9M1469 175.5h9m-4.5-4.5v9M1469 175.5h9m-4.5-4.5v9M1470 176.5h9m-4.5-4.5v9M1470 182.5h9m-4.5-4.5v9M1470 172.5h9m-4.5-4.5v9M1471 174.5h9m-4.5-4.5v9M1471 196.5h9m-4.5-4.5v9M1472 201.5h9m-4.5-4.5v9M1472 210.5h9m-4.5-4.5v9M1472 228.5h9m-4.5-4.5v9M1473 210.5h9m-4.5-4.5v9M1473 204.5h9m-4.5-4.5v9M1473 182.5h9m-4.5-4.5v9M1474 180.5h9m-4.5-4.5v9M1474 188.5h9m-4.5-4.5v9M1474 146.5h9m-4.5-4.5v9M1475 140.5h9m-4.5-4.5v9M1475 115.5h9m-4.5-4.5v9M1475 63.5h9m-4.5-4.5v9M1476 60.5h9m-4.5-4.5v9M1476 110.5h9m-4.5-4.5v9M1477 192.5h9m-4.5-4.5v9M1477 220.5h9m-4.5-4.5v9M1477 190.5h9m-4.5-4.5v9M1478 210.5h9m-4.5-4.5v9M1478 182.5h9m-4.5-4.5v9M1478 173.5h9m-4.5-4.5v9M1479 175.5h9m-4.5-4.5v9M1479 178.5h9m-4.5-4.5v9M1479 176.5h9m-4.5-4.5v9M1480 173.5h9m-4.5-4.5v9M1480 173.5h9m-4.5-4.5v9M1481 175.5h9m-4.5-4.5v9M1481 179.5h9m-4.5-4.5v9M1481 174.5h9m-4.5-4.5v9M1482 175.5h9m-4.5-4.5v9M1482 175.5h9m-4.5-4.5v9M1482 183.5h9m-4.5-4.5v9M1483 169.5h9m-4.5-4.5v9M1483 184.5h9m-4.5-4.5v9M1483 174.5h9m-4.5-4.5v9M1484 172.5h9m-4.5-4.5v9M1484 177.5h9m-4.5-4.5v9M1485 179.5h9m-4.5-4.5v9M1485 171.5h9m-4.5-4.5v9M1485 176.5h9m-4.5-4.5v9M1486 177.5h9m-4.5-4.5v9M1486 175.5h9m-4.5-4.5v9M1486 178.5h9m-4.5-4.5v9M1487 173.5h9m-4.5-4.5v9M1487 174.5h9m-4.5-4.5v9M1487 182.5h9m-4.5-4.5v9M1488 173.5h9m-4.5-4.5v9M1488 179.5h9m-4.5-4.5v9M1488 177.5h9m-4.5-4.5v9M1489 176.5h9m-4.5-4.5v9M1489 176.5h9m-4.5-4.5v9M1490 171.5h9m-4.5-4.5v9M1490 180.5h9m-4.5-4.5v9M1490 172.5h9m-4.5-4.5v9M1491 181.5h9m-4.5-4.5v9M1491 177.5h9m-4.5-4.5v9M1491 176.5h9m-4.5-4.5v9M1492 176.5h9m-4.5-4.5v9M1492 168.5h9m-4.5-4.5v9M1492 179.5h9m-4.5-4.5v9M1493 172.5h9m-4.5-4.5v9M1493 180.5h9m-4.5-4.5v9M1494 177.5h9m-4.5-4.5v9M1494 174.5h9m-4.5-4.5v9M1494 170.5h9m-4.5-4.5v9M1495 182.5h9m-4.5-4.5v9M1495 174.5h9m-4.5-4.5v9M1495 170.5h9m-4.5-4.5v9M1496 182.5h9m-4.5-4.5v9M1496 177.5h9m-4.5-4.5v9M1496 176.5h9m-4.5-4.5v9M1497 171.5h9m-4.5-4.5v9M1497 181.5h9m-4.5-4.5v9M1497 180.5h9m-4.5-4.5v9M1498 168.5h9m-4.5-4.5v9M1498 175.5h9m-4.5-4.5v9M1499 172.5h9m-4.5-4.5v9M1499 170.5h9m-4.5-4.5v9M1499 181.5h9m-4.5-4.5v9M1500 173.5h9m-4.5-4.5v9M1500 178.5h9m-4.5-4.5v9M1500 178.5h9m-4.5-4.5v9M1501 173.5h9m-4.5-4.5v9M1501 178.5h9m-4.5-4.5v9M1501 170.5h9m-4.5-4.5v9M1502 180.5h9m-4.5-4.5v9M1502 175.5h9m-4.5-4.5v9M1503 182.5h9m-4.5-4.5v9M1503 171.5h9m-4.5-4.5v9M1503 181.5h9m-4.5-4.5v9M1504 175.5h9m-4.5-4.5v9M1504 173.5h9m-4.5-4.5v9M1504 175.5h9m-4.5-4.5v9M1505 180.5h9m-4.5-4.5v9M1505 171.5h9m-4.5-4.5v9M1505 179.5h9m-4.5-4.5v9M1506 180.5h9m-4.5-4.5v9M1506 170.5h9m-4.5-4.5v9M1507 181.5h9m-4.5-4.5v9M1507 171.5h9m-4.5-4.5v9M1507 174.5h9m-4.5-4.5v9M1508 179.5h9m-4.5-4.5v9M1508 174.5h9m-4.5-4.5v9M1508 183.5h9m-4.5-4.5v9M1509 178.5h9m-4.5-4.5v9M1509 175.5h9m-4.5-4.5v9M1509 172.5h9m-4.5-4.5v9M1510 175.5h9m-4.5-4.5v9M1510 172.5h9m-4.5-4.5v9M1510 174.5h9m-4.5-4.5v9M1511 181.5h9m-4.5-4.5v9M1511 181.5h9m-4.5-4.5v9M1512 174.5h9m-4.5-4.5v9M1512 177.5h9m-4.5-4.5v9M1512 168.5h9m-4.5-4.5v9M1513 177.5h9m-4.5-4.5v9M1513 176.5h9m-4.5-4.5v9M1513 174.5h9m-4.5-4.5v9M1514 169.5h9m-4.5-4.5v9M1514 184.5h9m-4.5-4.5v9M1514 177.5h9m-4.5-4.5v9M1515 177.5h9m-4.5-4.5v9M1515 172.5h9m-4.5-4.5v9M1516 177.5h9m-4.5-4.5v9M1516 174.5h9m-4.5-4.5v9M1516 178.5h9m-4.5-4.5v9M1517 177.5h9m-4.5-4.5v9M1517 182.5h9m-4.5-4.5v9M1517 173.5h9m-4.5-4.5v9M1518 173.5h9m-4.5-4.5v9M1518 186.5h9m-4.5-4.5v9M1518 175.5h9m-4.5-4.5v9M1519 180.5h9m-4.5-4.5v9M1519 177.5h9m-4.5-4.5v9M1519 169.5h9m-4.5-4.5v9M1520 176.5h9m-4.5-4.5v9M1520 181.5h9m-4.5-4.5v9M1521 172.5h9m-4.5-4.5v9M1521 176.5h9m-4.5-4.5v9M1521 170.5h9m-4.5-4.5v9M1522 176.5h9m-4.5-4.5v9M1522 177.5h9m-4.5-4.5v9M1522 180.5h9m-4.5-4.5v9M1523 174.5h9m-4.5-4.5v9M1523 179.5h9m-4.5-4.5v9M1523 181.5h9m-4.5-4.5v9M1524 170.5h9m-4.5-4.5v9M1524 176.5h9m-4.5-4.5v9M1525 174.5h9m-4.5-4.5v9M1525 173.5h9m-4.5-4.5v9M1525 183.5h9m-4.5-4.5v9M1526 179.5h9m-4.5-4.5v9M1526 177.5h9m-4.5-4.5v9M1526 174.5h9m-4.5-4.5v9M1527 178.5h9m-4.5-4.5v9M1527 177.5h9m-4.5-4.5v9M1527 178.5h9m-4.5-4.5v9M1528 183.5h9m-4.5-4.5v9M1528 179.5h9m-4.5-4.5v9M1528 178.5h9m-4.5-4.5v9M1529 176.5h9m-4.5-4.5v9M1529 178.5h9m-4.5-4.5v9M1530 175.5h9m-4.5-4.5v9M1530 173.5h9m-4.5-4.5v9M1530 180.5h9m-4.5-4.5v9M1531 176.5h9m-4.5-4.5v9M1531 181.5h9m-4.5-4.5v9M1531 167.5h9m-4.5-4.5v9M1532 182.5h9m-4.5-4.5v9M1532 180.5h9m-4.5-4.5v9M1532 173.5h9m-4.5-4.5v9M1533 173.5h9m-4.5-4.5v9M1533 179.5h9m-4.5-4.5v9M1534 169.5h9m-4.5-4.5v9M1534 182.5h9m-4.5-4.5v9M1534 178.5h9m-4.5-4.5v9M1535 166.5h9m-4.5-4.5v9M1535 173.5h9m-4.5-4.5v9M1535 181.5h9m-4.5-4.5v9M1536 176.5h9m-4.5-4.5v9M1536 174.5h9m-4.5-4.5v9M1536 177.5h9m-4.5-4.5v9M1537 169.5h9m-4.5-4.5v9M1537 182.5h9m-4.5-4.5v9M1538 174.5h9m-4.5-4.5v9M1538 174.5h9m-4.5-4.5v9M1538 182.5h9m-4.5-4.5v9M1539 175.5h9m-4.5-4.5v9M1539 174.5h9m-4.5-4.5v9M1539 172.5h9m-4.5-4.5v9M1540 177.5h9m-4.5-4.5v9M1540 173.5h9m-4.5-4.5v9M1540 178.5h9m-4.5-4.5v9M1541 172.5h9m-4.5-4.5v9M1541 176.5h9m-4.5-4.5v9M1541 174.5h9m-4.5-4.5v9M1542 180.5h9m-4.5-4.5v9M1542 174.5h9m-4.5-4.5v9M1543 176.5h9m-4.5-4.5v9M1543 176.5h9m-4.5-4.5v9M1543 171.5h9m-4.5-4.5v9M1544 180.5h9m-4.5-4.5v9M1544 175.5h9m-4.5-4.5v9M1544 174.5h9m-4.5-4.5v9M1545 175.5h9m-4.5-4.5v9M1545 180.5h9m-4.5-4.5v9M1545 179.5h9m-4.5-4.5v9M1546 169.5h9m-4.5-4.5v9M1546 182.5h9m-4.5-4.5v9M1547 179.5h9m-4.5-4.5v9M1547 176.5h9m-4.5-4.5v9M1547 177.5h9m-4.5-4.5v9M1548 177.5h9m-4.5-4.5v9M1548 177.5h9m-4.5-4.5v9M1548 184.5h9m-4.5-4.5v9M1549 176.5h9m-4.5-4.5v9M1549 176.5h9m-4.5-4.5v9M1549 174.5h9m-4.5-4.5v9M1550 178.5h9m-4.5-4.5v9M1550 174.5h9m-4.5-4.5v9M1550 176.5h9m-4.5-4.5v9M1551 181.5h9m-4.5-4.5v9M1551 178.5h9m-4.5-4.5v9M1552 181.5h9m-4.5-4.5v9M1552 175.5h9m-4.5-4.5v9M1552 176.5h9m-4.5-4.5v9M1553 175.5h9m-4.5-4.5v9M1553 176.5h9m-4.5-4.5v9M1553 182.5h9m-4.5-4.5v9M1554 171.5h9m-4.5-4.5v9M1554 178.5h9m-4.5-4.5v9M1554 170.5h9m-4.5-4.5v9M1555 184.5h9m-4.5-4.5v9M1555 177.5h9m-4.5-4.5v9M1556 173.5h9m-4.5-4.5v9M1556 175.5h9m-4.5-4.5v9M1556 177.5h9m-4.5-4.5v9M1557 172.5h9m-4.5-4.5v9M1557 174.5h9m-4.5-4.5v9M1557 178.5h9m-4.5-4.5v9M1558 179.5h9m-4.5-4.5v9M1558 173.5h9m-4.5-4.5v9M1558 182.5h9m-4.5-4.5v9M1559 173.5h9m-4.5-4.5v9M1559 179.5h9m-4.5-4.5v9M1560 176.5h9m-4.5-4.5v9M1560 183.5h9m-4.5-4.5v9M1560 162.5h9m-4.5-4.5v9M1561 180.5h9m-4.5-4.5v9M1561 177.5h9m-4.5-4.5v9M1561 174.5h9m-4.5-4.5v9M1562 179.5h9m-4.5-4.5v9M1562 178.5h9m-4.5-4.5v9M1562 179.5h9m-4.5-4.5v9M1563 174.5h9m-4.5-4.5v9M1563 176.5h9m-4.5-4.5v9M1563 175.5h9m-4.5-4.5v9M1564 180.5h9m-4.5-4.5v9M1564 174.5h9m-4.5-4.5v9M1565 174.5h9m-4.5-4.5v9M1565 178.5h9m-4.5-4.5v9M1565 172.5h9m-4.5-4.5v9M1566 176.5h9m-4.5-4.5v9M1566 174.5h9m-4.5-4.5v9M1566 168.5h9m-4.5-4.5v9M1567 180.5h9m-4.5-4.5v9M1567 174.5h9m-4.5-4.5v9M1567 180.5h9m-4.5-4.5v9M1568 166.5h9m-4.5-4.5v9M1568 184.5h9m-4.5-4.5v9M1569 176.5h9m-4.5-4.5v9M1569 181.5h9m-4.5-4.5v9M1569 171.5h9m-4.5-4.5v9M1570 177.5h9m-4.5-4.5v9M1570 177.5h9m-4.5-4.5v9M1570 181.5h9m-4.5-4.5v9M1571 168.5h9m-4.5-4.5v9M1571 179.5h9m-4.5-4.5v9M1571 177.5h9m-4.5-4.5v9M1572 173.5h9m-4.5-4.5v9M1572 179.5h9m-4.5-4.5v9M1572 178.5h9m-4.5-4.5v9M1573 174.5h9m-4.5-4.5v9M1573 177.5h9m-4.5-4.5v9M1574 181.5h9m-4.5-4.5v9M1574 175.5h9m-4.5-4.5v9M1574 175.5h9m-4.5-4.5v9M1575 180.5h9m-4.5-4.5v9M1575 177.5h9m-4.5-4.5v9M1575 176.5h9m-4.5-4.5v9M1576 180.5h9m-4.5-4.5v9M1576 165.5h9m-4.5-4.5v9M1576 182.5h9m-4.5-4.5v9M1577 184.5h9m-4.5-4.5v9M1577 183.5h9m-4.5-4.5v9M1578 100.5h9m-4.5-4.5v9M1578 161.5h9m-4.5-4.5v9M1578 115.5h9m-4.5-4.5v9M1579 145.5h9m-4.5-4.5v9M1579 151.5h9m-4.5-4.5v9M1579 169.5h9m-4.5-4.5v9M1580 181.5h9m-4.5-4.5v9M1580 189.5h9m-4.5-4.5v9M1580 193.5h9m-4.5-4.5v9M1581 202.5h9m-4.5-4.5v9M1581 190.5h9m-4.5-4.5v9M1581 183.5h9m-4.5-4.5v9M1582 182.5h9m-4.5-4.5v9M1582 177.5h9m-4.5-4.5v9M1583 173.5h9m-4.5-4.5v9M1583 180.5h9m-4.5-4.5v9M1583 177.5h9m-4.5-4.5v9M1584 173.5h9m-4.5-4.5v9M1584 169.5h9m-4.5-4.5v9M1584 177.5h9m-4.5-4.5v9M1585 173.5h9m-4.5-4.5v9M1585 186.5h9m-4.5-4.5v9M1585 176.5h9m-4.5-4.5v9M1586 176.5h9m-4.5-4.5v9M1586 173.5h9m-4.5-4.5v9M1587 168.5h9m-4.5-4.5v9M1587 174.5h9m-4.5-4.5v9M1587 176.5h9m-4.5-4.5v9M1588 174.5h9m-4.5-4.5v9M1588 177.5h9m-4.5-4.5v9M1588 174.5h9m-4.5-4.5v9M1589 179.5h9m-4.5-4.5v9M1589 170.5h9m-4.5-4.5v9M1589 178.5h9m-4.5-4.5v9M1590 173.5h9m-4.5-4.5v9M1590 179.5h9m-4.5-4.5v9M1591 176.5h9m-4.5-4.5v9M1591 175.5h9m-4.5-4.5v9M1591 182.5h9m-4.5-4.5v9M1592 173.5h9m-4.5-4.5v9M1592 180.5h9m-4.5-4.5v9M1592 169.5h9m-4.5-4.5v9M1593 182.5h9m-4.5-4.5v9M1593 171.5h9m-4.5-4.5v9M1593 178.5h9m-4.5-4.5v9M1594 177.5h9m-4.5-4.5v9M1594 175.5h9m-4.5-4.5v9M1594 175.5h9m-4.5-4.5v9M1595 172.5h9m-4.5-4.5v9M1595 169.5h9m-4.5-4.5v9M1596 179.5h9m-4.5-4.5v9M1596 171.5h9m-4.5-4.5v9M1596 174.5h9m-4.5-4.5v9M1597 173.5h9m-4.5-4.5v9M1597 177.5h9m-4.5-4.5v9M1597 173.5h9m-4.5-4.5v9M1598 176.5h9m-4.5-4.5v9M1598 178.5h9m-4.5-4.5v9M1598 176.5h9m-4.5-4.5v9M1599 182.5h9m-4.5-4.5v9M1599 184.5h9m-4.5-4.5v9M1600 175.5h9m-4.5-4.5v9M1600 178.5h9m-4.5-4.5v9M1600 177.5h9m-4.5-4.5v9M1601 174.5h9m-4.5-4.5v9M1601 173.5h9m-4.5-4.5v9M1601 183.5h9m-4.5-4.5v9M1602 175.5h9m-4.5-4.5v9M1602 177.5h9m-4.5-4.5v9M1602 173.5h9m-4.5-4.5v9M1603 174.5h9m-4.5-4.5v9M1603 181.5h9m-4.5-4.5v9M1603 182.5h9m-4.5-4.5v9M1604 175.5h9m-4.5-4.5v9M1604 175.5h9m-4.5-4.5v9M1605 174.5h9m-4.5-4.5v9M1605 180.5h9m-4.5-4.5v9M1605 181.5h9m-4.5-4.5v9M1606 190.5h9m-4.5-4.5v9M1606 191.5h9m-4.5-4.5v9M1606 198.5h9m-4.5-4.5v9M1607 208.5h9m-4.5-4.5v9M1607 197.5h9m-4.5-4.5v9M1607 193.5h9m-4.5-4.5v9M1608 170.5h9m-4.5-4.5v9M1608 130.5h9m-4.5-4.5v9M1609 126.5h9m-4.5-4.5v9M1609 124.5h9m-4.5-4.5v9M1609 127.5h9m-4.5-4.5v9M1610 155.5h9m-4.5-4.5v9M1610 164.5h9m-4.5-4.5v9M1610 185.5h9m-4.5-4.5v9M1611 199.5h9m-4.5-4.5v9M1611 199.5h9m-4.5-4.5v9M1611 211.5h9m-4.5-4.5v9M1612 192.5h9m-4.5-4.5v9M1612 195.5h9m-4.5-4.5v9M1613 190.5h9m-4.5-4.5v9M1613 171.5h9m-4.5-4.5v9M1613 167.5h9m-4.5-4.5v9M1614 180.5h9m-4.5-4.5v9M1614 180.5h9m-4.5-4.5v9M1614 177.5h9m-4.5-4.5v9M1615 171.5h9m-4.5-4.5v9M1615 170.5h9m-4.5-4.5v9M1615 178.5h9m-4.5-4.5v9M1616 177.5h9m-4.5-4.5v9M1616 178.5h9m-4.5-4.5v9M1616 174.5h9m-4.5-4.5v9M1617 180.5h9m-4.5-4.5v9M1617 172.5h9m-4.5-4.5v9M1618 176.5h9m-4.5-4.5v9M1618 180.5h9m-4.5-4.5v9M1618 174.5h9m-4.5-4.5v9M1619 171.5h9m-4.5-4.5v9M1619 178.5h9m-4.5-4.5v9M1619 179.5h9m-4.5-4.5v9M1620 177.5h9m-4.5-4.5v9M1620 176.5h9m-4.5-4.5v9M1620 174.5h9m-4.5-4.5v9M1621 176.5h9m-4.5-4.5v9M1621 175.5h9m-4.5-4.5v9M1622 182.5h9m-4.5-4.5v9M1622 175.5h9m-4.5-4.5v9M1622 173.5h9m-4.5-4.5v9M1623 181.5h9m-4.5-4.5v9M1623 176.5h9m-4.5-4.5v9M1623 175.5h9m-4.5-4.5v9M1624 178.5h9m-4.5-4.5v9M1624 176.5h9m-4.5-4.5v9M1624 169.5h9m-4.5-4.5v9M1625 179.5h9m-4.5-4.5v9M1625 177.5h9m-4.5-4.5v9M1625 174.5h9m-4.5-4.5v9M1626 162.5h9m-4.5-4.5v9M1626 152.5h9m-4.5-4.5v9M1627 135.5h9m-4.5-4.5v9M1627 135.5h9m-4.5-4.5v9M1627 135.5h9m-4.5-4.5v9M1628 149.5h9m-4.5-4.5v9M1628 166.5h9m-4.5-4.5v9M1628 197.5h9m-4.5-4.5v9M1629 214.5h9m-4.5-4.5v9M1629 230.5h9m-4.5-4.5v9M1629 205.5h9m-4.5-4.5v9M1630 220.5h9m-4.5-4.5v9M1630 199.5h9m-4.5-4.5v9M1631 160.5h9m-4.5-4.5v9M1631 161.5h9m-4.5-4.5v9M1631 157.5h9m-4.5-4.5v9M1632 180.5h9m-4.5-4.5v9M1632 179.5h9m-4.5-4.5v9M1632 180.5h9m-4.5-4.5v9M1633 176.5h9m-4.5-4.5v9M1633 176.5h9m-4.5-4.5v9M1633 171.5h9m-4.5-4.5v9M1634 179.5h9m-4.5-4.5v9M1634 157.5h9m-4.5-4.5v9M1634 193.5h9m-4.5-4.5v9M1635 165.5h9m-4.5-4.5v9M1635 181.5h9m-4.5-4.5v9M1636 172.5h9m-4.5-4.5v9M1636 176.5h9m-4.5-4.5v9M1636 175.5h9m-4.5-4.5v9M1637 197.5h9m-4.5-4.5v9M1637 209.5h9m-4.5-4.5v9M1637 219.5h9m-4.5-4.5v9M1638 239.5h9m-4.5-4.5v9M1638 225.5h9m-4.5-4.5v9M1638 197.5h9m-4.5-4.5v9M1639 190.5h9m-4.5-4.5v9M1639 189.5h9m-4.5-4.5v9M1640 169.5h9m-4.5-4.5v9M1640 158.5h9m-4.5-4.5v9M1640 148.5h9m-4.5-4.5v9M1641 260.5h9m-4.5-4.5v9M1641 150.5h9m-4.5-4.5v9M1641 153.5h9m-4.5-4.5v9M1642 171.5h9m-4.5-4.5v9M1642 175.5h9m-4.5-4.5v9M1642 176.5h9m-4.5-4.5v9M1643 172.5h9m-4.5-4.5v9M1643 184.5h9m-4.5-4.5v9M1644 182.5h9m-4.5-4.5v9M1644 178.5h9m-4.5-4.5v9M1644 193.5h9m-4.5-4.5v9M1645 191.5h9m-4.5-4.5v9M1645 185.5h9m-4.5-4.5v9M1645 180.5h9m-4.5-4.5v9M1646 178.5h9m-4.5-4.5v9M1646 180.5h9m-4.5-4.5v9M1646 177.5h9m-4.5-4.5v9M1647 178.5h9m-4.5-4.5v9M1647 173.5h9m-4.5-4.5v9M1647 178.5h9m-4.5-4.5v9M1648 177.5h9m-4.5-4.5v9M1648 175.5h9m-4.5-4.5v9M1649 176.5h9m-4.5-4.5v9M1649 175.5h9m-4.5-4.5v9M1649 174.5h9m-4.5-4.5v9M1650 179.5h9m-4.5-4.5v9M1650 179.5h9m-4.5-4.5v9M1650 174.5h9m-4.5-4.5v9M1651 175.5h9m-4.5-4.5v9M1651 179.5h9m-4.5-4.5v9M1651 175.5h9m-4.5-4.5v9M1652 170.5h9m-4.5-4.5v9M1652 175.5h9m-4.5-4.5v9M1653 169.5h9m-4.5-4.5v9M1653 165.5h9m-4.5-4.5v9M1653 176.5h9m-4.5-4.5v9M1654 175.5h9m-4.5-4.5v9M1654 177.5h9m-4.5-4.5v9M1654 181.5h9m-4.5-4.5v9M1655 176.5h9m-4.5-4.5v9M1655 172.5h9m-4.5-4.5v9M1655 178.5h9m-4.5-4.5v9M1656 183.5h9m-4.5-4.5v9M1656 175.5h9m-4.5-4.5v9M1656 177.5h9m-4.5-4.5v9M1657 177.5h9m-4.5-4.5v9M1657 166.5h9m-4.5-4.5v9M1658 163.5h9m-4.5-4.5v9M1658 185.5h9m-4.5-4.5v9M1658 172.5h9m-4.5-4.5v9M1659 172.5h9m-4.5-4.5v9M1659 172.5h9m-4.5-4.5v9M1659 180.5h9m-4.5-4.5v9M1660 170.5h9m-4.5-4.5v9M1660 176.5h9m-4.5-4.5v9M1660 182.5h9m-4.5-4.5v9M1661 172.5h9m-4.5-4.5v9M1661 175.5h9m-4.5-4.5v9M1662 180.5h9m-4.5-4.5v9M1662 176.5h9m-4.5-4.5v9M1662 178.5h9m-4.5-4.5v9M1663 175.5h9m-4.5-4.5v9M1663 176.5h9m-4.5-4.5v9M1663 170.5h9m-4.5-4.5v9M1664 175.5h9m-4.5-4.5v9M1664 174.5h9m-4.5-4.5v9M1664 174.5h9m-4.5-4.5v9M1665 177.5h9m-4.5-4.5v9M1665 129.5h9m-4.5-4.5v9M1666 175.5h9m-4.5-4.5v9M1666 172.5h9m-4.5-4.5v9M1666 173.5h9m-4.5-4.5v9M1667 181.5h9m-4.5-4.5v9M1667 167.5h9m-4.5-4.5v9M1667 176.5h9m-4.5-4.5v9M1668 173.5h9m-4.5-4.5v9M1668 177.5h9m-4.5-4.5v9M1668 183.5h9m-4.5-4.5v9M1669 175.5h9m-4.5-4.5v9M1669 176.5h9m-4.5-4.5v9M1669 173.5h9m-4.5-4.5v9M1670 174.5h9m-4.5-4.5v9M1670 178.5h9m-4.5-4.5v9M1671 171.5h9m-4.5-4.5v9M1671 179.5h9m-4.5-4.5v9M1671 173.5h9m-4.5-4.5v9M1672 173.5h9m-4.5-4.5v9M1672 174.5h9m-4.5-4.5v9M1672 178.5h9m-4.5-4.5v9M1673 173.5h9m-4.5-4.5v9M1673 174.5h9m-4.5-4.5v9M1673 182.5h9m-4.5-4.5v9M1674 171.5h9m-4.5-4.5v9M1674 179.5h9m-4.5-4.5v9M1675 176.5h9m-4.5-4.5v9M1675 173.5h9m-4.5-4.5v9M1675 176.5h9m-4.5-4.5v9M1676 176.5h9m-4.5-4.5v9M1676 174.5h9m-4.5-4.5v9M1676 184.5h9m-4.5-4.5v9M1677 177.5h9m-4.5-4.5v9M1677 180.5h9m-4.5-4.5v9M1677 175.5h9m-4.5-4.5v9M1678 185.5h9m-4.5-4.5v9M1678 185.5h9m-4.5-4.5v9M1678 176.5h9m-4.5-4.5v9M1679 176.5h9m-4.5-4.5v9M1679 175.5h9m-4.5-4.5v9M1680 172.5h9m-4.5-4.5v9M1680 178.5h9m-4.5-4.5v9M1680 187.5h9m-4.5-4.5v9M1681 177.5h9m-4.5-4.5v9M1681 171.5h9m-4.5-4.5v9M1681 172.5h9m-4.5-4.5v9M1682 182.5h9m-4.5-4.5v9M1682 174.5h9m-4.5-4.5v9M1682 176.5h9m-4.5-4.5v9M1683 170.5h9m-4.5-4.5v9M1683 176.5h9m-4.5-4.5v9M1684 172.5h9m-4.5-4.5v9M1684 180.5h9m-4.5-4.5v9M1684 180.5h9m-4.5-4.5v9M1685 171.5h9m-4.5-4.5v9M1685 178.5h9m-4.5-4.5v9M1685 171.5h9m-4.5-4.5v9M1686 174.5h9m-4.5-4.5v9M1686 174.5h9m-4.5-4.5v9M1686 178.5h9m-4.5-4.5v9M1687 179.5h9m-4.5-4.5v9M1687 175.5h9m-4.5-4.5v9M1687 172.5h9m-4.5-4.5v9M1688 179.5h9m-4.5-4.5v9M1688 173.5h9m-4.5-4.5v9M1689 172.5h9m-4.5-4.5v9M1689 180.5h9m-4.5-4.5v9M1689 177.5h9m-4.5-4.5v9M1690 170.5h9m-4.5-4.5v9M1690 185.5h9m-4.5-4.5v9M1690 172.5h9m-4.5-4.5v9M1691 178.5h9m-4.5-4.5v9M1691 175.5h9m-4.5-4.5v9M1691 177.5h9m-4.5-4.5v9M1692 174.5h9m-4.5-4.5v9M1692 181.5h9m-4.5-4.5v9M1693 168.5h9m-4.5-4.5v9M1693 173.5h9m-4.5-4.5v9M1693 195.5h9m-4.5-4.5v9M1694 173.5h9m-4.5-4.5v9M1694 180.5h9m-4.5-4.5v9M1694 176.5h9m-4.5-4.5v9M1695 176.5h9m-4.5-4.5v9M1695 178.5h9m-4.5-4.5v9M1695 171.5h9m-4.5-4.5v9M1696 185.5h9m-4.5-4.5v9M1696 184.5h9m-4.5-4.5v9M1697 189.5h9m-4.5-4.5v9M1697 196.5h9m-4.5-4.5v9M1697 196.5h9m-4.5-4.5v9M1698 173.5h9m-4.5-4.5v9M1698 151.5h9m-4.5-4.5v9M1698 142.5h9m-4.5-4.5v9M1699 117.5h9m-4.5-4.5v9M1699 128.5h9m-4.5-4.5v9M1699 151.5h9m-4.5-4.5v9M1700 157.5h9m-4.5-4.5v9M1700 183.5h9m-4.5-4.5v9M1700 203.5h9m-4.5-4.5v9M1701 192.5h9m-4.5-4.5v9M1701 212.5h9m-4.5-4.5v9M1702 201.5h9m-4.5-4.5v9M1702 192.5h9m-4.5-4.5v9M1702 176.5h9m-4.5-4.5v9M1703 176.5h9m-4.5-4.5v9M1703 178.5h9m-4.5-4.5v9M1703 173.5h9m-4.5-4.5v9M1704 173.5h9m-4.5-4.5v9M1704 173.5h9m-4.5-4.5v9M1704 175.5h9m-4.5-4.5v9M1705 179.5h9m-4.5-4.5v9M1705 175.5h9m-4.5-4.5v9M1706 179.5h9m-4.5-4.5v9M1706 178.5h9m-4.5-4.5v9M1706 168.5h9m-4.5-4.5v9M1707 181.5h9m-4.5-4.5v9M1707 178.5h9m-4.5-4.5v9M1707 176.5h9m-4.5-4.5v9M1708 177.5h9m-4.5-4.5v9M1708 186.5h9m-4.5-4.5v9M1708 178.5h9m-4.5-4.5v9M1709 174.5h9m-4.5-4.5v9M1709 176.5h9m-4.5-4.5v9M1709 173.5h9m-4.5-4.5v9M1710 170.5h9m-4.5-4.5v9M1710 179.5h9m-4.5-4.5v9M1711 179.5h9m-4.5-4.5v9M1711 175.5h9m-4.5-4.5v9M1711 168.5h9m-4.5-4.5v9M1712 170.5h9m-4.5-4.5v9M1712 184.5h9m-4.5-4.5v9M1712 172.5h9m-4.5-4.5v9M1713 171.5h9m-4.5-4.5v9M1713 169.5h9m-4.5-4.5v9M1713 172.5h9m-4.5-4.5v9M1714 176.5h9m-4.5-4.5v9M1714 179.5h9m-4.5-4.5v9M1715 176.5h9m-4.5-4.5v9M1715 183.5h9m-4.5-4.5v9M1715 170.5h9m-4.5-4.5v9M1716 172.5h9m-4.5-4.5v9M1716 169.5h9m-4.5-4.5v9M1716 156.5h9m-4.5-4.5v9M1717 162.5h9m-4.5-4.5v9M1717 145.5h9m-4.5-4.5v9M1717 148.5h9m-4.5-4.5v9M1718 156.5h9m-4.5-4.5v9M1718 170.5h9m-4.5-4.5v9M1719 181.5h9m-4.5-4.5v9M1719 174.5h9m-4.5-4.5v9M1719 175.5h9m-4.5-4.5v9M1720 177.5h9m-4.5-4.5v9M1720 173.5h9m-4.5-4.5v9M1720 177.5h9m-4.5-4.5v9M1721 174.5h9m-4.5-4.5v9M1721 177.5h9m-4.5-4.5v9M1721 177.5h9m-4.5-4.5v9M1722 176.5h9m-4.5-4.5v9M1722 170.5h9m-4.5-4.5v9M1722 179.5h9m-4.5-4.5v9M1723 185.5h9m-4.5-4.5v9M1723 173.5h9m-4.5-4.5v9M1724 174.5h9m-4.5-4.5v9M1724 180.5h9m-4.5-4.5v9M1724 181.5h9m-4.5-4.5v9M1725 178.5h9m-4.5-4.5v9M1725 170.5h9m-4.5-4.5v9M1725 183.5h9m-4.5-4.5v9M1726 173.5h9m-4.5-4.5v9M1726 174.5h9m-4.5-4.5v9M1726 176.5h9m-4.5-4.5v9M1727 168.5h9m-4.5-4.5v9M1727 170.5h9m-4.5-4.5v9M1728 174.5h9m-4.5-4.5v9M1728 178.5h9m-4.5-4.5v9M1728 177.5h9m-4.5-4.5v9M1729 178.5h9m-4.5-4.5v9M1729 175.5h9m-4.5-4.5v9M1729 183.5h9m-4.5-4.5v9M1730 177.5h9m-4.5-4.5v9M1730 181.5h9m-4.5-4.5v9M1730 166.5h9m-4.5-4.5v9M1731 183.5h9m-4.5-4.5v9M1731 189.5h9m-4.5-4.5v9M1731 190.5h9m-4.5-4.5v9M1732 200.5h9m-4.5-4.5v9M1732 201.5h9m-4.5-4.5v9M1733 197.5h9m-4.5-4.5v9M1733 193.5h9m-4.5-4.5v9M1733 181.5h9m-4.5-4.5v9M1734 177.5h9m-4.5-4.5v9M1734 176.5h9m-4.5-4.5v9M1734 182.5h9m-4.5-4.5v9M1735 169.5h9m-4.5-4.5v9M1735 171.5h9m-4.5-4.5v9M1735 173.5h9m-4.5-4.5v9M1736 175.5h9m-4.5-4.5v9M1736 171.5h9m-4.5-4.5v9M1737 179.5h9m-4.5-4.5v9M1737 181.5h9m-4.5-4.5v9M1737 175.5h9m-4.5-4.5v9M1738 178.5h9m-4.5-4.5v9M1738 178.5h9m-4.5-4.5v9M1738 187.5h9m-4.5-4.5v9M1739 172.5h9m-4.5-4.5v9M1739 180.5h9m-4.5-4.5v9M1739 185.5h9m-4.5-4.5v9M1740 172.5h9m-4.5-4.5v9M1740 184.5h9m-4.5-4.5v9M1740 170.5h9m-4.5-4.5v9M1741 181.5h9m-4.5-4.5v9M1741 171.5h9m-4.5-4.5v9M1742 179.5h9m-4.5-4.5v9M1742 181.5h9m-4.5-4.5v9" stroke="#f00" stroke-width="1.3" fill="none"/>
<polyline points="1025.7,173.4 1026.1,176.6 1026.4,184.3 1026.8,171.9 1027.1,173.9 1027.5,180.4 1027.9,172.1 1028.2,181.9 1028.6,175.9 1028.9,174.7 1029.3,186 1029.7,171.8 1030,177 1030.4,173.3 1030.7,179.3 1031.1,176.2 1031.5,176.5 1031.8,176.4 1032.2,167.1 1032.6,170.6 1032.9,182.9 1033.3,176.4 1033.6,174.8 1034,179.8 1034.4,172.1 1034.7,179.4 1035.1,178.4 1035.4,174 1035.8,170 1036.2,179.1 1036.5,172.2 1036.9,179.9 1037.2,176 1037.6,176.2 1038,173.8 1038.3,175.4 1038.7,179.9 1039,177.8 1039.4,176.4 1039.8,174.3 1040.1,167.6 1040.5,179.2 1040.8,169.8 1041.2,170.6 1041.6,180.3 1041.9,179.3 1042.3,171.3 1042.6,183 1043,169.5 1043.4,178.3 1043.7,173.4 1044.1,175.8 1044.4,183.2 1044.8,170.7 1045.2,176.1 1045.5,185.6 1045.9,180.5 1046.3,173.6 1046.6,176.3 1047,176.8 1047.3,176 1047.7,180.3 1048.1,177.2 1048.4,171.1 1048.8,181.5 1049.1,183.8 1049.5,168.6 1049.9,175.9 1050.2,170.9 1050.6,175.2 1050.9,173.2 1051.3,176.4 1051.7,181.8 1052,178.5 1052.4,171.8 1052.7,176.7 1053.1,173.6 1053.5,171.4 1053.8,178.3 1054.2,168.4 1054.5,180.6 1054.9,175.9 1055.3,173.6 1055.6,174.1 1056,178.2 1056.3,172.6 1056.7,183.5 1057.1,173.1 1057.4,173 1057.8,176.8 1058.1,176.4 1058.5,175.6 1058.9,179.8 1059.2,167.9 1059.6,177.6 1060,177.2 1060.3,175.9 1060.7,174.7 1061,178.7 1061.4,180.4 1061.8,171 1062.1,179.6 1062.5,177.2 1062.8,182.7 1063.2,172.4 1063.6,173.5 1063.9,174.9 1064.3,175.4 1064.6,183.6 1065,167.8 1065.4,175.8 1065.7,178.5 1066.1,172.7 1066.4,176.1 1066.8,183.6 1067.2,178.7 1067.5,175.2 1067.9,177.6 1068.2,173.8 1068.6,177.7 1069,174.6 1069.3,176.7 1069.7,173.8 1070,173.7 1070.4,176.3 1070.8,172.2 1071.1,177.1 1071.5,165.9 1071.9,174.9 1072.2,172.7 1072.6,182.8 1072.9,176 1073.3,175.3 1073.7,174.1 1074,175.1 1074.4,174.6 1074.7,180.6 1075.1,167.2 1075.5,169.3 1075.8,158.5 1076.2,153.1 1076.5,144.7 1076.9,152.9 1077.3,154.2 1077.6,171.7 1078,173.6 1078.3,172 1078.7,182.4 1079.1,165.6 1079.4,165.3 1079.8,152.4 1080.1,155.1 1080.5,154.8 1080.9,162.2 1081.2,170.7 1081.6,204.4 1081.9,212.1 1082.3,247.3 1082.7,266.1 1083,237.7 1083.4,223.6 1083.7,199.8 1084.1,179.2 1084.5,164.5 1084.8,150.4 1085.2,135.1 1085.6,128.5 1085.9,138.5 1086.3,158.9 1086.6,155.3 1087,161.9 1087.4,155.9 1087.7,160.4 1088.1,160.4 1088.4,169.9 1088.8,169.3 1089.2,171.8 1089.5,183.6 1089.9,173.3 1090.2,179.4 1090.6,172 1091,193.8 1091.3,210.3 1091.7,218.3 1092,232.4 1092.4,219.8 1092.8,206.8 1093.1,164 1093.5,128.2 1093.8,107.2 1094.2,79.2 1094.6,105.1 1094.9,124.7 1095.3,147.9 1095.6,192.1 1096,220.8 1096.4,234.8 1096.7,259.3 1097.1,235.7 1097.4,215.5 1097.8,197.7 1098.2,176.9 1098.5,173.3 1098.9,178.9 1099.3,178.3 1099.6,179.6 1100,173.5 1100.3,159.9 1100.7,154.6 1101.1,153.2 1101.4,159.7 1101.8,158.1 1102.1,172.7 1102.5,185.8 1102.9,191.9 1103.2,195.6 1103.6,206.3 1103.9,193.3 1104.3,189.7 1104.7,184 1105,182.8 1105.4,177.8 1105.7,170.2 1106.1,156.2 1106.5,140.5 1106.8,122.3 1107.2,106.9 1107.5,124.2 1107.9,144.9 1108.3,155.5 1108.6,175.5 1109,205.7 1109.3,229.5 1109.7,248.9 1110.1,279.1 1110.4,245.3 1110.8,227.7 1111.2,189.7 1111.5,145.9 1111.9,131.9 1112.2,116.1 1112.6,126.8 1113,157.1 1113.3,180.7 1113.7,208.4 1114,205.8 1114.4,201.4 1114.8,200.7 1115.1,178.8 1115.5,179 1115.8,170.1 1116.2,177.8 1116.6,174.5 1116.9,165.3 1117.3,160.9 1117.6,164.8 1118,161.7 1118.4,180.7 1118.7,165.1 1119.1,164.6 1119.4,147.2 1119.8,127.2 1120.2,113.8 1120.5,135.5 1120.9,140.4 1121.2,160.8 1121.6,173.7 1122,195.2 1122.3,216.9 1122.7,237.8 1123,255.4 1123.4,239.4 1123.8,216.7 1124.1,205.2 1124.5,164.9 1124.9,154.1 1125.2,130.7 1125.6,133.5 1125.9,135.3 1126.3,148 1126.7,165.7 1127,176.7 1127.4,179.7 1127.7,191.5 1128.1,187.5 1128.5,189 1128.8,187.7 1129.2,185.6 1129.5,180.7 1129.9,173.1 1130.3,180.1 1130.6,174.7 1131,173.1 1131.3,181.3 1131.7,184.1 1132.1,173.7 1132.4,170.6 1132.8,181.8 1133.1,172.4 1133.5,171.5 1133.9,176 1134.2,176.8 1134.6,176.5 1134.9,180.3 1135.3,186.6 1135.7,182.2 1136,175.4 1136.4,177.7 1136.7,174.8 1137.1,178.2 1137.5,171.9 1137.8,183.3 1138.2,171.5 1138.6,174.8 1138.9,180.9 1139.3,173.1 1139.6,175.1 1140,174.7 1140.4,180.6 1140.7,177.8 1141.1,177.3 1141.4,175.6 1141.8,176.7 1142.2,169.2 1142.5,168.7 1142.9,154.9 1143.2,157.3 1143.6,160.2 1144,185 1144.3,194 1144.7,205.5 1145,222.8 1145.4,210.5 1145.8,201.3 1146.1,187 1146.5,158.5 1146.8,146 1147.2,126.4 1147.6,118.2 1147.9,127.2 1148.3,145.5 1148.6,160.6 1149,189 1149.4,191.2 1149.7,199.7 1150.1,213.3 1150.5,193.7 1150.8,194.1 1151.2,188.3 1151.5,173.5 1151.9,196.8 1152.3,198.4 1152.6,213.6 1153,195.6 1153.3,192.4 1153.7,189.3 1154.1,178.9 1154.4,179.2 1154.8,171.2 1155.1,178.5 1155.5,157 1155.9,149 1156.2,128.3 1156.6,116.8 1156.9,127 1157.3,151.2 1157.7,156.8 1158,190.4 1158.4,193.1 1158.7,204.9 1159.1,214.7 1159.5,204.9 1159.8,190.4 1160.2,190.6 1160.5,177.7 1160.9,172.7 1161.3,175.6 1161.6,166.6 1162,176.7 1162.3,178.1 1162.7,176.3 1163.1,175.1 1163.4,174.7 1163.8,176.4 1164.2,179 1164.5,176.4 1164.9,171.7 1165.2,180.1 1165.6,171.9 1166,181.7 1166.3,177.9 1166.7,180 1167,172.5 1167.4,178.6 1167.8,176.6 1168.1,172.6 1168.5,176.4 1168.8,180.7 1169.2,178.3 1169.6,180.4 1169.9,172.9 1170.3,177.5 1170.6,179 1171,175.9 1171.4,174.8 1171.7,174.4 1172.1,170.9 1172.4,180.4 1172.8,173.4 1173.2,174.4 1173.5,176.3 1173.9,184.2 1174.2,178.1 1174.6,169.9 1175,180.4 1175.3,180.4 1175.7,189.5 1176,185.8 1176.4,196.5 1176.8,195.3 1177.1,189.5 1177.5,178.6 1177.9,173.7 1178.2,178.3 1178.6,173.8 1178.9,176.6 1179.3,176.1 1179.7,175.8 1180,180.6 1180.4,177.3 1180.7,174.8 1181.1,176.7 1181.5,172.1 1181.8,181.6 1182.2,174 1182.5,169.7 1182.9,176.8 1183.3,174.4 1183.6,178.2 1184,177 1184.3,174.7 1184.7,179.2 1185.1,179.1 1185.4,179.3 1185.8,178.9 1186.1,172.2 1186.5,175 1186.9,174 1187.2,171.4 1187.6,165.2 1187.9,164.4 1188.3,154.8 1188.7,158.4 1189,168.5 1189.4,175.6 1189.8,173.3 1190.1,180.3 1190.5,173.3 1190.8,178.1 1191.2,178.1 1191.6,177.7 1191.9,177.3 1192.3,174.3 1192.6,175.2 1193,174.4 1193.4,176.4 1193.7,176.7 1194.1,174.9 1194.4,178.2 1194.8,171.2 1195.2,162.2 1195.5,156.3 1195.9,154.1 1196.2,157.2 1196.6,159.8 1197,170 1197.3,164.9 1197.7,197.9 1198,220.6 1198.4,240.8 1198.8,265.4 1199.1,244.3 1199.5,220.4 1199.8,198.5 1200.2,182.2 1200.6,158.2 1200.9,147.9 1201.3,138.9 1201.6,132.3 1202,143.8 1202.4,149.1 1202.7,168.6 1203.1,177.1 1203.5,183.4 1203.8,172.7 1204.2,178.6 1204.5,178.7 1204.9,173.1 1205.3,177.9 1205.6,184.2 1206,183.5 1206.3,180.4 1206.7,184.8 1207.1,198.9 1207.4,201.1 1207.8,203.9 1208.1,196.6 1208.5,187.4 1208.9,187.6 1209.2,179.6 1209.6,170.7 1209.9,168.6 1210.3,172.3 1210.7,176.9 1211,176.5 1211.4,183.7 1211.7,170.8 1212.1,190.4 1212.5,189.6 1212.8,206.9 1213.2,213.7 1213.5,196.6 1213.9,184.4 1214.3,163.6 1214.6,163.4 1215,167.8 1215.3,171.7 1215.7,173.7 1216.1,175.5 1216.4,175.7 1216.8,176.7 1217.2,172.6 1217.5,177.8 1217.9,182.4 1218.2,177.4 1218.6,171.8 1219,178.5 1219.3,181.2 1219.7,172.5 1220,177.2 1220.4,176.3 1220.8,176.5 1221.1,172 1221.5,176.9 1221.8,176.2 1222.2,175.9 1222.6,178.3 1222.9,170.8 1223.3,159.2 1223.6,160.9 1224,149.9 1224.4,162.4 1224.7,165.6 1225.1,160.2 1225.4,175.6 1225.8,173.2 1226.2,178.6 1226.5,166.2 1226.9,180.5 1227.2,172.4 1227.6,174.8 1228,176.6 1228.3,170.9 1228.7,175.4 1229.1,177.6 1229.4,181.4 1229.8,175.4 1230.1,179.2 1230.5,174.5 1230.9,173.9 1231.2,188.2 1231.6,181.4 1231.9,171.4 1232.3,175 1232.7,174.4 1233,181.3 1233.4,176.5 1233.7,173.4 1234.1,174 1234.5,174.7 1234.8,183.7 1235.2,169.3 1235.5,180.1 1235.9,177.9 1236.3,173.4 1236.6,178.6 1237,177.7 1237.3,175.6 1237.7,176.9 1238.1,176.4 1238.4,177.8 1238.8,179.3 1239.1,177.1 1239.5,177 1239.9,177.2 1240.2,174.5 1240.6,171.3 1240.9,182.1 1241.3,174.9 1241.7,175.5 1242,180.2 1242.4,176.9 1242.8,177.3 1243.1,188.9 1243.5,190 1243.8,196.3 1244.2,198.8 1244.6,200.5 1244.9,186 1245.3,163.4 1245.6,140.7 1246,129.1 1246.4,110.1 1246.7,124.1 1247.1,143.6 1247.4,161.1 1247.8,184.9 1248.2,206.6 1248.5,212.1 1248.9,225.1 1249.2,212.3 1249.6,197.6 1250,188 1250.3,176.8 1250.7,181 1251,175.7 1251.4,177.5 1251.8,170.7 1252.1,175.6 1252.5,177 1252.8,180.5 1253.2,178.8 1253.6,176.4 1253.9,175.3 1254.3,153.5 1254.6,135.6 1255,123 1255.4,93.2 1255.7,120.2 1256.1,137 1256.5,173.3 1256.8,206.4 1257.2,221.6 1257.5,240.2 1257.9,228 1258.3,205.7 1258.6,195.7 1259,173.9 1259.3,183.9 1259.7,168.5 1260.1,186.2 1260.4,170.2 1260.8,180.4 1261.1,172.8 1261.5,179.9 1261.9,190.6 1262.2,194 1262.6,200.2 1262.9,195.3 1263.3,182.9 1263.7,186.1 1264,177 1264.4,182 1264.7,174 1265.1,181.6 1265.5,167.9 1265.8,179.1 1266.2,177.1 1266.5,175.2 1266.9,179.4 1267.3,177.3 1267.6,155.1 1268,141.6 1268.4,123.2 1268.7,108.4 1269.1,131.4 1269.4,141.4 1269.8,181 1270.2,215.6 1270.5,233.7 1270.9,254.4 1271.2,228.2 1271.6,218.3 1272,198.3 1272.3,175.9 1272.7,176.3 1273,166.1 1273.4,167.5 1273.8,155.3 1274.1,150.8 1274.5,157.6 1274.8,163.8 1275.2,169.8 1275.6,180.7 1275.9,177.3 1276.3,175.4 1276.6,172.2 1277,181.8 1277.4,177.6 1277.7,195.6 1278.1,202 1278.4,194.8 1278.8,187.4 1279.2,188.6 1279.5,176.2 1279.9,169.5 1280.2,176.1 1280.6,178 1281,178.1 1281.3,162 1281.7,153 1282.1,135.9 1282.4,118 1282.8,133.1 1283.1,148.7 1283.5,162.4 1283.9,187 1284.2,198.9 1284.6,213.7 1284.9,215.2 1285.3,204.7 1285.7,198.5 1286,188 1286.4,171.7 1286.7,178.4 1287.1,173.5 1287.5,177.4 1287.8,178.9 1288.2,176.8 1288.5,180.2 1288.9,172.7 1289.3,174.8 1289.6,174.9 1290,176.5 1290.3,178 1290.7,185.2 1291.1,186.9 1291.4,197.8 1291.8,204.6 1292.1,197.5 1292.5,189.5 1292.9,185 1293.2,175.9 1293.6,174.1 1293.9,174.4 1294.3,173.3 1294.7,163.1 1295,159.8 1295.4,156 1295.8,162.5 1296.1,166.9 1296.5,175.9 1296.8,186.1 1297.2,193.8 1297.6,187.5 1297.9,184.1 1298.3,185.6 1298.6,174.8 1299,177.9 1299.4,181.3 1299.7,173.8 1300.1,164.7 1300.4,150.7 1300.8,150 1301.2,154.8 1301.5,169.4 1301.9,180.8 1302.2,191.3 1302.6,200 1303,197.6 1303.3,189 1303.7,180.4 1304,180 1304.4,174.9 1304.8,175.2 1305.1,178.6 1305.5,172.1 1305.8,177.2 1306.2,185.1 1306.6,184.8 1306.9,187.7 1307.3,194.4 1307.7,194.9 1308,182.3 1308.4,183.3 1308.7,175.8 1309.1,176.3 1309.5,156.1 1309.8,152.9 1310.2,151.2 1310.5,161.1 1310.9,160.6 1311.3,164 1311.6,174.7 1312,170.6 1312.3,182.8 1312.7,171.2 1313.1,178.8 1313.4,172.3 1313.8,174 1314.1,176.7 1314.5,179.9 1314.9,181.7 1315.2,175.7 1315.6,178.5 1315.9,168.6 1316.3,181.2 1316.7,171.5 1317,179.4 1317.4,171.7 1317.7,175.3 1318.1,172.7 1318.5,176.5 1318.8,174.1 1319.2,177.9 1319.5,171.7 1319.9,170.6 1320.3,172.1 1320.6,176.4 1321,170.4 1321.4,181.2 1321.7,175.6 1322.1,178.1 1322.4,174 1322.8,180.3 1323.2,174.6 1323.5,174.5 1323.9,172.5 1324.2,177.1 1324.6,170 1325,181.3 1325.3,173.9 1325.7,171.4 1326,182 1326.4,175.6 1326.8,175.7 1327.1,172.7 1327.5,175 1327.8,180.3 1328.2,177 1328.6,176.7 1328.9,173.1 1329.3,172.6 1329.6,177.7 1330,179.3 1330.4,179.4 1330.7,166.8 1331.1,160.3 1331.4,159.3 1331.8,153.4 1332.2,159 1332.5,162 1332.9,198.9 1333.2,224 1333.6,246.6 1334,275.8 1334.3,244.5 1334.7,226.5 1335.1,196.5 1335.4,183.3 1335.8,158.2 1336.1,155 1336.5,134.6 1336.9,126.9 1337.2,137.9 1337.6,148.6 1337.9,163.3 1338.3,177.1 1338.7,172.7 1339,180.8 1339.4,173.3 1339.7,177.4 1340.1,186.1 1340.5,201.2 1340.8,195.5 1341.2,190.5 1341.5,179.5 1341.9,187.9 1342.3,180.8 1342.6,170.3 1343,175.8 1343.3,176.2 1343.7,177.3 1344.1,173.8 1344.4,172.9 1344.8,175.4 1345.1,179.1 1345.5,175 1345.9,170.8 1346.2,178.3 1346.6,178.9 1347,172.5 1347.3,166.3 1347.7,175.6 1348,171.3 1348.4,174.4 1348.8,180.1 1349.1,172.8 1349.5,173.7 1349.8,173 1350.2,177.4 1350.6,175.8 1350.9,171 1351.3,182.7 1351.6,185 1352,178 1352.4,173.1 1352.7,174.6 1353.1,176.6 1353.4,173.4 1353.8,178.8 1354.2,178 1354.5,176.3 1354.9,181.5 1355.2,182.4 1355.6,174.5 1356,177.1 1356.3,178.3 1356.7,172.6 1357,175.6 1357.4,176.6 1357.8,164.1 1358.1,148.8 1358.5,134 1358.8,132.1 1359.2,139.5 1359.6,153.3 1359.9,162.6 1360.3,180 1360.7,183.3 1361,186.7 1361.4,201.1 1361.7,209.4 1362.1,196.7 1362.5,189.7 1362.8,186.2 1363.2,172 1363.5,177.1 1363.9,172.7 1364.3,175.3 1364.6,176.9 1365,177.3 1365.3,173.8 1365.7,179.5 1366.1,179.5 1366.4,170.2 1366.8,181.3 1367.1,176.6 1367.5,177.2 1367.9,176.1 1368.2,180 1368.6,178 1368.9,173.7 1369.3,176.1 1369.7,181.9 1370,172.4 1370.4,164.1 1370.7,155.1 1371.1,146.5 1371.5,126.3 1371.8,137 1372.2,157.8 1372.5,170.2 1372.9,172.4 1373.3,185.2 1373.6,186.3 1374,190.6 1374.4,190.4 1374.7,184.2 1375.1,181.2 1375.4,175.1 1375.8,177.8 1376.2,172.1 1376.5,177.9 1376.9,172.5 1377.2,181 1377.6,175 1378,175.8 1378.3,178.8 1378.7,174.4 1379,177.1 1379.4,171.5 1379.8,174.1 1380.1,176.9 1380.5,177.8 1380.8,175.8 1381.2,172.6 1381.6,176.5 1381.9,177.1 1382.3,177.4 1382.6,181.3 1383,171.9 1383.4,179 1383.7,175.5 1384.1,175.4 1384.4,178.7 1384.8,176.6 1385.2,175.2 1385.5,172.5 1385.9,177.9 1386.2,176.8 1386.6,176.3 1387,177.5 1387.3,173.5 1387.7,180.4 1388.1,175.7 1388.4,176.3 1388.8,174 1389.1,175.6 1389.5,178.8 1389.9,176.9 1390.2,179.5 1390.6,175.8 1390.9,176.7 1391.3,180.5 1391.7,174.6 1392,169.9 1392.4,177.5 1392.7,178.1 1393.1,177.7 1393.5,172.2 1393.8,177.7 1394.2,178.3 1394.5,180.4 1394.9,172.3 1395.3,184 1395.6,173.5 1396,179.1 1396.3,172.5 1396.7,177.8 1397.1,177.9 1397.4,172.4 1397.8,181.5 1398.1,172.8 1398.5,175 1398.9,184.2 1399.2,177.4 1399.6,178.5 1400,177.1 1400.3,175.8 1400.7,177.3 1401,174.4 1401.4,178.6 1401.8,180.7 1402.1,182.4 1402.5,177.9 1402.8,177.8 1403.2,165.4 1403.6,174.1 1403.9,180.9 1404.3,181.7 1404.6,177.6 1405,177.3 1405.4,168.6 1405.7,176.8 1406.1,178.2 1406.4,174.9 1406.8,169.5 1407.2,172.6 1407.5,157.4 1407.9,164.2 1408.2,160.5 1408.6,163.5 1409,173.5 1409.3,174.4 1409.7,180.3 1410,171.2 1410.4,174.7 1410.8,170.8 1411.1,175.2 1411.5,179.3 1411.8,178.6 1412.2,178.4 1412.6,178 1412.9,171.6 1413.3,182.9 1413.7,179.3 1414,178.2 1414.4,180.8 1414.7,178.5 1415.1,172.5 1415.5,179.1 1415.8,179.5 1416.2,185.3 1416.5,186.2 1416.9,188.7 1417.3,187.3 1417.6,184.1 1418,183 1418.3,180.1 1418.7,174.5 1419.1,175.2 1419.4,174.2 1419.8,176.9 1420.1,179.4 1420.5,178.5 1420.9,173.9 1421.2,178.9 1421.6,179.5 1421.9,180.6 1422.3,178.2 1422.7,173.4 1423,175.6 1423.4,172.1 1423.7,176.5 1424.1,176.1 1424.5,173.2 1424.8,169 1425.2,169.2 1425.5,171.5 1425.9,156.1 1426.3,165.3 1426.6,162.5 1427,172.6 1427.4,179.3 1427.7,180.6 1428.1,173.8 1428.4,173.6 1428.8,182.9 1429.2,174.3 1429.5,179.4 1429.9,175.3 1430.2,170.1 1430.6,172.6 1431,173.8 1431.3,171.5 1431.7,165.5 1432,180.7 1432.4,184.2 1432.8,177.2 1433.1,174.9 1433.5,180.4 1433.8,171.4 1434.2,185 1434.6,179.1 1434.9,174 1435.3,177.3 1435.6,168.6 1436,163.7 1436.4,160.9 1436.7,152.5 1437.1,165.2 1437.4,164.9 1437.8,170.4 1438.2,172.1 1438.5,182.8 1438.9,189 1439.3,192.2 1439.6,195 1440,188.2 1440.3,196.1 1440.7,194.2 1441.1,179.6 1441.4,181.3 1441.8,176.6 1442.1,180.9 1442.5,173.5 1442.9,177.9 1443.2,180.7 1443.6,177.6 1443.9,179.8 1444.3,171 1444.7,179.7 1445,175.1 1445.4,173.5 1445.7,171.8 1446.1,167.8 1446.5,179.5 1446.8,172.9 1447.2,170.6 1447.5,169.9 1447.9,180 1448.3,171.4 1448.6,188 1449,177.1 1449.3,184.4 1449.7,173.5 1450.1,172.6 1450.4,172.5 1450.8,157.3 1451.1,159.5 1451.5,149.5 1451.9,166.4 1452.2,168 1452.6,168.1 1453,175.3 1453.3,176.1 1453.7,176.3 1454,181.6 1454.4,178.3 1454.8,176.1 1455.1,176.6 1455.5,167.9 1455.8,171.2 1456.2,174.2 1456.6,179.9 1456.9,172.9 1457.3,177 1457.6,169.5 1458,175.4 1458.4,174.9 1458.7,175.6 1459.1,174 1459.4,177.1 1459.8,171.1 1460.2,178.3 1460.5,181 1460.9,175.2 1461.2,174.3 1461.6,181.4 1462,180 1462.3,175.8 1462.7,172.6 1463,175.5 1463.4,184.1 1463.8,172.3 1464.1,178.3 1464.5,178.5 1464.8,175.7 1465.2,169.7 1465.6,182.4 1465.9,176.1 1466.3,182.7 1466.7,173.1 1467,176 1467.4,183.1 1467.7,175.5 1468.1,180.5 1468.5,175.8 1468.8,177.2 1469.2,179 1469.5,173.5 1469.9,175.5 1470.3,165.6 1470.6,185.4 1471,175.4 1471.3,176.3 1471.7,188.2 1472.1,177 1472.4,177.4 1472.8,180.2 1473.1,177.9 1473.5,175.7 1473.9,176.5 1474.2,180.4 1474.6,179.8 1474.9,175 1475.3,173.3 1475.7,197.7 1476,200.3 1476.4,208.9 1476.7,228.1 1477.1,209.2 1477.5,202.3 1477.8,182.3 1478.2,181.5 1478.6,186.6 1478.9,150.4 1479.3,137.3 1479.6,114.5 1480,91.3 1480.4,113.9 1480.7,136.8 1481.1,156.6 1481.4,173.9 1481.8,175.5 1482.2,179.9 1482.5,178.9 1482.9,175.3 1483.2,175.6 1483.6,176.8 1484,176.3 1484.3,171.1 1484.7,175 1485,175.6 1485.4,178.9 1485.8,171.2 1486.1,178.4 1486.5,175.7 1486.8,183.9 1487.2,171.9 1487.6,182.1 1487.9,176.9 1488.3,172.9 1488.6,178.2 1489,178.6 1489.4,173.7 1489.7,174.2 1490.1,176.7 1490.4,174.7 1490.8,180.1 1491.2,175.2 1491.5,178 1491.9,181.9 1492.3,174 1492.6,178.2 1493,177.2 1493.3,176.1 1493.7,177.3 1494.1,174.1 1494.4,178.8 1494.8,174.4 1495.1,178.7 1495.5,174.7 1495.9,177.1 1496.2,174.3 1496.6,170.4 1496.9,178.4 1497.3,174.6 1497.7,179.8 1498,177.1 1498.4,175.2 1498.7,173.4 1499.1,180.8 1499.5,176.1 1499.8,172.7 1500.2,182.6 1500.5,173.6 1500.9,177.6 1501.3,171 1501.6,178.8 1502,179.1 1502.3,171.5 1502.7,173.4 1503.1,176.4 1503.4,171.5 1503.8,179.1 1504.1,175.7 1504.5,178.6 1504.9,178.4 1505.2,174.8 1505.6,177.6 1506,171.1 1506.3,180 1506.7,175.4 1507,183 1507.4,174.1 1507.8,178.2 1508.1,177.7 1508.5,175.5 1508.8,177.4 1509.2,179.5 1509.6,173.7 1509.9,176.8 1510.3,178.4 1510.6,171.7 1511,178 1511.4,174.1 1511.7,174.8 1512.1,178.3 1512.4,175.3 1512.8,177.3 1513.2,178.9 1513.5,176.9 1513.9,171.2 1514.2,177.7 1514.6,171.9 1515,175.7 1515.3,181.4 1515.7,183.1 1516,174.3 1516.4,176.9 1516.8,170.5 1517.1,176 1517.5,178.9 1517.9,173.2 1518.2,171.8 1518.6,179.4 1518.9,176.9 1519.3,175.6 1519.7,174.2 1520,178 1520.4,173.3 1520.7,178.2 1521.1,178 1521.5,181.3 1521.8,173.6 1522.2,174.2 1522.5,189.3 1522.9,175.5 1523.3,178.7 1523.6,178.2 1524,171.2 1524.3,174.9 1524.7,183 1525.1,172.4 1525.4,176.3 1525.8,171.6 1526.1,177 1526.5,176.1 1526.9,179 1527.2,176.4 1527.6,177.3 1527.9,180.6 1528.3,173 1528.7,178.7 1529,175.6 1529.4,174.9 1529.7,182.5 1530.1,181.2 1530.5,178.6 1530.8,177.8 1531.2,179.8 1531.6,175.4 1531.9,180.8 1532.3,177.4 1532.6,178 1533,178 1533.4,177 1533.7,176.8 1534.1,176 1534.4,171.3 1534.8,180.5 1535.2,176.9 1535.5,178.6 1535.9,171.2 1536.2,183.4 1536.6,178.5 1537,173.5 1537.3,176.6 1537.7,181.3 1538,172.4 1538.4,180.7 1538.8,178.7 1539.1,172.1 1539.5,174.1 1539.8,175.3 1540.2,176.9 1540.6,174.7 1540.9,179.7 1541.3,170.5 1541.6,183.4 1542,173.5 1542.4,173.3 1542.7,180.6 1543.1,176.7 1543.4,175.4 1543.8,171.9 1544.2,175.2 1544.5,174.1 1544.9,177.8 1545.3,175.1 1545.6,175.3 1546,172.8 1546.3,181.7 1546.7,175 1547.1,176.9 1547.4,177.7 1547.8,170.9 1548.1,180.3 1548.5,174.3 1548.9,176.5 1549.2,174.9 1549.6,179.3 1549.9,180 1550.3,169.5 1550.7,182 1551,177.9 1551.4,178.6 1551.7,175.6 1552.1,176.8 1552.5,177.7 1552.8,185.5 1553.2,176.4 1553.5,177.2 1553.9,175.6 1554.3,178.5 1554.6,174.3 1555,176.1 1555.3,182.5 1555.7,172.9 1556.1,178.4 1556.4,176.6 1556.8,174.5 1557.2,177.2 1557.5,175.4 1557.9,180.7 1558.2,172.1 1558.6,178.2 1559,173 1559.3,188.3 1559.7,175.9 1560,173.4 1560.4,175.2 1560.8,177 1561.1,175 1561.5,171 1561.8,177.9 1562.2,177.4 1562.6,174.2 1562.9,180.6 1563.3,174.2 1563.6,177.3 1564,175.2 1564.4,183.2 1564.7,164 1565.1,176.6 1565.4,178.8 1565.8,173.1 1566.2,178.6 1566.5,179.9 1566.9,178.7 1567.2,176.1 1567.6,177.6 1568,176.4 1568.3,177.9 1568.7,174.8 1569,174.8 1569.4,179.8 1569.8,172.3 1570.1,180.1 1570.5,173.6 1570.9,174.6 1571.2,177.4 1571.6,177.9 1571.9,179.1 1572.3,169.9 1572.7,182.6 1573,175.5 1573.4,176.6 1573.7,173.2 1574.1,175.3 1574.5,177.7 1574.8,178.3 1575.2,169.9 1575.5,178.9 1575.9,178.6 1576.3,171.1 1576.6,178.7 1577,179.5 1577.3,173.9 1577.7,178.1 1578.1,182.5 1578.4,175.6 1578.8,175.2 1579.1,181.3 1579.5,175.7 1579.9,173 1580.2,178.7 1580.6,166.6 1580.9,183.5 1581.3,184.5 1581.7,184.4 1582,196.6 1582.4,161.6 1582.7,136 1583.1,146.5 1583.5,150.8 1583.8,170.5 1584.2,181 1584.6,188.3 1584.9,194.9 1585.3,201.5 1585.6,190.8 1586,183.1 1586.4,184.1 1586.7,176.8 1587.1,173.7 1587.4,179.1 1587.8,177.7 1588.2,174 1588.5,170.8 1588.9,176.4 1589.2,175 1589.6,183.1 1590,177.2 1590.3,175.9 1590.7,174.2 1591,167.6 1591.4,174.1 1591.8,176.9 1592.1,174.9 1592.5,177.6 1592.8,173.1 1593.2,179.2 1593.6,171.5 1593.9,178.9 1594.3,174.5 1594.6,180.1 1595,177.4 1595.4,174.7 1595.7,183.1 1596.1,174.2 1596.5,176.3 1596.8,168.7 1597.2,179.2 1597.5,171.2 1597.9,178 1598.3,177.9 1598.6,172.2 1599,175.8 1599.3,171.9 1599.7,168.9 1600.1,179.4 1600.4,171.7 1600.8,173.4 1601.1,173.9 1601.5,177.4 1601.9,172.8 1602.2,177 1602.6,177.8 1602.9,175.8 1603.3,181.1 1603.7,184.7 1604,174.5 1604.4,179.2 1604.7,179.9 1605.1,173.7 1605.5,173 1605.8,183.7 1606.2,175 1606.5,177.6 1606.9,173 1607.3,172.8 1607.6,181.4 1608,182.5 1608.3,181 1608.7,174.6 1609.1,175.4 1609.4,180.3 1609.8,182.9 1610.2,188.1 1610.5,190.7 1610.9,201 1611.2,212.2 1611.6,201 1612,191.7 1612.3,173.1 1612.7,146.1 1613,134.8 1613.4,126.1 1613.8,139.5 1614.1,154.5 1614.5,163.7 1614.8,185.7 1615.2,201 1615.6,199.3 1615.9,208.9 1616.3,191 1616.6,197.9 1617,187.8 1617.4,173.7 1617.7,165.6 1618.1,180.4 1618.4,180.1 1618.8,177.1 1619.2,175.7 1619.5,170.8 1619.9,175.7 1620.2,176 1620.6,178.4 1621,176.1 1621.3,179.4 1621.7,172.9 1622,176.8 1622.4,179.3 1622.8,175.3 1623.1,171.4 1623.5,179.9 1623.9,178.9 1624.2,176.3 1624.6,176.2 1624.9,175.3 1625.3,176.9 1625.7,173.9 1626,177 1626.4,175.2 1626.7,171.5 1627.1,181.5 1627.5,178.3 1627.8,175 1628.2,179.4 1628.5,177.3 1628.9,168.6 1629.3,181.4 1629.6,178 1630,174 1630.3,163.2 1630.7,154.6 1631.1,133.6 1631.4,135.1 1631.8,137.8 1632.1,147.9 1632.5,163.6 1632.9,196.5 1633.2,213 1633.6,225.9 1633.9,245.4 1634.3,221.8 1634.7,188.7 1635,164.9 1635.4,156.7 1635.8,161.8 1636.1,176.2 1636.5,176.1 1636.8,178.1 1637.2,178.2 1637.6,176.1 1637.9,171.8 1638.3,177.5 1638.6,170.2 1639,181.4 1639.4,168.6 1639.7,178.2 1640.1,171 1640.4,176.6 1640.8,179.2 1641.2,192.1 1641.5,209.7 1641.9,221.6 1642.2,240 1642.6,228 1643,200.5 1643.3,191.3 1643.7,182.2 1644,168.4 1644.4,158.8 1644.8,148.6 1645.1,139.9 1645.5,150.7 1645.8,152.9 1646.2,173.3 1646.6,173.5 1646.9,176.4 1647.3,172.7 1647.6,182.9 1648,184.7 1648.4,183 1648.7,194.1 1649.1,189.3 1649.5,185.3 1649.8,181.6 1650.2,180.1 1650.5,179.2 1650.9,176.7 1651.3,176 1651.6,174 1652,178.3 1652.3,177.4 1652.7,176 1653.1,178.2 1653.4,176.1 1653.8,173.1 1654.1,179.9 1654.5,179.5 1654.9,177 1655.2,176 1655.6,179.6 1655.9,173.5 1656.3,171 1656.7,175.2 1657,173.2 1657.4,173 1657.7,175.2 1658.1,176.6 1658.5,175.9 1658.8,181.1 1659.2,178.8 1659.5,177.2 1659.9,179.1 1660.3,177.6 1660.6,174.4 1661,177.1 1661.3,177.2 1661.7,170.3 1662.1,179.6 1662.4,176.3 1662.8,173.3 1663.2,178 1663.5,172.8 1663.9,179.7 1664.2,171.4 1664.6,176.5 1665,181.8 1665.3,175.3 1665.7,174.6 1666,178.1 1666.4,174.8 1666.8,178.1 1667.1,174.3 1667.5,177.5 1667.8,172.9 1668.2,175.7 1668.6,173.7 1668.9,174.5 1669.3,178.4 1669.6,176.6 1670,174.9 1670.4,173.1 1670.7,175.7 1671.1,180.5 1671.4,171.5 1671.8,176.2 1672.2,172.7 1672.5,180.1 1672.9,176.9 1673.2,177.7 1673.6,179.2 1674,170.9 1674.3,178.2 1674.7,178.5 1675.1,179.5 1675.4,177.1 1675.8,173.4 1676.1,173.2 1676.5,175.5 1676.9,177.9 1677.2,175.5 1677.6,181.7 1677.9,178.9 1678.3,175.6 1678.7,175.3 1679,177 1679.4,175.6 1679.7,178.2 1680.1,176.8 1680.5,175.8 1680.8,177.6 1681.2,177.5 1681.5,176.7 1681.9,171.3 1682.3,180.7 1682.6,185.1 1683,180.9 1683.3,172.9 1683.7,173.5 1684.1,173.3 1684.4,178.6 1684.8,184.1 1685.1,180.1 1685.5,174.7 1685.9,169.6 1686.2,179.3 1686.6,174.8 1686.9,175.2 1687.3,171.4 1687.7,175.7 1688,171.9 1688.4,179.6 1688.8,180.3 1689.1,175.1 1689.5,178.8 1689.8,173.2 1690.2,177.1 1690.6,173.3 1690.9,180.2 1691.3,177.1 1691.6,177.1 1692,172.5 1692.4,178 1692.7,176.3 1693.1,171.7 1693.4,179.4 1693.8,177.1 1694.2,171.1 1694.5,184.3 1694.9,170.7 1695.2,178.3 1695.6,176.5 1696,176 1696.3,175.7 1696.7,176.7 1697,171.9 1697.4,183.9 1697.8,181.2 1698.1,173.8 1698.5,180.9 1698.8,176 1699.2,177.5 1699.6,176.6 1699.9,174.8 1700.3,184.1 1700.6,182.4 1701,181.5 1701.4,195.2 1701.7,198.8 1702.1,169.7 1702.5,159.4 1702.8,141.4 1703.2,116.1 1703.5,131.8 1703.9,151.6 1704.3,158.6 1704.6,187.8 1705,201.4 1705.3,201.4 1705.7,213.6 1706.1,204.6 1706.4,194.9 1706.8,179 1707.1,177.3 1707.5,179 1707.9,172.6 1708.2,175.7 1708.6,171.6 1708.9,176.8 1709.3,178.3 1709.7,178.1 1710,178.8 1710.4,178.4 1710.7,168.4 1711.1,184.4 1711.5,178.1 1711.8,180.3 1712.2,172.2 1712.5,176.7 1712.9,177.3 1713.3,173.6 1713.6,178.6 1714,174.8 1714.4,171.7 1714.7,178.2 1715.1,176.8 1715.4,174.7 1715.8,174.5 1716.2,174.6 1716.5,178 1716.9,175 1717.2,176.5 1717.6,163.6 1718,178.2 1718.3,176.9 1718.7,179.2 1719,176.9 1719.4,178 1719.8,174.7 1720.1,173 1720.5,171.5 1720.8,155.3 1721.2,156.8 1721.6,143 1721.9,153.6 1722.3,164 1722.6,168.7 1723,181 1723.4,173.5 1723.7,171.2 1724.1,177.1 1724.4,171.1 1724.8,177.9 1725.2,177 1725.5,175.8 1725.9,177.6 1726.2,174.9 1726.6,171 1727,177.7 1727.3,177.9 1727.7,175.8 1728.1,173.5 1728.4,177.6 1728.8,181.5 1729.1,177.5 1729.5,170.7 1729.9,178 1730.2,172.4 1730.6,177.5 1730.9,178.4 1731.3,175 1731.7,173.4 1732,178.1 1732.4,180.1 1732.7,176.2 1733.1,178.1 1733.5,172.3 1733.8,180.2 1734.2,178.7 1734.5,179.8 1734.9,175.1 1735.3,177.8 1735.6,184.6 1736,190 1736.3,200 1736.7,199 1737.1,196.1 1737.4,195 1737.8,177.6 1738.1,177.7 1738.5,175.1 1738.9,179.7 1739.2,173.8 1739.6,173.5 1739.9,175.3 1740.3,175.7 1740.7,173.5 1741,175.1 1741.4,181.4 1741.8,175.3 1742.1,174.7 1742.5,178.6 1742.8,187 1743.2,176.5 1743.6,176.7 1743.9,175.5 1744.3,174.9 1744.6,177.8 1745,177.9 1745.4,180.7 1745.7,171.7 1746.1,176.4 1746.4,180.3" stroke="#00f" stroke-width="1.3" fill="none" stroke-linejoin="miter"/>
</g>
<path d="M1206 275v-7.3M1206 8.4v7.3M1386.2 275v-7.3M1386.2 8.4v7.3M1566.5 275v-7.3M1566.5 8.4v7.3M1025.7 260.4h7.3M1746.8 260.4h-7.3M1025.7 176.4h7.3M1746.8 176.4h-7.3M1025.7 92.4h7.3M1746.8 92.4h-7.3" stroke="#262626" stroke-width="1" fill="none"/>
<rect x="1025.7" y="8.4" width="721.1" height="266.6" stroke="#262626" stroke-width="1.2" fill="none"/>
<g font-size="23" fill="#111" stroke="#111" stroke-width="0.4" letter-spacing="0.5"><text x="1026" y="307.2" text-anchor="middle">0</text><text x="1206.2" y="307.2" text-anchor="middle">500</text><text x="1386.5" y="307.2" text-anchor="middle">1000</text><text x="1566.8" y="307.2" text-anchor="middle">1500</text><text x="1747" y="307.2" text-anchor="middle">2000</text><text x="1016.7" y="269.1" text-anchor="end">-100</text><text x="1016.7" y="185.1" text-anchor="end">0</text><text x="1016.7" y="101.1" text-anchor="end">100</text><text x="1016.7" y="17.1" text-anchor="end">200</text></g>
<path d="M258 379.6V644.9M437.9 379.6V644.9M617.9 379.6V644.9M78 600.7H797.9M78 512.2H797.9M78 423.8H797.9" stroke="#dedede" stroke-width="1" fill="none"/>
<g clip-path="url(#cBL)">
<polyline points="78,484 78.4,534.6 78.7,505.8 79.1,510.3 79.4,519.2 79.8,518.8 80.2,491.3 80.5,515.2 80.9,568.8 81.2,474.2 81.6,477.3 82,530.1 82.3,495.1 82.7,490.7 83,508.1 83.4,567.1 83.8,545.5 84.1,479.1 84.5,503.8 84.8,513 85.2,528.7 85.6,500 85.9,537.8 86.3,497.4 86.6,506.1 87,530.3 87.4,499.5 87.7,494.1 88.1,503.3 88.4,530.7 88.8,511.7 89.2,530.1 89.5,514.7 89.9,514.3 90.2,492.8 90.6,510.2 91,526.2 91.3,517.9 91.7,497.6 92,511.7 92.4,516.6 92.8,498.5 93.1,533.6 93.5,512 93.8,522.4 94.2,500.1 94.6,500.5 94.9,524.8 95.3,512.2 95.6,508.7 96,477.5 96.4,509.8 96.7,512.2 97.1,511.5 97.4,525.8 97.8,501.8 98.2,530.5 98.5,494.4 98.9,526.8 99.2,500.9 99.6,507.1 100,520.7 100.3,507.4 100.7,528.7 101,504.9 101.4,497.7 101.8,529.5 102.1,495.4 102.5,531.3 102.8,537.5 103.2,514 103.6,502 103.9,507.4 104.3,567.1 104.6,504.1 105,495.7 105.4,530 105.7,516.8 106.1,501.3 106.4,517.8 106.8,516.6 107.2,522.1 107.5,488.7 107.9,524.7 108.2,507.1 108.6,521.8 109,491.1 109.3,517.2 109.7,510.2 110,521.9 110.4,507.1 110.8,494 111.1,511.1 111.5,518.5 111.8,515.5 112.2,514.8 112.6,515.6 112.9,514.1 113.3,500.8 113.6,517.5 114,527.3 114.4,496.4 114.7,501.8 115.1,523.7 115.4,523 115.8,497.5 116.2,504.5 116.5,517.2 116.9,517.6 117.2,493.1 117.6,511.8 118,529 118.3,504.6 118.7,515.8 119,509 119.4,506.7 119.8,517.5 120.1,518.3 120.5,518.3 120.8,513.5 121.2,505.8 121.6,502.6 121.9,519.2 122.3,514.3 122.6,510.6 123,514 123.4,508.1 123.7,525.6 124.1,519.1 124.4,499.9 124.8,518 125.2,490.3 125.5,549.4 125.9,513 126.2,522.4 126.6,498 127,519.3 127.3,498.6 127.7,514.4 128,524.8 128.4,469.8 128.8,536.4 129.1,496.5 129.5,497.5 129.8,528.7 130.2,516.9 130.6,513.8 130.9,522.8 131.3,511.8 131.6,500.3 132,500.7 132.4,539.8 132.7,491.4 133.1,512.5 133.4,509.7 133.8,525.7 134.2,509.7 134.5,508 134.9,520.1 135.2,513.7 135.6,509.7 136,506.3 136.3,509 136.7,551.9 137,511.5 137.4,517.7 137.8,512.5 138.1,499.1 138.5,520.7 138.8,512.4 139.2,505 139.6,510.1 139.9,512 140.3,518.4 140.6,515.5 141,509.9 141.4,513 141.7,503.8 142.1,519.9 142.4,541.6 142.8,516.9 143.2,502.6 143.5,475.5 143.9,482.7 144.2,509.7 144.6,525.3 145,489.8 145.3,527.8 145.7,512.3 146,518.4 146.4,499.1 146.8,499 147.1,517.7 147.5,506.8 147.8,509.2 148.2,508.8 148.6,476.9 148.9,520 149.3,509.6 149.6,523.6 150,502 150.3,502.7 150.7,514 151.1,516 151.4,513.8 151.8,499.9 152.1,520.6 152.5,508.2 152.9,515.5 153.2,519 153.6,498.2 153.9,474.1 154.3,512 154.7,507.4 155,514.1 155.4,511.2 155.7,512.5 156.1,502.4 156.5,518 156.8,510.4 157.2,524.1 157.5,507.7 157.9,500.5 158.3,547.8 158.6,497.9 159,525.6 159.3,504.3 159.7,519.1 160.1,506 160.4,518.8 160.8,508.4 161.1,500.7 161.5,546.5 161.9,497.8 162.2,527.2 162.6,516.6 162.9,504.7 163.3,478.9 163.7,499.3 164,517.6 164.4,510.3 164.7,515.5 165.1,501.2 165.5,522.3 165.8,513.8 166.2,520.4 166.5,512.7 166.9,505.7 167.3,507.4 167.6,511.5 168,524.6 168.3,503.4 168.7,514.3 169.1,520.1 169.4,502.5 169.8,529 170.1,497 170.5,499 170.9,533.2 171.2,506 171.6,488.2 171.9,505.4 172.3,503.2 172.7,523 173,506.2 173.4,514.2 173.7,512.4 174.1,508.8 174.5,510.5 174.8,507.8 175.2,514.6 175.5,520.6 175.9,500.4 176.3,513.2 176.6,529.1 177,498.9 177.3,511.3 177.7,511.4 178.1,514.8 178.4,523.3 178.8,506.1 179.1,523.1 179.5,494.6 179.9,499 180.2,520.4 180.6,511.3 180.9,491.4 181.3,515.4 181.7,512.6 182,504.8 182.4,523.4 182.7,511.2 183.1,500.8 183.5,530.2 183.8,510.1 184.2,507 184.5,509.6 184.9,512.4 185.3,520.7 185.6,501.6 186,514.4 186.3,509 186.7,522 187.1,503.2 187.4,512.4 187.8,518.3 188.1,509.2 188.5,514.6 188.9,498.8 189.2,538.2 189.6,500.4 189.9,514.1 190.3,502.7 190.7,471.1 191,510.3 191.4,504 191.7,529.5 192.1,506.4 192.5,507.6 192.8,519.6 193.2,500.5 193.5,512.6 193.9,520.1 194.3,520.2 194.6,486.8 195,520.8 195.3,512.6 195.7,514.9 196.1,512.9 196.4,482.2 196.8,518.7 197.1,516.9 197.5,502.1 197.9,517.2 198.2,518.6 198.6,513.3 198.9,485.1 199.3,516.3 199.7,502 200,531.4 200.4,513.9 200.7,503.5 201.1,504.8 201.5,518.3 201.8,513.5 202.2,501.1 202.5,532.5 202.9,516.1 203.3,508.4 203.6,508.9 204,506.9 204.3,533.2 204.7,458.7 205.1,503.6 205.4,530.5 205.8,491 206.1,533.4 206.5,496.8 206.9,528.7 207.2,502.3 207.6,514.5 207.9,508.6 208.3,483.7 208.7,519.8 209,511.1 209.4,509.8 209.7,524.4 210.1,507.7 210.5,519.3 210.8,499.4 211.2,494.8 211.5,523.9 211.9,524.9 212.3,511 212.6,498.9 213,536.8 213.3,541.8 213.7,507.6 214.1,512.5 214.4,557.8 214.8,533.3 215.1,517.1 215.5,524.7 215.9,504.7 216.2,517 216.6,478.2 216.9,514.6 217.3,486.2 217.7,528.7 218,505.2 218.4,509.9 218.7,522.3 219.1,504.8 219.5,512.2 219.8,514.8 220.2,496.5 220.5,527.5 220.9,516.4 221.3,505.2 221.6,503.1 222,518.6 222.3,524.2 222.7,515.3 223.1,512.8 223.4,510.1 223.8,503.7 224.1,508.5 224.5,541.5 224.9,493.8 225.2,521.1 225.6,497.6 225.9,510.3 226.3,526.2 226.7,509.5 227,516.4 227.4,501.2 227.7,528.7 228.1,508.3 228.5,508.6 228.8,551 229.2,502.5 229.5,532 229.9,522.6 230.3,501.4 230.6,520.1 231,501.2 231.3,525.3 231.7,506.1 232.1,509.3 232.4,507.8 232.8,517.2 233.1,501 233.5,521.8 233.9,528.5 234.2,489.3 234.6,522.4 234.9,515.4 235.3,494 235.7,533.3 236,503.3 236.4,518.9 236.7,494.8 237.1,526.7 237.5,507.2 237.8,526 238.2,488.3 238.5,533.5 238.9,495.5 239.3,486.9 239.6,511.2 240,507.3 240.3,537.7 240.7,498.8 241.1,514.5 241.4,509.8 241.8,506.4 242.1,520.8 242.5,520.3 242.9,506 243.2,560 243.6,536.1 243.9,501.2 244.3,521.6 244.7,493.7 245,536.8 245.4,500.6 245.7,510.3 246.1,510.1 246.5,526 246.8,519.5 247.2,535.7 247.5,465.4 247.9,542.9 248.3,518.5 248.6,508.8 249,496.6 249.3,509.2 249.7,537.7 250.1,487.6 250.4,518.8 250.8,503.1 251.1,522.5 251.5,500.1 251.9,498.8 252.2,528.7 252.6,487.4 252.9,524 253.3,476.7 253.7,507.2 254,533.8 254.4,555 254.7,519.4 255.1,513.4 255.5,500.5 255.8,511.5 256.2,502.5 256.5,511.7 256.9,526.1 257.3,520.3 257.6,475.8 258,522.7 258.3,541.5 258.7,520.5 259.1,507.2 259.4,505.2 259.8,503.7 260.1,513.9 260.5,517.7 260.9,519.2 261.2,508 261.6,517.1 261.9,508.3 262.3,514 262.7,505.8 263,537.1 263.4,496.3 263.7,489.3 264.1,521 264.5,502.2 264.8,521.5 265.2,508.2 265.5,508.3 265.9,452.6 266.3,515.6 266.6,494.9 267,521.5 267.3,511 267.7,513.2 268.1,521.4 268.4,514.4 268.8,494.9 269.1,524.2 269.5,526.4 269.9,516.5 270.2,488.3 270.6,579.9 270.9,505.7 271.3,516.9 271.7,491.8 272,510 272.4,522.6 272.7,500.5 273.1,502.7 273.5,515 273.8,535.3 274.2,508.5 274.5,550.9 274.9,579.9 275.3,502 275.6,517.2 276,531.3 276.3,495.7 276.7,505.4 277.1,523.6 277.4,491 277.8,535.2 278.1,496 278.5,501.8 278.9,544.3 279.2,503.9 279.6,504.4 279.9,489.3 280.3,544.1 280.7,491.9 281,514.7 281.4,518.3 281.7,515.8 282.1,509.6 282.5,510.4 282.8,520.3 283.2,482.1 283.5,534.5 283.9,506.6 284.3,514.2 284.6,510.2 285,508.2 285.3,519.1 285.7,508.1 286.1,496.6 286.4,517.5 286.8,522.8 287.1,502.9 287.5,525.3 287.9,504.5 288.2,525 288.6,510.1 288.9,510.1 289.3,496.3 289.7,519.8 290,509.9 290.4,515.2 290.7,510.7 291.1,511.9 291.5,509.7 291.8,516.6 292.2,520 292.5,478.2 292.9,497.9 293.3,510.8 293.6,518.3 294,527.7 294.3,489.7 294.7,521 295,561.8 295.4,511.6 295.8,515 296.1,480.1 296.5,512.8 296.8,531.5 297.2,506.1 297.6,508.8 297.9,505.4 298.3,538 298.6,488.7 299,507.1 299.4,526.3 299.7,510.3 300.1,503.2 300.4,518.4 300.8,524.2 301.2,511.1 301.5,551.1 301.9,515 302.2,550.4 302.6,515.9 303,508.3 303.3,507.6 303.7,504.7 304,523.3 304.4,526.8 304.8,489.4 305.1,522.8 305.5,503.2 305.8,523.6 306.2,507 306.6,515.3 306.9,511.5 307.3,503.1 307.6,525.8 308,506.5 308.4,511.9 308.7,516.5 309.1,525 309.4,494.4 309.8,534.6 310.2,502.9 310.5,504.9 310.9,506 311.2,509.2 311.6,512.5 312,513.9 312.3,519 312.7,501.2 313,522.6 313.4,502.5 313.8,535.8 314.1,503.3 314.5,509.6 314.8,508.2 315.2,529 315.6,485.8 315.9,511 316.3,513.7 316.6,521.4 317,498.4 317.4,526.3 317.7,502 318.1,519 318.4,512 318.8,513.2 319.2,511.3 319.5,504.3 319.9,510 320.2,512.3 320.6,515.9 321,533.5 321.3,513.8 321.7,503.1 322,527.7 322.4,513.6 322.8,507.5 323.1,524.3 323.5,502.1 323.8,511 324.2,519.2 324.6,509 324.9,503 325.3,545 325.6,528.8 326,505.2 326.4,524.4 326.7,516.2 327.1,504 327.4,508.8 327.8,529.1 328.2,493.5 328.5,519.6 328.9,513 329.2,515.7 329.6,462.7 330,503.3 330.3,515.7 330.7,510 331,473.9 331.4,496.8 331.8,514.8 332.1,522.6 332.5,533.2 332.8,490.6 333.2,490.4 333.6,534.4 333.9,520.1 334.3,489.9 334.6,531.4 335,528.7 335.4,510 335.7,531 336.1,498.8 336.4,503.3 336.8,525.1 337.2,503.9 337.5,518 337.9,503.3 338.2,505.3 338.6,537.3 339,505.3 339.3,506.5 339.7,521 340,534.9 340.4,531.3 340.8,511.6 341.1,515.5 341.5,503.9 341.8,508.2 342.2,512.8 342.6,543.3 342.9,507.9 343.3,533.9 343.6,501.7 344,509.7 344.4,539.6 344.7,530.4 345.1,482.6 345.4,535.7 345.8,502.5 346.2,474.7 346.5,509.3 346.9,527.2 347.2,511 347.6,504.5 348,510.4 348.3,509.5 348.7,498.6 349,517.6 349.4,517.7 349.8,486.2 350.1,538.6 350.5,494.7 350.8,515.8 351.2,508.2 351.6,510.6 351.9,508.9 352.3,524.1 352.6,508.4 353,532.1 353.4,495.4 353.7,520.3 354.1,505.9 354.4,500.5 354.8,529.9 355.2,504 355.5,523.1 355.9,507.2 356.2,519.1 356.6,530.2 357,496.8 357.3,508.5 357.7,508.7 358,513.5 358.4,513.3 358.8,503.2 359.1,515 359.5,520.8 359.8,468 360.2,536.2 360.6,498 360.9,556.5 361.3,500.1 361.6,527.7 362,520.1 362.4,498.4 362.7,499.5 363.1,528.2 363.4,511.3 363.8,513.1 364.2,510.1 364.5,501.8 364.9,506.7 365.2,524.7 365.6,517.1 366,495.9 366.3,526.9 366.7,512.5 367,515.8 367.4,511.9 367.8,507.6 368.1,516.7 368.5,506.4 368.8,515 369.2,508.4 369.6,520.1 369.9,510.7 370.3,508.5 370.6,513.7 371,551.4 371.4,503.3 371.7,530.9 372.1,519.5 372.4,490 372.8,520.3 373.2,499 373.5,524.2 373.9,521.3 374.2,484.3 374.6,527.2 375,519.3 375.3,514.7 375.7,501.3 376,522.5 376.4,537.7 376.8,505.8 377.1,546.2 377.5,503.7 377.8,505.3 378.2,502.4 378.6,518.3 378.9,523.7 379.3,496.4 379.6,527.3 380,510.6 380.4,507.8 380.7,524.5 381.1,481.8 381.4,527.8 381.8,520.4 382.2,518.8 382.5,517.1 382.9,499.6 383.2,509.6 383.6,521.3 384,547.2 384.3,506 384.7,517.4 385,527.1 385.4,484.7 385.8,515.7 386.1,508.2 386.5,476.4 386.8,523.6 387.2,505 387.6,499.5 387.9,497.6 388.3,510 388.6,529.2 389,526.8 389.4,503 389.7,505.8 390.1,512.3 390.4,515.1 390.8,502 391.2,530.7 391.5,522.7 391.9,501.6 392.2,514.6 392.6,484.3 393,532.2 393.3,522.5 393.7,495.4 394,509 394.4,520.1 394.8,511.1 395.1,505.4 395.5,516.4 395.8,522.2 396.2,501.7 396.6,509.5 396.9,517.1 397.3,507.9 397.6,498.4 398,519 398.4,511.5 398.7,506 399.1,521.8 399.4,498.3 399.8,511.7 400.2,538.9 400.5,496.2 400.9,517.8 401.2,511.3 401.6,505.9 402,514.8 402.3,506.2 402.7,514.2 403,511.9 403.4,521.7 403.8,508.7 404.1,497.5 404.5,542.3 404.8,482.2 405.2,530.9 405.6,498 405.9,542.3 406.3,494.5 406.6,543.7 407,517.9 407.4,505.2 407.7,527.7 408.1,509.7 408.4,513 408.8,502.8 409.2,512.6 409.5,531.5 409.9,567.1 410.2,512.5 410.6,509.2 411,520.7 411.3,505 411.7,513 412,515.5 412.4,512.5 412.8,495.6 413.1,529.2 413.5,503.9 413.8,504.5 414.2,517.3 414.6,518.1 414.9,504.2 415.3,532 415.6,510.7 416,505.5 416.4,510.8 416.7,511.2 417.1,496.2 417.4,513.8 417.8,526.2 418.2,509.9 418.5,521.7 418.9,502.3 419.2,525.7 419.6,490.1 420,527.8 420.3,503.5 420.7,489.2 421,490.4 421.4,518.6 421.8,501.4 422.1,524.2 422.5,525.9 422.8,536.6 423.2,516.1 423.6,489.4 423.9,530 424.3,513.3 424.6,501.4 425,514.9 425.4,510.4 425.7,520.3 426.1,524.3 426.4,507.1 426.8,519 427.2,484.2 427.5,515.2 427.9,522.6 428.2,504.2 428.6,511.9 429,549.4 429.3,513.1 429.7,509.4 430,518.7 430.4,530.8 430.8,516.7 431.1,482.7 431.5,478.5 431.8,537.2 432.2,490.7 432.6,520.7 432.9,509.6 433.3,528.8 433.6,485.2 434,519.1 434.4,505 434.7,510.1 435.1,510.6 435.4,509.4 435.8,495.5 436.2,512.8 436.5,519.1 436.9,502.9 437.2,518.4 437.6,519.8 437.9,493.2 438.3,516.2 438.7,539.7 439,505.6 439.4,498.9 439.7,521.4 440.1,491.2 440.5,520.8 440.8,509 441.2,509.2 441.5,508.9 441.9,525.7 442.3,504.7 442.6,515.4 443,529.1 443.3,514.3 443.7,504.9 444.1,519.8 444.4,520.9 444.8,507.1 445.1,523 445.5,499.8 445.9,502 446.2,530.5 446.6,521.3 446.9,498.6 447.3,516 447.7,507.8 448,517.4 448.4,506.4 448.7,521.9 449.1,489.5 449.5,528 449.8,505.7 450.2,494.3 450.5,520.4 450.9,506.8 451.3,518.5 451.6,514.1 452,510.2 452.3,505.8 452.7,528.2 453.1,509 453.4,511.3 453.8,510.1 454.1,496.4 454.5,523.2 454.9,514.8 455.2,508.1 455.6,503.7 455.9,529.1 456.3,495.7 456.7,543.6 457,498.7 457.4,490 457.7,498.8 458.1,525.1 458.5,518.1 458.8,500.4 459.2,524 459.5,493.5 459.9,515.7 460.3,516.2 460.6,527.8 461,494.7 461.3,524.1 461.7,512.1 462.1,514.1 462.4,509.3 462.8,475.1 463.1,508.8 463.5,512.2 463.9,487.1 464.2,548.4 464.6,497.4 464.9,530.3 465.3,507.6 465.7,521.9 466,488.5 466.4,521.8 466.7,513.5 467.1,514.7 467.5,501.7 467.8,526.6 468.2,503.1 468.5,490.7 468.9,539.4 469.3,517.2 469.6,516.2 470,552.4 470.3,519.9 470.7,520.7 471.1,513.1 471.4,503.3 471.8,523 472.1,479.9 472.5,536.2 472.9,512.1 473.2,511.3 473.6,530.4 473.9,508.4 474.3,500.7 474.7,508.7 475,525.2 475.4,480.7 475.7,458.7 476.1,503.2 476.5,513.6 476.8,527.5 477.2,557.6 477.5,537.8 477.9,534.6 478.3,517.3 478.6,486 479,478.9 479.3,521.3 479.7,493.4 480.1,535.5 480.4,546.4 480.8,510.3 481.1,532.6 481.5,496.7 481.9,511.6 482.2,503.7 482.6,510.9 482.9,514.9 483.3,532.9 483.7,494.5 484,508.2 484.4,524.7 484.7,574.2 485.1,512 485.5,507.2 485.8,525.7 486.2,507.4 486.5,515.7 486.9,513.9 487.3,520.7 487.6,547.6 488,522.1 488.3,500.7 488.7,501.1 489.1,513.1 489.4,510.6 489.8,523.2 490.1,493.1 490.5,461 490.9,496.5 491.2,516.8 491.6,527.3 491.9,511.7 492.3,493.4 492.7,521.5 493,509.2 493.4,475.8 493.7,544.9 494.1,518 494.5,504.2 494.8,567.1 495.2,506.7 495.5,504.2 495.9,528.6 496.3,502 496.6,514.2 497,508.4 497.3,536.6 497.7,466.2 498.1,536.4 498.4,504 498.8,532.8 499.1,515.8 499.5,424.3 499.9,602 500.2,499.6 500.6,532.7 500.9,527.8 501.3,495.1 501.7,507.5 502,509.4 502.4,538.3 502.7,508.4 503.1,526 503.5,484.8 503.8,583 504.2,512.7 504.5,547.5 504.9,480 505.3,533.2 505.6,496.4 506,513.1 506.3,502 506.7,530.6 507.1,514.2 507.4,520.9 507.8,583 508.1,489.3 508.5,531.6 508.9,491.8 509.2,463.6 509.6,514.7 509.9,492.4 510.3,468.6 510.7,540.8 511,501.8 511.4,510.2 511.7,503.8 512.1,529.8 512.5,508.3 512.8,567.3 513.2,502.3 513.5,509.8 513.9,529.7 514.3,484.5 514.6,528.2 515,526.8 515.3,521.2 515.7,499.8 516.1,534.3 516.4,463 516.8,507.9 517.1,504.1 517.5,521.1 517.9,537.3 518.2,496.2 518.6,501.3 518.9,544.1 519.3,497.4 519.7,496.4 520,518.5 520.4,534.6 520.7,476.6 521.1,506.6 521.5,490.5 521.8,538.7 522.2,517.1 522.5,500.3 522.9,511.3 523.3,509.9 523.6,503.4 524,527.4 524.3,525.3 524.7,498.2 525.1,480.8 525.4,503 525.8,513.5 526.1,527.4 526.5,497.9 526.9,510.1 527.2,523.4 527.6,501.7 527.9,519.5 528.3,512.1 528.7,552.9 529,503.7 529.4,493.7 529.7,535.7 530.1,524.5 530.5,504.1 530.8,515.3 531.2,504.5 531.5,516.2 531.9,489.5 532.3,527.4 532.6,502.8 533,534 533.3,508.1 533.7,493.1 534.1,543.4 534.4,458.7 534.8,526.5 535.1,486.2 535.5,537.1 535.9,502.9 536.2,511.2 536.6,524.9 536.9,481.3 537.3,553.8 537.7,497 538,531.9 538.4,518.7 538.7,498.2 539.1,512.5 539.5,489.4 539.8,543 540.2,516.5 540.5,505.1 540.9,503.8 541.3,510.1 541.6,523.2 542,508.9 542.3,504.8 542.7,507.7 543.1,526.2 543.4,506.2 543.8,536.2 544.1,497.4 544.5,500.7 544.9,515.9 545.2,513.7 545.6,497.4 545.9,527.9 546.3,518.9 546.7,501.5 547,512.3 547.4,523.4 547.7,494.6 548.1,506.5 548.5,531.1 548.8,514.6 549.2,505.8 549.5,501.4 549.9,527.1 550.3,513.6 550.6,511.1 551,505.5 551.3,512.5 551.7,515.4 552.1,501.1 552.4,503.7 552.8,535.3 553.1,533.4 553.5,518.5 553.9,490.1 554.2,542.1 554.6,507.9 554.9,508.6 555.3,524.6 555.7,502.4 556,561.8 556.4,529.7 556.7,499.5 557.1,498.9 557.5,531.5 557.8,514.7 558.2,525.4 558.5,492.8 558.9,524.5 559.3,494.7 559.6,503.5 560,521 560.3,523.1 560.7,500.7 561.1,521.2 561.4,517.5 561.8,507.2 562.1,506.4 562.5,517.1 562.9,505.1 563.2,499.4 563.6,524.4 563.9,511.1 564.3,477.8 564.7,496.4 565,520 565.4,507 565.7,526.4 566.1,504.3 566.5,532.7 566.8,496.5 567.2,528 567.5,513.5 567.9,490.7 568.3,538 568.6,501.4 569,512.2 569.3,507 569.7,508.5 570.1,532.8 570.4,503.9 570.8,513.5 571.1,501.3 571.5,492.4 571.9,522.8 572.2,513.3 572.6,515.9 572.9,501.5 573.3,502.1 573.7,567.1 574,520.7 574.4,513.3 574.7,511.3 575.1,519.5 575.5,486.1 575.8,525.1 576.2,515.4 576.5,492.4 576.9,527.8 577.3,502.5 577.6,521.6 578,505.9 578.3,520.2 578.7,515.6 579.1,506.3 579.4,509.9 579.8,509.4 580.1,519.1 580.5,536.5 580.9,513.2 581.2,507.1 581.6,518.3 581.9,490.1 582.3,505.6 582.6,511.9 583,512.9 583.4,521.8 583.7,484.4 584.1,499.2 584.4,513.5 584.8,516 585.2,507.8 585.5,507.4 585.9,520.2 586.2,507.7 586.6,522.6 587,506.5 587.3,516.9 587.7,516.9 588,450.3 588.4,536.9 588.8,491.4 589.1,505.9 589.5,515.1 589.8,526.5 590.2,499.3 590.6,527.1 590.9,489.2 591.3,501 591.6,521 592,505.3 592.4,527.5 592.7,518.7 593.1,503.6 593.4,499.2 593.8,514.5 594.2,511.3 594.5,519.7 594.9,511.9 595.2,512.9 595.6,494 596,528.5 596.3,502.7 596.7,523.2 597,503.6 597.4,525.6 597.8,509.1 598.1,476.9 598.5,517.1 598.8,511.4 599.2,510.9 599.6,514.2 599.9,497.5 600.3,514.5 600.6,525.6 601,495.9 601.4,521.5 601.7,512.2 602.1,513 602.4,506.8 602.8,513.1 603.2,518.7 603.5,509.2 603.9,519.4 604.2,495.6 604.6,526.5 605,512.4 605.3,511.3 605.7,507.7 606,509 606.4,518.1 606.8,510.2 607.1,514.2 607.5,503.7 607.8,517.8 608.2,522.4 608.6,495.6 608.9,518.2 609.3,503.9 609.6,525.6 610,494.7 610.4,510.6 610.7,518.7 611.1,506.8 611.4,503.7 611.8,515.2 612.2,480 612.5,498.3 612.9,517.1 613.2,509.8 613.6,516.3 614,511.5 614.3,513 614.7,512.3 615,518 615.4,501.3 615.8,516.6 616.1,511.4 616.5,512.5 616.8,515.7 617.2,511 617.6,519 617.9,503.8 618.3,512.2 618.6,530.7 619,520 619.4,496.2 619.7,520.2 620.1,511.4 620.4,513.8 620.8,513.7 621.2,502.4 621.5,516 621.9,509.5 622.2,498.3 622.6,516.9 623,545.1 623.3,526 623.7,518.9 624,509.5 624.4,518.9 624.8,492.9 625.1,511.5 625.5,518.1 625.8,510.8 626.2,512.3 626.6,514.8 626.9,507.8 627.3,521.4 627.6,509.2 628,510.7 628.4,520.4 628.7,508.6 629.1,504.7 629.4,512.7 629.8,527 630.2,494.5 630.5,515.2 630.9,510.1 631.2,516.6 631.6,508.8 632,522.1 632.3,506.6 632.7,516.7 633,509.4 633.4,503.4 633.8,509.9 634.1,520.6 634.5,514.8 634.8,505.8 635.2,513.9 635.6,504.6 635.9,519 636.3,527.9 636.6,499.6 637,514.3 637.4,514.8 637.7,507.3 638.1,476.9 638.4,514.4 638.8,502.5 639.2,518.2 639.5,512.1 639.9,513.5 640.2,506.7 640.6,524.5 641,500.1 641.3,519.8 641.7,503.2 642,512.6 642.4,517.1 642.8,517.2 643.1,508.4 643.5,511.9 643.8,521.8 644.2,506.3 644.6,514.2 644.9,501.4 645.3,510.5 645.6,525 646,511.2 646.4,516.4 646.7,504 647.1,509.4 647.4,507.1 647.8,528.4 648.2,500.6 648.5,517.9 648.9,515.2 649.2,510.3 649.6,514.4 650,505.9 650.3,514.6 650.7,506 651,521.2 651.4,519.3 651.8,507.6 652.1,505.3 652.5,521.8 652.8,508.5 653.2,505.5 653.6,522.2 653.9,500.7 654.3,514.9 654.6,517.1 655,509.4 655.4,514.7 655.7,511.7 656.1,511.9 656.4,510.4 656.8,512.8 657.2,500.2 657.5,513.6 657.9,495.2 658.2,530 658.6,506.9 659,504.6 659.3,513.4 659.7,522.1 660,496.5 660.4,513.6 660.8,524.4 661.1,517.7 661.5,501.3 661.8,540.7 662.2,512.9 662.6,515.3 662.9,511 663.3,507.6 663.6,507.8 664,530.4 664.4,503.2 664.7,491.6 665.1,523.5 665.4,502.7 665.8,535.2 666.2,505.1 666.5,514.4 666.9,519.8 667.2,511.5 667.6,509.2 668,509.5 668.3,521.1 668.7,518 669,529.6 669.4,513.2 669.8,557.8 670.1,517.4 670.5,502.4 670.8,526.4 671.2,504.8 671.6,501.7 671.9,526.3 672.3,503.4 672.6,512 673,512.4 673.4,524 673.7,497.3 674.1,517 674.4,510.4 674.8,513.3 675.2,513.5 675.5,506.2 675.9,511.1 676.2,529.6 676.6,506.5 677,509 677.3,522.9 677.7,492.8 678,524.3 678.4,505 678.8,514.1 679.1,514.6 679.5,516.6 679.8,508.7 680.2,509.8 680.6,508.4 680.9,517.7 681.3,513.3 681.6,511.4 682,503.6 682.4,517.9 682.7,517.7 683.1,515.6 683.4,491 683.8,515.1 684.2,468.5 684.5,502.1 684.9,516.1 685.2,514.9 685.6,511.2 686,504.6 686.3,528.8 686.7,503 687,516 687.4,510.2 687.8,512.7 688.1,514.5 688.5,507.2 688.8,528.3 689.2,497.7 689.6,509.9 689.9,522 690.3,557.8 690.6,468.8 691,529.9 691.4,508.9 691.7,514.8 692.1,511.2 692.4,512.6 692.8,522 693.2,486.9 693.5,533.9 693.9,504.4 694.2,463.4 694.6,501.9 695,517.1 695.3,509 695.7,512 696,514.8 696.4,531.8 696.8,483.5 697.1,532.2 697.5,492.3 697.8,513.8 698.2,515.5 698.6,525.9 698.9,455.2 699.3,568.8 699.6,501 700,533.9 700.4,497.5 700.7,516.4 701.1,513.4 701.4,511.2 701.8,489.7 702.2,529.2 702.5,508.7 702.9,495.1 703.2,546.7 703.6,483.4 704,531 704.3,514.8 704.7,510.1 705,526.3 705.4,509.5 705.8,508.2 706.1,506.4 706.5,499.2 706.8,508.4 707.2,527.3 707.6,504.6 707.9,511.6 708.3,519.2 708.6,507.4 709,520.9 709.4,500.1 709.7,520.6 710.1,509.4 710.4,509.9 710.8,513.4 711.2,521.6 711.5,519.2 711.9,498.2 712.2,517.8 712.6,511.9 713,507.5 713.3,463.6 713.7,499.2 714,555.4 714.4,527 714.8,497.8 715.1,558.4 715.5,560 715.8,513.4 716.2,519.6 716.6,487.4 716.9,510.7 717.3,519.1 717.6,550.9 718,489 718.4,511.4 718.7,505 719.1,535 719.4,489.6 719.8,493.1 720.2,511.4 720.5,571 720.9,506.1 721.2,478 721.6,517.7 722,529.3 722.3,489.6 722.7,528.8 723,526.5 723.4,536.5 723.8,458.1 724.1,536.4 724.5,504.4 724.8,554.7 725.2,486.1 725.6,494.8 725.9,523.6 726.3,522.5 726.6,520.1 727,484.7 727.3,524.3 727.7,613.1 728.1,511.3 728.4,519.7 728.8,505.6 729.1,518.2 729.5,426 729.9,637.4 730.2,506.5 730.6,532.6 730.9,516.3 731.3,505.6 731.7,473.6 732,538.6 732.4,504.3 732.7,567.5 733.1,523.4 733.5,526.4 733.8,534.4 734.2,503 734.5,531.5 734.9,486.9 735.3,521.8 735.6,499.9 736,493.9 736.3,519.6 736.7,488.5 737.1,512 737.4,510.1 737.8,515 738.1,521.9 738.5,524.6 738.9,528.5 739.2,522.7 739.6,511.6 739.9,503.8 740.3,532.3 740.7,519.4 741,486.1 741.4,492.8 741.7,468.6 742.1,477 742.5,561.8 742.8,502.2 743.2,534.3 743.5,493.1 743.9,578.6 744.3,516 744.6,547.2 745,503 745.3,518.9 745.7,519.2 746.1,497.6 746.4,513.4 746.8,506.6 747.1,510 747.5,506.5 747.9,503.3 748.2,531.5 748.6,514 748.9,509.4 749.3,506.5 749.7,519.9 750,523.6 750.4,506.1 750.7,495.6 751.1,535.6 751.5,488 751.8,431.3 752.2,485.9 752.5,544.3 752.9,522.8 753.3,509.8 753.6,515 754,487.1 754.3,540.1 754.7,516.1 755.1,497.7 755.4,558.7 755.8,522.4 756.1,518.6 756.5,496.9 756.9,535.6 757.2,512.5 757.6,544.2 757.9,467.9 758.3,556.9 758.7,500.2 759,492.2 759.4,559 759.7,494.9 760.1,471.2 760.5,524.2 760.8,487.8 761.2,516.4 761.5,511 761.9,513.4 762.3,561.5 762.6,434.4 763,581.7 763.3,473.1 763.7,537.2 764.1,536.6 764.4,487.8 764.8,486.7 765.1,519.6 765.5,517.2 765.9,542.4 766.2,481.5 766.6,514.8 766.9,488.9 767.3,533.8 767.7,513 768,517.3 768.4,508.2 768.7,507.2 769.1,522.3 769.5,517 769.8,516.8 770.2,494.9 770.5,518.3 770.9,449 771.3,580.8 771.6,503.2 772,526.1 772.3,475.8 772.7,509.4 773.1,522.1 773.4,518.9 773.8,504.9 774.1,537.2 774.5,510.2 774.9,480.3 775.2,540.5 775.6,499.7 775.9,520.1 776.3,534.8 776.7,489.8 777,493.2 777.4,506 777.7,559.5 778.1,500.1 778.5,499.7 778.8,492.3 779.2,571.9 779.5,507.6 779.9,511 780.3,539 780.6,519.4 781,488 781.3,527.2 781.7,508.6 782.1,517.2 782.4,512.7 782.8,495.7 783.1,536.6 783.5,521.6 783.9,499 784.2,502.1 784.6,517.4 784.9,510.2 785.3,535.6 785.7,498.2 786,551.1 786.4,528 786.7,518.7 787.1,489.5 787.5,533.5 787.8,495.7 788.2,519 788.5,509.9 788.9,504.3 789.3,497 789.6,524.5 790,538.9 790.3,515.6 790.7,502.4 791.1,510.4 791.4,501.3 791.8,520.6 792.1,438.9 792.5,536.1 792.9,537.8 793.2,505 793.6,497.6 793.9,523.7 794.3,520.9 794.7,528.2 795,497.6 795.4,512.1 795.7,476.9 796.1,508.6 796.5,507.9 796.8,513 797.2,490 797.5,476.1" stroke="#000" stroke-width="1" fill="none" stroke-linejoin="miter"/>
</g>
<path d="M258 644.9v-7.3M258 379.6v7.3M437.9 644.9v-7.3M437.9 379.6v7.3M617.9 644.9v-7.3M617.9 379.6v7.3M78 600.7h7.3M797.9 600.7h-7.3M78 512.2h7.3M797.9 512.2h-7.3M78 423.8h7.3M797.9 423.8h-7.3" stroke="#262626" stroke-width="1" fill="none"/>
<rect x="78" y="379.6" width="719.9" height="265.3" stroke="#262626" stroke-width="1.2" fill="none"/>
<g font-size="23" fill="#111" stroke="#111" stroke-width="0.4" letter-spacing="0.5"><text x="78.2" y="677.1" text-anchor="middle">0</text><text x="258.2" y="677.1" text-anchor="middle">500</text><text x="438.2" y="677.1" text-anchor="middle">1000</text><text x="618.2" y="677.1" text-anchor="middle">1500</text><text x="798.1" y="677.1" text-anchor="middle">2000</text><text x="69" y="609.4" text-anchor="end">-20</text><text x="69" y="521" text-anchor="end">0</text><text x="69" y="432.5" text-anchor="end">20</text></g>
<path d="M1206 379.5V644.9M1386.3 379.5V644.9M1566.5 379.5V644.9M1025.8 578.5H1746.8M1025.8 512.2H1746.8M1025.8 445.8H1746.8" stroke="#dedede" stroke-width="1" fill="none"/>
<g clip-path="url(#cBR)">
<polyline points="1025.8,494.7 1026.2,514.8 1026.5,499.8 1026.9,504.2 1027.2,503.4 1027.6,497.6 1028,512.5 1028.3,522.2 1028.7,500.9 1029,527.5 1029.4,512.3 1029.8,516.2 1030.1,509.8 1030.5,507.6 1030.8,524.7 1031.2,492.7 1031.6,516.1 1031.9,514.1 1032.3,502.4 1032.6,500.8 1033,517.8 1033.4,496.5 1033.7,517.4 1034.1,516 1034.5,521.7 1034.8,492.7 1035.2,494.8 1035.5,527.7 1035.9,511 1036.3,514.9 1036.6,517.3 1037,521.7 1037.3,507.4 1037.7,516.4 1038.1,504.3 1038.4,514.7 1038.8,509 1039.1,505.7 1039.5,514.1 1039.9,518.1 1040.2,507 1040.6,521.6 1040.9,517.2 1041.3,503.1 1041.7,530.4 1042,499 1042.4,510.6 1042.7,498.7 1043.1,514.3 1043.5,507.6 1043.8,521.1 1044.2,521.6 1044.5,497 1044.9,511.9 1045.3,532.9 1045.6,505.8 1046,518.5 1046.3,515.2 1046.7,508 1047.1,516.5 1047.4,508.2 1047.8,484.9 1048.2,509.1 1048.5,525.3 1048.9,487.9 1049.2,512 1049.6,509.3 1050,521.7 1050.3,519.3 1050.7,504.2 1051,523.8 1051.4,515.5 1051.8,521.7 1052.1,525.9 1052.5,513.8 1052.8,506.9 1053.2,511.7 1053.6,545 1053.9,518.3 1054.3,511 1054.6,526.2 1055,505.6 1055.4,529.8 1055.7,530.9 1056.1,534.2 1056.4,491.3 1056.8,515.1 1057.2,505.5 1057.5,505.2 1057.9,512.2 1058.2,506.7 1058.6,504.4 1059,524.4 1059.3,508 1059.7,502.6 1060,516.7 1060.4,519.8 1060.8,525 1061.1,506.8 1061.5,507.1 1061.8,521.9 1062.2,517.7 1062.6,519.1 1062.9,518.4 1063.3,509.4 1063.7,509.4 1064,509.6 1064.4,510.5 1064.7,512.3 1065.1,503.7 1065.5,513.5 1065.8,511.4 1066.2,509.8 1066.5,526.6 1066.9,500.9 1067.3,520.5 1067.6,515.2 1068,521.6 1068.3,508.1 1068.7,511.1 1069.1,532.1 1069.4,507.1 1069.8,520.8 1070.1,508.7 1070.5,502.3 1070.9,523.9 1071.2,520.4 1071.6,502.9 1071.9,514 1072.3,509.1 1072.7,515.7 1073,510.5 1073.4,515.5 1073.7,507.7 1074.1,512.6 1074.5,506.5 1074.8,523.5 1075.2,503.6 1075.5,504.8 1075.9,529 1076.3,490.2 1076.6,494.1 1077,541.4 1077.4,507 1077.7,530.3 1078.1,504.7 1078.4,513.6 1078.8,520.1 1079.2,501.2 1079.5,520.3 1079.9,509.7 1080.2,504 1080.6,515.1 1081,510.6 1081.3,514.4 1081.7,515 1082,507.1 1082.4,518.7 1082.8,499.2 1083.1,518.4 1083.5,520.8 1083.8,493.1 1084.2,508.6 1084.6,523.6 1084.9,513.1 1085.3,493.2 1085.6,514.2 1086,515.7 1086.4,506.7 1086.7,523.9 1087.1,512.3 1087.4,513.3 1087.8,511.8 1088.2,519.6 1088.5,506.6 1088.9,510.6 1089.2,519.2 1089.6,513.8 1090,506.2 1090.3,502.6 1090.7,516.6 1091.1,502.8 1091.4,508.9 1091.8,512.6 1092.1,517.9 1092.5,524 1092.9,502.7 1093.2,508.5 1093.6,512 1093.9,540.7 1094.3,519.5 1094.7,515.6 1095,529.1 1095.4,518.8 1095.7,502.2 1096.1,511.6 1096.5,523.4 1096.8,505.8 1097.2,515.2 1097.5,511.8 1097.9,514.3 1098.3,524.6 1098.6,495.6 1099,520.5 1099.3,505.6 1099.7,505.9 1100.1,516 1100.4,509.8 1100.8,517.3 1101.1,504.4 1101.5,531.1 1101.9,503.1 1102.2,491.4 1102.6,518.3 1102.9,517 1103.3,508.9 1103.7,508.2 1104,517.7 1104.4,504.9 1104.7,510.9 1105.1,524 1105.5,493 1105.8,508 1106.2,512 1106.6,525.9 1106.9,509.9 1107.3,513.8 1107.6,509.4 1108,506.8 1108.4,516.5 1108.7,515 1109.1,515 1109.4,501.8 1109.8,522.4 1110.2,512.2 1110.5,504 1110.9,518.3 1111.2,508.6 1111.6,514.6 1112,511.1 1112.3,517.1 1112.7,506.6 1113,489 1113.4,501.6 1113.8,508.2 1114.1,508.5 1114.5,504.2 1114.8,514.7 1115.2,508.6 1115.6,521 1115.9,512.7 1116.3,507.6 1116.6,518.8 1117,506.4 1117.4,518.4 1117.7,530.6 1118.1,511.6 1118.4,509 1118.8,520.6 1119.2,497.7 1119.5,517.8 1119.9,510.8 1120.3,504.9 1120.6,509.9 1121,524.2 1121.3,515.3 1121.7,512.7 1122.1,522 1122.4,506.4 1122.8,522.1 1123.1,511.4 1123.5,502.8 1123.9,520.8 1124.2,535.2 1124.6,505.5 1124.9,519.8 1125.3,505.5 1125.7,527.9 1126,505.3 1126.4,519 1126.7,506.6 1127.1,513 1127.5,496.8 1127.8,512.4 1128.2,500.7 1128.5,530.2 1128.9,513 1129.3,502 1129.6,497.2 1130,507.2 1130.3,504.4 1130.7,508.8 1131.1,520.4 1131.4,521.8 1131.8,510.1 1132.1,518.8 1132.5,515.4 1132.9,514.8 1133.2,526.2 1133.6,508.5 1134,506.9 1134.3,515.3 1134.7,504.1 1135,520.2 1135.4,505.9 1135.8,516.7 1136.1,512.7 1136.5,521.5 1136.8,507.6 1137.2,525.3 1137.6,505.4 1137.9,519.5 1138.3,513.3 1138.6,510 1139,526.4 1139.4,503.1 1139.7,513.8 1140.1,516 1140.4,506.7 1140.8,517.5 1141.2,506.2 1141.5,527.7 1141.9,504.3 1142.2,512.3 1142.6,516.2 1143,518.6 1143.3,513.6 1143.7,522.8 1144,512.7 1144.4,513.7 1144.8,509.1 1145.1,483.4 1145.5,489.1 1145.8,516.3 1146.2,507.8 1146.6,517.6 1146.9,526.5 1147.3,511.1 1147.6,515.7 1148,517.4 1148.4,510.5 1148.7,510.9 1149.1,515.8 1149.5,512.7 1149.8,505.1 1150.2,520.7 1150.5,503.2 1150.9,511.9 1151.3,517.9 1151.6,522.3 1152,523.1 1152.3,511.4 1152.7,502.8 1153.1,520.1 1153.4,508 1153.8,507.6 1154.1,517.9 1154.5,494 1154.9,510 1155.2,524.7 1155.6,505.6 1155.9,502.6 1156.3,518.7 1156.7,504.7 1157,506.3 1157.4,516.4 1157.7,511.1 1158.1,506.4 1158.5,511.1 1158.8,512.1 1159.2,515.2 1159.5,505.4 1159.9,499.4 1160.3,515.9 1160.6,508.9 1161,510.6 1161.3,510.2 1161.7,512.4 1162.1,509.7 1162.4,528.4 1162.8,508.1 1163.2,517.3 1163.5,515.6 1163.9,505.9 1164.2,516.9 1164.6,518 1165,503.4 1165.3,513.2 1165.7,515.8 1166,498.7 1166.4,515.3 1166.8,512.6 1167.1,496.1 1167.5,504.3 1167.8,521.1 1168.2,510.8 1168.6,508.6 1168.9,518.9 1169.3,510.2 1169.6,511.1 1170,513.4 1170.4,508.1 1170.7,513.5 1171.1,515.1 1171.4,512.7 1171.8,510 1172.2,510.5 1172.5,507.5 1172.9,518.7 1173.2,512 1173.6,515.6 1174,513.6 1174.3,505.6 1174.7,518.2 1175,499 1175.4,515.4 1175.8,527.2 1176.1,507.5 1176.5,506.5 1176.8,511.6 1177.2,515.3 1177.6,510.4 1177.9,516.2 1178.3,510.3 1178.7,510.6 1179,511.4 1179.4,507.9 1179.7,514 1180.1,506.6 1180.5,517.4 1180.8,510.1 1181.2,518.5 1181.5,511.1 1181.9,511.4 1182.3,500.8 1182.6,517.8 1183,512.8 1183.3,511.7 1183.7,508.4 1184.1,505.6 1184.4,512.3 1184.8,515.4 1185.1,513.8 1185.5,509.4 1185.9,511.6 1186.2,511.6 1186.6,518.1 1186.9,512.6 1187.3,509.6 1187.7,508.3 1188,515.5 1188.4,511.8 1188.7,508.1 1189.1,518.6 1189.5,513.6 1189.8,519.1 1190.2,507.6 1190.5,516.1 1190.9,508.3 1191.3,509 1191.6,512.2 1192,514.6 1192.4,509.6 1192.7,508.6 1193.1,517.7 1193.4,508.1 1193.8,516.4 1194.2,508.8 1194.5,514.3 1194.9,504.7 1195.2,515.5 1195.6,508.1 1196,512.7 1196.3,515.5 1196.7,509.5 1197,514.1 1197.4,510.7 1197.8,515 1198.1,516 1198.5,508.1 1198.8,431.3 1199.2,485.7 1199.6,516.8 1199.9,505.8 1200.3,517 1200.6,511.2 1201,535.3 1201.4,515.9 1201.7,519.9 1202.1,498.2 1202.4,518.7 1202.8,508.1 1203.2,532.6 1203.5,497.5 1203.9,516.6 1204.2,511.8 1204.6,510 1205,517.7 1205.3,513 1205.7,504.9 1206,512.7 1206.4,500.8 1206.8,483.8 1207.1,516.1 1207.5,525.3 1207.9,511.5 1208.2,507.1 1208.6,507 1208.9,521.5 1209.3,515.2 1209.7,499 1210,528.1 1210.4,516.7 1210.7,510.9 1211.1,521.1 1211.5,490 1211.8,509.6 1212.2,506.9 1212.5,512.3 1212.9,516.1 1213.3,515.8 1213.6,516.7 1214,505.9 1214.3,510.2 1214.7,511.1 1215.1,521.8 1215.4,496.9 1215.8,527.8 1216.1,496.5 1216.5,512.9 1216.9,518.7 1217.2,527.7 1217.6,510.4 1217.9,510.2 1218.3,504 1218.7,521.6 1219,512.7 1219.4,526.8 1219.7,511.5 1220.1,485.9 1220.5,506.4 1220.8,516.8 1221.2,507.2 1221.6,511.4 1221.9,513.5 1222.3,512.5 1222.6,507.6 1223,520.2 1223.4,514.5 1223.7,504.6 1224.1,518.7 1224.4,503.3 1224.8,516.6 1225.2,504.7 1225.5,497.3 1225.9,491.3 1226.2,507.6 1226.6,522.2 1227,524.7 1227.3,523.2 1227.7,507.6 1228,504.2 1228.4,525.1 1228.8,515.8 1229.1,507.5 1229.5,504.3 1229.8,518.9 1230.2,512.9 1230.6,510.7 1230.9,507.1 1231.3,531.2 1231.6,502.8 1232,519.4 1232.4,521.1 1232.7,501.8 1233.1,508.1 1233.4,520.3 1233.8,501.3 1234.2,523.4 1234.5,503.1 1234.9,496.4 1235.3,510.8 1235.6,508.1 1236,538.6 1236.3,508.3 1236.7,520.4 1237.1,508.4 1237.4,496.4 1237.8,513.6 1238.1,510.6 1238.5,513.4 1238.9,498.1 1239.2,525.2 1239.6,538.7 1239.9,508.9 1240.3,522.6 1240.7,515.6 1241,517.3 1241.4,525.2 1241.7,503.5 1242.1,513.7 1242.5,509 1242.8,519.3 1243.2,507.4 1243.5,505.4 1243.9,502.6 1244.3,513.4 1244.6,509.5 1245,514.2 1245.3,507.3 1245.7,513.6 1246.1,507.3 1246.4,511.7 1246.8,518.4 1247.1,511.9 1247.5,507.8 1247.9,516.7 1248.2,511.7 1248.6,513 1248.9,525.4 1249.3,533.6 1249.7,517.6 1250,507.3 1250.4,510.5 1250.8,514.6 1251.1,516.6 1251.5,505.2 1251.8,516 1252.2,506.8 1252.6,511 1252.9,506.8 1253.3,512.2 1253.6,521.2 1254,510.5 1254.4,493.1 1254.7,505.4 1255.1,526 1255.4,492.2 1255.8,505.1 1256.2,516.6 1256.5,505.3 1256.9,519.4 1257.2,513.3 1257.6,511.6 1258,510 1258.3,507.7 1258.7,517.7 1259,507.1 1259.4,515.2 1259.8,503.2 1260.1,508.5 1260.5,509.2 1260.8,519.1 1261.2,511.6 1261.6,502.8 1261.9,510.2 1262.3,517.5 1262.6,507.2 1263,504.7 1263.4,522.6 1263.7,505.4 1264.1,504.2 1264.5,507.7 1264.8,515.2 1265.2,512.5 1265.5,510 1265.9,518.2 1266.3,510.4 1266.6,501 1267,523.7 1267.3,504.4 1267.7,513.5 1268.1,493 1268.4,517.8 1268.8,510.6 1269.1,514.7 1269.5,501.7 1269.9,491.9 1270.2,502.4 1270.6,513.4 1270.9,514.6 1271.3,512.1 1271.7,514.3 1272,513 1272.4,506.7 1272.7,514.2 1273.1,514.1 1273.5,507.8 1273.8,517.2 1274.2,511.2 1274.5,509.5 1274.9,513.1 1275.3,517.8 1275.6,516.7 1276,509.7 1276.3,519.8 1276.7,503.8 1277.1,518.8 1277.4,504.5 1277.8,519.4 1278.1,504.8 1278.5,513.7 1278.9,520 1279.2,506.8 1279.6,514.2 1280,515.2 1280.3,516.8 1280.7,515 1281,515.8 1281.4,514.7 1281.8,510.5 1282.1,510.9 1282.5,517.7 1282.8,515.2 1283.2,500 1283.6,515.7 1283.9,499.8 1284.3,519.8 1284.6,510.1 1285,511.7 1285.4,514.1 1285.7,504.3 1286.1,517.4 1286.4,521.6 1286.8,504.5 1287.2,513.7 1287.5,513.6 1287.9,507.2 1288.2,524.2 1288.6,501.3 1289,501.4 1289.3,509.1 1289.7,514.4 1290,513.6 1290.4,514.7 1290.8,488.8 1291.1,509.9 1291.5,512.2 1291.8,517.7 1292.2,516.5 1292.6,518.2 1292.9,510 1293.3,510 1293.7,510 1294,513.4 1294.4,520.8 1294.7,509.1 1295.1,515.3 1295.5,515.3 1295.8,510.6 1296.2,510.4 1296.5,512.9 1296.9,521.5 1297.3,504.2 1297.6,523.8 1298,502.7 1298.3,510.2 1298.7,505.5 1299.1,521.9 1299.4,509.2 1299.8,512.9 1300.1,515.2 1300.5,517.7 1300.9,508.4 1301.2,516.4 1301.6,509.6 1301.9,511.9 1302.3,511.3 1302.7,516.4 1303,523 1303.4,509.5 1303.7,519.8 1304.1,510.7 1304.5,509.1 1304.8,510.1 1305.2,511.4 1305.5,515 1305.9,520.8 1306.3,508.7 1306.6,523.3 1307,512.1 1307.4,514.9 1307.7,515.9 1308.1,507.6 1308.4,511.8 1308.8,512.1 1309.2,513.6 1309.5,502.3 1309.9,495.4 1310.2,510 1310.6,514.8 1311,516 1311.3,516.1 1311.7,519.8 1312,511.9 1312.4,519.1 1312.8,510.9 1313.1,506.6 1313.5,510.8 1313.8,513.5 1314.2,520.9 1314.6,509.8 1314.9,529.3 1315.3,510 1315.6,517.2 1316,511.5 1316.4,515.2 1316.7,515.5 1317.1,512.7 1317.4,508 1317.8,507.9 1318.2,516.4 1318.5,496.3 1318.9,514.4 1319.2,514.3 1319.6,511 1320,512.6 1320.3,507.9 1320.7,518.3 1321,513.6 1321.4,516.6 1321.8,506.6 1322.1,512.2 1322.5,511.5 1322.9,506.5 1323.2,517.6 1323.6,510.4 1323.9,511.5 1324.3,510.7 1324.7,522.8 1325,509.4 1325.4,518.1 1325.7,507.9 1326.1,509.3 1326.5,513.1 1326.8,505.5 1327.2,513.2 1327.5,515.4 1327.9,509 1328.3,513.3 1328.6,509.1 1329,510.5 1329.3,506.4 1329.7,518.3 1330.1,506.3 1330.4,507.7 1330.8,498.9 1331.1,509.2 1331.5,507 1331.9,489.6 1332.2,510.1 1332.6,532.6 1332.9,512 1333.3,503.8 1333.7,524 1334,488.3 1334.4,508.8 1334.7,526.4 1335.1,489.3 1335.5,517.9 1335.8,554.3 1336.2,509.2 1336.6,511.1 1336.9,502.7 1337.3,527.2 1337.6,499.9 1338,520.8 1338.4,502.4 1338.7,513.6 1339.1,507.5 1339.4,503.6 1339.8,516.1 1340.2,514.6 1340.5,503.1 1340.9,506.7 1341.2,527 1341.6,513.9 1342,512.4 1342.3,511.1 1342.7,500 1343,497.7 1343.4,517.5 1343.8,510.3 1344.1,514.5 1344.5,538.7 1344.8,505.4 1345.2,519.3 1345.6,520.3 1345.9,508.2 1346.3,517.4 1346.6,510.1 1347,524.5 1347.4,517.8 1347.7,512.9 1348.1,500.1 1348.4,515.9 1348.8,533.9 1349.2,519 1349.5,525.4 1349.9,508.9 1350.2,512 1350.6,498.8 1351,528.6 1351.3,514.4 1351.7,497.1 1352.1,523.8 1352.4,500.9 1352.8,495 1353.1,517.1 1353.5,509.5 1353.9,516.7 1354.2,498.9 1354.6,521.5 1354.9,504.3 1355.3,524.1 1355.7,526.5 1356,503.3 1356.4,521.9 1356.7,493.9 1357.1,530.9 1357.5,496.3 1357.8,485.7 1358.2,511.8 1358.5,523.3 1358.9,516 1359.3,517 1359.6,513.5 1360,492.3 1360.3,519 1360.7,510.2 1361.1,499.4 1361.4,525.2 1361.8,518.9 1362.1,495.6 1362.5,514.8 1362.9,512.7 1363.2,505.2 1363.6,517.6 1363.9,507.6 1364.3,517.9 1364.7,503.9 1365,525.8 1365.4,502.8 1365.8,518.8 1366.1,495.4 1366.5,536.8 1366.8,502.3 1367.2,530.7 1367.6,506 1367.9,519.4 1368.3,503.9 1368.6,499.6 1369,527.6 1369.4,498.4 1369.7,519.9 1370.1,486.9 1370.4,517.9 1370.8,505.3 1371.2,503.6 1371.5,502.9 1371.9,536.5 1372.2,525.9 1372.6,520.9 1373,490.1 1373.3,520 1373.7,506.6 1374,517.1 1374.4,519.2 1374.8,517.8 1375.1,499.9 1375.5,521.7 1375.8,515.4 1376.2,515.3 1376.6,509.9 1376.9,514.1 1377.3,511.1 1377.6,512 1378,512.4 1378.4,509.5 1378.7,515.1 1379.1,506.1 1379.5,516.1 1379.8,514.8 1380.2,513.6 1380.5,509.3 1380.9,517.7 1381.3,507.2 1381.6,504.3 1382,511.9 1382.3,512.7 1382.7,513.4 1383.1,507.9 1383.4,516.5 1383.8,507.1 1384.1,516.5 1384.5,513.4 1384.9,509.4 1385.2,512.7 1385.6,502.7 1385.9,508.7 1386.3,507.8 1386.7,516.2 1387,511.1 1387.4,512.7 1387.7,511.2 1388.1,510.7 1388.5,511.9 1388.8,512.5 1389.2,511.9 1389.5,512.1 1389.9,511.9 1390.3,513.7 1390.6,510.1 1391,502.1 1391.3,511.3 1391.7,525.3 1392.1,515.5 1392.4,514.9 1392.8,509.3 1393.1,514.2 1393.5,513.4 1393.9,508.3 1394.2,509.1 1394.6,510.1 1395,512.9 1395.3,509.1 1395.7,512.1 1396,516.5 1396.4,508.5 1396.8,515.3 1397.1,505.8 1397.5,509 1397.8,512.1 1398.2,512.9 1398.6,512.1 1398.9,514.2 1399.3,512.1 1399.6,514.9 1400,512 1400.4,513.5 1400.7,509.5 1401.1,510.5 1401.4,507.1 1401.8,510 1402.2,512 1402.5,511 1402.9,513.8 1403.2,512.5 1403.6,510.5 1404,512.5 1404.3,508.8 1404.7,517.7 1405,507 1405.4,513.5 1405.8,507.5 1406.1,514 1406.5,507.3 1406.8,505.5 1407.2,513.7 1407.6,508.1 1407.9,515.8 1408.3,512.9 1408.7,510 1409,517 1409.4,513 1409.7,515.3 1410.1,511.6 1410.5,515 1410.8,508.4 1411.2,511.5 1411.5,500 1411.9,511.8 1412.3,513.5 1412.6,511.7 1413,512.5 1413.3,508.5 1413.7,501.2 1414.1,500.1 1414.4,512.5 1414.8,513.4 1415.1,507.9 1415.5,509.4 1415.9,511.9 1416.2,514.4 1416.6,508.7 1416.9,512.7 1417.3,516.6 1417.7,511.6 1418,520 1418.4,510.5 1418.7,508.7 1419.1,510.9 1419.5,510.5 1419.8,513.3 1420.2,517.3 1420.5,504.8 1420.9,509.6 1421.3,513.8 1421.6,514.4 1422,513.3 1422.3,516.2 1422.7,518 1423.1,501.2 1423.4,514.9 1423.8,506.8 1424.2,511.9 1424.5,522 1424.9,511.3 1425.2,510.8 1425.6,514.6 1426,510.3 1426.3,520 1426.7,507.5 1427,521.9 1427.4,509.5 1427.8,510.7 1428.1,517.2 1428.5,512.2 1428.8,510.5 1429.2,515.2 1429.6,508.3 1429.9,514.9 1430.3,521.6 1430.6,501.2 1431,511.3 1431.4,527.4 1431.7,503.5 1432.1,520 1432.4,502.2 1432.8,522 1433.2,531.8 1433.5,517.9 1433.9,510.9 1434.2,509.3 1434.6,515.5 1435,512.5 1435.3,518.2 1435.7,513.5 1436,510.1 1436.4,521.7 1436.8,499.8 1437.1,517.6 1437.5,505.7 1437.9,511.8 1438.2,509 1438.6,513.8 1438.9,514.4 1439.3,515.7 1439.7,516.6 1440,506.8 1440.4,514.8 1440.7,514 1441.1,512.5 1441.5,510.4 1441.8,517.7 1442.2,516.4 1442.5,517.7 1442.9,516 1443.3,501.5 1443.6,512.2 1444,513.4 1444.3,517.9 1444.7,508.7 1445.1,509 1445.4,511.9 1445.8,513.3 1446.1,508.6 1446.5,513.4 1446.9,512.9 1447.2,505.2 1447.6,511.6 1447.9,528.1 1448.3,513.6 1448.7,505.1 1449,496 1449.4,506.4 1449.7,499.7 1450.1,516.8 1450.5,508.6 1450.8,520.2 1451.2,508.5 1451.6,502.4 1451.9,505.9 1452.3,512.4 1452.6,515.4 1453,507.9 1453.4,512.3 1453.7,503.6 1454.1,511.4 1454.4,513 1454.8,510.8 1455.2,521.7 1455.5,519.7 1455.9,513.4 1456.2,508 1456.6,515.5 1457,517.2 1457.3,503.5 1457.7,517.4 1458,509.8 1458.4,513.4 1458.8,519.2 1459.1,491.9 1459.5,507.4 1459.8,514.1 1460.2,507.4 1460.6,498.2 1460.9,511.7 1461.3,514.9 1461.6,508.9 1462,509.2 1462.4,513.8 1462.7,511.2 1463.1,509.7 1463.4,515.6 1463.8,503.5 1464.2,512.7 1464.5,517.7 1464.9,504.7 1465.2,505.1 1465.6,512.1 1466,502.2 1466.3,515 1466.7,510.6 1467.1,518.4 1467.4,510.8 1467.8,503.6 1468.1,515.9 1468.5,505.7 1468.9,513.8 1469.2,504.1 1469.6,493.3 1469.9,507.2 1470.3,511.7 1470.7,505.6 1471,517.1 1471.4,508 1471.7,516.6 1472.1,511.5 1472.5,520.6 1472.8,507.6 1473.2,512.8 1473.5,512.5 1473.9,510.1 1474.3,503.3 1474.6,518.6 1475,505 1475.3,516.6 1475.7,509.6 1476.1,513.9 1476.4,515.3 1476.8,512.8 1477.1,514.4 1477.5,517.3 1477.9,513.1 1478.2,509.3 1478.6,518.4 1478.9,501.1 1479.3,521.3 1479.7,514 1480,504.9 1480.4,479 1480.8,443.2 1481.1,607.7 1481.5,599.8 1481.8,552 1482.2,499.2 1482.6,521.4 1482.9,506.6 1483.3,510.8 1483.6,517 1484,511.5 1484.4,518.5 1484.7,508 1485.1,513 1485.4,512.9 1485.8,521 1486.2,505.5 1486.5,511.6 1486.9,510.7 1487.2,505.9 1487.6,517.4 1488,505.6 1488.3,510.1 1488.7,510.9 1489,513.5 1489.4,505.8 1489.8,518.7 1490.1,513.8 1490.5,515.7 1490.8,507.6 1491.2,508.3 1491.6,503.5 1491.9,513.9 1492.3,511.9 1492.6,514.9 1493,513.9 1493.4,514.3 1493.7,509.6 1494.1,506.2 1494.4,516.5 1494.8,507.2 1495.2,519.1 1495.5,518.6 1495.9,511.5 1496.3,517.9 1496.6,508 1497,514.1 1497.3,505.8 1497.7,514.9 1498.1,512.1 1498.4,510 1498.8,503.8 1499.1,517.7 1499.5,508.5 1499.9,506.8 1500.2,511.9 1500.6,522.9 1500.9,508.4 1501.3,513 1501.7,519.4 1502,515.3 1502.4,503.9 1502.7,516.5 1503.1,501.7 1503.5,509.8 1503.8,518.9 1504.2,506.5 1504.5,512.5 1504.9,511.9 1505.3,508.1 1505.6,514.8 1506,510.8 1506.3,513.2 1506.7,513.7 1507.1,510.2 1507.4,506.6 1507.8,519.9 1508.1,506.5 1508.5,508 1508.9,507.2 1509.2,514.4 1509.6,506.6 1510,519.3 1510.3,519 1510.7,507.9 1511,521.3 1511.4,505.8 1511.8,510.5 1512.1,514.1 1512.5,511.1 1512.8,527.6 1513.2,511.8 1513.6,509 1513.9,514.6 1514.3,506.3 1514.6,512.7 1515,510.2 1515.4,512.2 1515.7,508.8 1516.1,513.1 1516.4,514.8 1516.8,507.7 1517.2,515.2 1517.5,506.1 1517.9,514.8 1518.2,506.7 1518.6,525.6 1519,512.8 1519.3,517.2 1519.7,508.1 1520,510.6 1520.4,514.9 1520.8,514.2 1521.1,510.9 1521.5,515.9 1521.8,511.6 1522.2,510.6 1522.6,504.4 1522.9,513.4 1523.3,516.5 1523.7,510.7 1524,508.2 1524.4,516.6 1524.7,508.6 1525.1,511.6 1525.5,513.6 1525.8,510.1 1526.2,511.2 1526.5,516.8 1526.9,515.9 1527.3,508.4 1527.6,517.7 1528,514.8 1528.3,506.7 1528.7,505.5 1529.1,509.4 1529.4,508.3 1529.8,513.8 1530.1,507.4 1530.5,509.1 1530.9,502.8 1531.2,509.8 1531.6,518.4 1531.9,505.8 1532.3,527.4 1532.7,517.1 1533,514.1 1533.4,511.3 1533.7,517.1 1534.1,509.8 1534.5,517.9 1534.8,513.2 1535.2,510.9 1535.5,519.5 1535.9,503 1536.3,509.5 1536.6,516.4 1537,512.6 1537.3,504.1 1537.7,507.1 1538.1,505.5 1538.4,517 1538.8,511.3 1539.2,498.5 1539.5,510.5 1539.9,529.5 1540.2,510.8 1540.6,512.8 1541,506 1541.3,509.2 1541.7,510.9 1542,515.2 1542.4,514.9 1542.8,516 1543.1,509.6 1543.5,511.3 1543.8,514.5 1544.2,517.5 1544.6,511.2 1544.9,514.3 1545.3,505.7 1545.6,516.3 1546,517.4 1546.4,508.6 1546.7,510.5 1547.1,512.2 1547.4,508.2 1547.8,514.5 1548.2,513.7 1548.5,514.6 1548.9,506.2 1549.2,512.8 1549.6,516.7 1550,510.3 1550.3,512.7 1550.7,512.6 1551,515.9 1551.4,508.1 1551.8,516.2 1552.1,513.9 1552.5,511.7 1552.9,510.7 1553.2,512.5 1553.6,511.6 1553.9,509.8 1554.3,511.9 1554.7,512.4 1555,513.9 1555.4,510.9 1555.7,527.1 1556.1,519.9 1556.5,510.4 1556.8,516.6 1557.2,507.4 1557.5,514.6 1557.9,516.5 1558.3,510.5 1558.6,512.5 1559,505.3 1559.3,502.1 1559.7,517 1560.1,512.1 1560.4,512.3 1560.8,513.4 1561.1,506.1 1561.5,520.9 1561.9,514.4 1562.2,519 1562.6,511.5 1562.9,518.2 1563.3,509.5 1563.7,516.9 1564,514.3 1564.4,513.6 1564.7,508.3 1565.1,523.5 1565.5,507.9 1565.8,515.5 1566.2,515.2 1566.5,509 1566.9,513.5 1567.3,508.7 1567.6,509 1568,508.7 1568.4,518.8 1568.7,512 1569.1,512.1 1569.4,509.2 1569.8,512.8 1570.2,502.6 1570.5,515.4 1570.9,496.2 1571.2,521.3 1571.6,504.3 1572,516.3 1572.3,502.6 1572.7,517.2 1573,514.7 1573.4,524.5 1573.8,508.5 1574.1,517 1574.5,511 1574.8,519.8 1575.2,509.5 1575.6,514.7 1575.9,508.5 1576.3,518.5 1576.6,514.4 1577,510.4 1577.4,512.8 1577.7,510.8 1578.1,508.8 1578.4,510.6 1578.8,512.2 1579.2,509.6 1579.5,515.9 1579.9,520.3 1580.2,515.7 1580.6,510.2 1581,510.3 1581.3,513.3 1581.7,509.7 1582.1,463.1 1582.4,512.4 1582.8,538.7 1583.1,508.3 1583.5,514.7 1583.9,508.9 1584.2,514 1584.6,515.3 1584.9,507.9 1585.3,513.8 1585.7,512 1586,513.2 1586.4,507.8 1586.7,514.8 1587.1,511 1587.5,514.8 1587.8,512.4 1588.2,512.1 1588.5,509.9 1588.9,516.3 1589.3,509 1589.6,521.5 1590,510.3 1590.3,513.2 1590.7,511.5 1591.1,513.8 1591.4,513.5 1591.8,511.1 1592.1,511.4 1592.5,512.9 1592.9,515.3 1593.2,512.7 1593.6,510 1593.9,512.4 1594.3,508.8 1594.7,511.7 1595,508.9 1595.4,514.8 1595.8,509.6 1596.1,510.9 1596.5,523.4 1596.8,515.4 1597.2,520.4 1597.6,512.7 1597.9,514.1 1598.3,511.1 1598.6,521.5 1599,512.3 1599.4,513.5 1599.7,514.2 1600.1,511.2 1600.4,512.8 1600.8,514.3 1601.2,510.1 1601.5,512.4 1601.9,514.8 1602.2,509.9 1602.6,514 1603,514.7 1603.3,515.2 1603.7,511.7 1604,513.7 1604.4,510.5 1604.8,507.3 1605.1,513.9 1605.5,512.5 1605.8,511.7 1606.2,513.6 1606.6,511.2 1606.9,512.7 1607.3,516.6 1607.6,512.6 1608,511.3 1608.4,498.8 1608.7,513.7 1609.1,509.9 1609.4,513.2 1609.8,509.4 1610.2,517.4 1610.5,513.6 1610.9,506.6 1611.3,503.6 1611.6,502.3 1612,516.2 1612.3,506.6 1612.7,472.4 1613.1,513.9 1613.4,514.1 1613.8,558 1614.1,515.7 1614.5,514 1614.9,510.6 1615.2,507.6 1615.6,512.6 1615.9,518.1 1616.3,516.6 1616.7,504.9 1617,519.1 1617.4,507.6 1617.7,516.7 1618.1,511.5 1618.5,514.5 1618.8,512.2 1619.2,500.9 1619.5,511.9 1619.9,519.4 1620.3,516.2 1620.6,512.2 1621,508.7 1621.3,513.9 1621.7,510.5 1622.1,511.4 1622.4,514.7 1622.8,509.5 1623.1,512.4 1623.5,509.7 1623.9,512.6 1624.2,514.8 1624.6,512.8 1625,510.9 1625.3,510.8 1625.7,516 1626,526.3 1626.4,513 1626.8,516.4 1627.1,511.8 1627.5,508.3 1627.8,513 1628.2,510.9 1628.6,509.8 1628.9,514.7 1629.3,506.2 1629.6,512.1 1630,514 1630.4,509.9 1630.7,507.8 1631.1,517.6 1631.4,514.5 1631.8,505.9 1632.2,515.9 1632.5,521 1632.9,515.1 1633.2,516.5 1633.6,523.6 1634,406.8 1634.3,508.3 1634.7,541.4 1635,499.9 1635.4,524.6 1635.8,500.1 1636.1,522.3 1636.5,522.3 1636.8,517.7 1637.2,508.3 1637.6,513.8 1637.9,510.5 1638.3,518.4 1638.7,479 1639,544 1639.4,504.8 1639.7,520.6 1640.1,514.9 1640.5,512.1 1640.8,503.2 1641.2,526.7 1641.5,511.5 1641.9,506.4 1642.3,510.5 1642.6,504.8 1643,504.7 1643.3,509.4 1643.7,531 1644.1,514 1644.4,510.6 1644.8,513.2 1645.1,493.1 1645.5,512.5 1645.9,513.8 1646.2,507.6 1646.6,516.9 1646.9,511.4 1647.3,511.4 1647.7,515.8 1648,507.3 1648.4,501.3 1648.7,509.3 1649.1,518.6 1649.5,511.9 1649.8,509 1650.2,509.3 1650.5,515.9 1650.9,513 1651.3,518.3 1651.6,510.9 1652,511.4 1652.3,513.4 1652.7,511.2 1653.1,508.1 1653.4,510.6 1653.8,516.5 1654.2,511.1 1654.5,512.6 1654.9,506.6 1655.2,511.7 1655.6,511.5 1656,517.6 1656.3,509.8 1656.7,512.3 1657,503 1657.4,493.5 1657.8,516.8 1658.1,509.1 1658.5,516 1658.8,512.9 1659.2,505.9 1659.6,499 1659.9,510.2 1660.3,528.6 1660.6,516.4 1661,513.5 1661.4,512.7 1661.7,501.6 1662.1,469.7 1662.4,537.4 1662.8,508.8 1663.2,497.2 1663.5,510.3 1663.9,513.6 1664.2,509.2 1664.6,513.4 1665,514.8 1665.3,503.9 1665.7,513.6 1666,517.7 1666.4,515.6 1666.8,512.3 1667.1,515.5 1667.5,509.4 1667.9,506.8 1668.2,512.3 1668.6,515.5 1668.9,512.7 1669.3,510.6 1669.7,507.9 1670,512.6 1670.4,510.8 1670.7,507.2 1671.1,515.3 1671.5,501.7 1671.8,513.9 1672.2,513.4 1672.5,504.9 1672.9,530.2 1673.3,505.6 1673.6,505.6 1674,518.8 1674.3,502.1 1674.7,511.7 1675.1,491.9 1675.4,517.8 1675.8,513.5 1676.1,512.5 1676.5,510.2 1676.9,514 1677.2,505.8 1677.6,492.5 1677.9,522.8 1678.3,500.7 1678.7,522.5 1679,510 1679.4,507.7 1679.7,508.2 1680.1,511.7 1680.5,509.5 1680.8,530 1681.2,512.4 1681.5,521.6 1681.9,522.1 1682.3,523.8 1682.6,512.2 1683,500.3 1683.4,521.9 1683.7,517.5 1684.1,510.1 1684.4,512.7 1684.8,520.2 1685.2,506 1685.5,504.9 1685.9,518.9 1686.2,520 1686.6,511.7 1687,514.2 1687.3,510 1687.7,513.7 1688,513.3 1688.4,513.7 1688.8,513.6 1689.1,501.9 1689.5,512.3 1689.8,508.8 1690.2,506.3 1690.6,515.5 1690.9,507.2 1691.3,518.7 1691.6,508.6 1692,512.6 1692.4,516.1 1692.7,504.7 1693.1,514.4 1693.4,514.3 1693.8,513.5 1694.2,511.5 1694.5,516.3 1694.9,518.1 1695.2,512.1 1695.6,510.8 1696,516.2 1696.3,510.4 1696.7,524.6 1697.1,504.1 1697.4,485.7 1697.8,550.7 1698.1,512.7 1698.5,512.4 1698.9,513.5 1699.2,510.6 1699.6,517.5 1699.9,504.4 1700.3,515.4 1700.7,516.6 1701,533.4 1701.4,515.6 1701.7,506.1 1702.1,520.9 1702.5,492.1 1702.8,515.2 1703.2,516.7 1703.5,502.9 1703.9,511.9 1704.3,508 1704.6,502.2 1705,519 1705.3,488.4 1705.7,509.8 1706.1,504.9 1706.4,505.5 1706.8,505.8 1707.1,510.5 1707.5,511.3 1707.9,514.1 1708.2,507.5 1708.6,517.6 1708.9,509.6 1709.3,515.1 1709.7,505.2 1710,515.3 1710.4,512.6 1710.8,511.6 1711.1,504.4 1711.5,513.2 1711.8,501.4 1712.2,525.5 1712.6,538.7 1712.9,514.3 1713.3,514.8 1713.6,506.1 1714,507.7 1714.4,507.9 1714.7,515.6 1715.1,518.2 1715.4,513.8 1715.8,496.3 1716.2,502.5 1716.5,530.4 1716.9,506.1 1717.2,499.6 1717.6,527.9 1718,497 1718.3,510.1 1718.7,511.9 1719,511.6 1719.4,525.9 1719.8,501.9 1720.1,512 1720.5,507.1 1720.8,516.1 1721.2,526.3 1721.6,517.5 1721.9,499.1 1722.3,492.6 1722.6,518.1 1723,514.5 1723.4,514.4 1723.7,522.7 1724.1,512.8 1724.4,518.8 1724.8,510.8 1725.2,505.6 1725.5,515.7 1725.9,511 1726.3,516.1 1726.6,509.7 1727,517.5 1727.3,532.9 1727.7,506.9 1728.1,515.8 1728.4,520.7 1728.8,512.2 1729.1,513.8 1729.5,512.8 1729.9,526.5 1730.2,513.8 1730.6,503.5 1730.9,507.3 1731.3,495.2 1731.7,505.7 1732,502.5 1732.4,507.3 1732.7,516.6 1733.1,514.3 1733.5,520 1733.8,521.2 1734.2,507.8 1734.5,517.2 1734.9,489.9 1735.3,525.9 1735.6,525.6 1736,512.4 1736.3,512.4 1736.7,518.2 1737.1,516.1 1737.4,507 1737.8,521.2 1738.1,511 1738.5,515.6 1738.9,520.1 1739.2,501.9 1739.6,507.1 1740,507.6 1740.3,512.7 1740.7,505.7 1741,522.8 1741.4,511.8 1741.8,512.7 1742.1,521.1 1742.5,511.1 1742.8,514.4 1743.2,502.7 1743.6,521.7 1743.9,537.5 1744.3,505.3 1744.6,530.8 1745,492.8 1745.4,514.1 1745.7,510.4 1746.1,521.5 1746.4,514.3" stroke="#000" stroke-width="1" fill="none" stroke-linejoin="miter"/>
</g>
<path d="M1206 644.9v-7.3M1206 379.5v7.3M1386.3 644.9v-7.3M1386.3 379.5v7.3M1566.5 644.9v-7.3M1566.5 379.5v7.3M1025.8 578.5h7.3M1746.8 578.5h-7.3M1025.8 512.2h7.3M1746.8 512.2h-7.3M1025.8 445.8h7.3M1746.8 445.8h-7.3" stroke="#262626" stroke-width="1" fill="none"/>
<rect x="1025.8" y="379.5" width="721" height="265.4" stroke="#262626" stroke-width="1.2" fill="none"/>
<g font-size="23" fill="#111" stroke="#111" stroke-width="0.4" letter-spacing="0.5"><text x="1026" y="677.1" text-anchor="middle">0</text><text x="1206.3" y="677.1" text-anchor="middle">500</text><text x="1386.5" y="677.1" text-anchor="middle">1000</text><text x="1566.8" y="677.1" text-anchor="middle">1500</text><text x="1747" y="677.1" text-anchor="middle">2000</text><text x="1016.8" y="653.6" text-anchor="end">-100</text><text x="1016.8" y="587.2" text-anchor="end">-50</text><text x="1016.8" y="520.9" text-anchor="end">0</text><text x="1016.8" y="454.5" text-anchor="end">50</text><text x="1016.8" y="388.2" text-anchor="end">100</text></g>
<text transform="translate(23.3 141.7) rotate(-90)" text-anchor="middle" font-size="30" fill="#111" stroke="#111" stroke-width="0.4">D1 of IMF1 (cm/s)</text>
<text transform="translate(23.3 512.2) rotate(-90)" text-anchor="middle" font-size="30" fill="#111" stroke="#111" stroke-width="0.4">D1 prediction error (cm/s)</text>
<text transform="translate(957.2 141.7) rotate(-90)" text-anchor="middle" font-size="30" fill="#111" stroke="#111" stroke-width="0.4">A1 of IMF1 (cm/s)</text>
<text transform="translate(957.2 512.2) rotate(-90)" text-anchor="middle" font-size="30" fill="#111" stroke="#111" stroke-width="0.4">A1 prediction error (cm/s)</text>
<text x="437.9" y="716" text-anchor="middle" font-size="30" fill="#111" stroke="#111" stroke-width="0.4">time (h)</text>
<text x="1386.3" y="716" text-anchor="middle" font-size="30" fill="#111" stroke="#111" stroke-width="0.4">time (h)</text>
<rect x="543.5" y="10.5" width="171" height="67" fill="#fff" stroke="#000" stroke-width="1"/>
<path d="M569.9 28.8h9M574.4 24.3v9" stroke="#f00" stroke-width="1.3" fill="none"/>
<path d="M551.7 59.6H596.9" stroke="#2a2aff" stroke-width="1.2" fill="none"/>
<g font-size="24" fill="#000" stroke="#000" stroke-width="0.4"><text x="600.8" y="37.3">predicted</text><text x="600.8" y="68.8">measured</text></g>
<rect x="1570.5" y="20.5" width="164" height="65" fill="#fff" stroke="#000" stroke-width="1"/>
<path d="M1593 38.2h9M1597.5 33.7v9" stroke="#f00" stroke-width="1.3" fill="none"/>
<path d="M1574.8 68.6H1620.4" stroke="#2a2aff" stroke-width="1.2" fill="none"/>
<g font-size="24" fill="#000" stroke="#000" stroke-width="0.4"><text x="1623.6" y="46.6">predicted</text><text x="1623.6" y="77">measured</text></g>
</svg>
</body></html>
